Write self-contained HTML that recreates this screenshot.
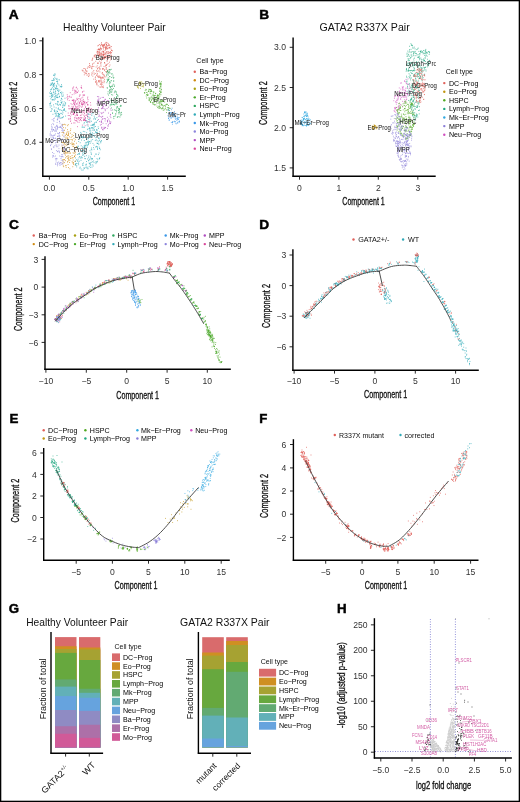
<!DOCTYPE html>
<html><head><meta charset="utf-8"><title>Figure</title>
<style>
html,body{margin:0;padding:0;background:#fff;}
body{width:520px;height:802px;overflow:hidden;}
svg{display:block;font-family:"Liberation Sans",sans-serif;will-change:transform;}
</style></head><body>
<svg width="520" height="802" viewBox="0 0 520 802">
<defs>
<clipPath id="clipA"><rect x="43.5" y="30" width="142.3" height="146"/></clipPath>
<clipPath id="clipB"><rect x="293.5" y="30" width="142.4" height="146"/></clipPath>
</defs>
<rect x="0" y="0" width="520" height="802" fill="#fff"/>
<g>
<text x="8.7" y="18.8" font-size="12.8" font-weight="bold" fill="#000" textLength="9.9" lengthAdjust="spacingAndGlyphs" stroke="#000" stroke-width="0.45">A</text>
<text x="63.1" y="31.1" font-size="10.3" fill="#111" textLength="102.7" lengthAdjust="spacingAndGlyphs">Healthy Volunteer Pair</text>
<path d="M54.51 79.94h.01M58.11 89.82h.01M49.99 96.34h.01M49.64 92.95h.01M56.22 111.04h.01M51.1 83.27h.01M59.67 116.59h.01M58.81 91.25h.01M54.24 110.54h.01M52.07 99.75h.01M59.86 90.13h.01M60.57 92.67h.01M54.34 99.94h.01M56.7 86.79h.01M62.5 105.15h.01M53.15 99.42h.01M57.93 113.26h.01M61.4 86.25h.01M56.11 107.83h.01M51.58 95.49h.01M49.67 103.74h.01M62 99.36h.01M60.82 100.34h.01M58.86 93.99h.01M63.28 116.46h.01M57.06 103.55h.01M50.03 105.27h.01M55.56 103.76h.01M51.2 84.39h.01M55.65 113.09h.01M50.37 93.66h.01M58.34 113.64h.01M62.93 112.74h.01M53.73 92.1h.01M55.1 113.67h.01M52 83.67h.01M52.97 95.31h.01M59.02 85.09h.01M55.28 99.05h.01M65.2 104.76h.01M57.76 101.41h.01M64.29 108.88h.01M63.87 109.7h.01M55.67 91.35h.01M50.76 102.18h.01M52.55 80.47h.01M54.78 75.42h.01M50.72 89.73h.01M59.44 79.83h.01M53.29 88.98h.01M55.19 78.65h.01M56.92 95.26h.01M54.82 85.18h.01M57.98 79.74h.01M57.98 118.01h.01M63.68 105.03h.01M53.44 89.87h.01M51.84 108.51h.01M58.05 108.84h.01M54.6 83.26h.01M63.49 110.08h.01M62.91 107.03h.01M52.85 96.81h.01M55.04 74.33h.01M53.41 104.86h.01M52.75 83.43h.01M52.34 82.4h.01M59.61 114.41h.01M63.29 95.06h.01M60.1 109.78h.01M50.44 103.39h.01M64.47 108.99h.01M61.75 94.99h.01M52.03 109.3h.01M54.65 109.84h.01M55.82 116.55h.01M64.38 110.1h.01M51.48 111.02h.01M65.67 103.23h.01M54.96 98.24h.01M65.51 102.89h.01M57.95 115.95h.01M56.37 113.1h.01M53.28 86.48h.01M53.09 99.98h.01M53.41 92.27h.01M55.01 94.08h.01M58.92 114.6h.01M56.15 115.22h.01M57.53 97.46h.01M56.48 81.42h.01M51.93 94.78h.01M61.33 98.6h.01M54.54 96.84h.01M58.44 109.08h.01M50.8 98.77h.01M53.22 85.74h.01M62.13 96.35h.01M58.55 107.96h.01M59.41 96.26h.01M57.71 104.87h.01M56.69 97.53h.01M57.13 116.31h.01M60.89 113.32h.01M58.51 116.39h.01M51.07 93.34h.01M50.24 103.8h.01M62.33 114.26h.01M51.63 105.94h.01M55.77 95.41h.01M65.83 111.29h.01M51.74 92.85h.01M57.77 88.6h.01M52.33 87.65h.01M58.42 93.26h.01M59.61 96.56h.01M62.4 117.7h.01M50.78 85.22h.01M53.6 78.96h.01M56.18 114.93h.01M58.7 105.22h.01M60.7 92.56h.01M59.79 109.87h.01M56.71 88.6h.01M58.4 115.63h.01M53.55 78.94h.01M57.96 83.97h.01M54.3 87.03h.01M61.91 86.34h.01M57.5 81.18h.01M54.9 73.84h.01M61.46 98.35h.01M52.22 94.84h.01M62.92 92.88h.01M57.42 111.39h.01M55.68 96.31h.01M60.69 118.19h.01M54.83 111.29h.01M61.01 102.25h.01M55.88 88.99h.01M50.2 107.08h.01M53.35 80.51h.01M63.8 103.84h.01M53.79 84.14h.01M53.98 94.13h.01M51.68 93.51h.01M54.26 89.4h.01M57.07 96.13h.01M52.42 96.22h.01M50.53 91.38h.01M54.17 83.71h.01M58.95 97.34h.01M61.76 103.25h.01M61.17 113.44h.01M55.62 88h.01M61.31 102.59h.01M64.16 101.86h.01M61.48 110.36h.01M51.37 97.09h.01M57.57 111.41h.01M62.68 111.01h.01M58.93 114.07h.01M60.61 104.89h.01M51.26 89.59h.01M50.78 111.45h.01M58.49 101.88h.01M59.65 104.31h.01M62.56 107.42h.01M57.55 97.62h.01M61.53 84.6h.01M50.27 85.22h.01M61.58 117.88h.01M57.4 90.6h.01M57.14 104.45h.01M62.04 101.38h.01M51.51 84.68h.01M61.63 87h.01M60.42 104.84h.01M60.49 86.38h.01M57.78 94.37h.01M56.93 78.45h.01M65.63 116.07h.01M62.94 117.53h.01M56.64 85.36h.01M52.58 99.75h.01M51.41 97.11h.01M62.94 96.4h.01M64.08 105.35h.01M52.93 114.29h.01M56.66 86.89h.01M51.39 88.82h.01M54.37 111.65h.01M64.75 105.8h.01M55.33 91.07h.01M55.13 92.69h.01M53.68 75.22h.01M53.24 85.22h.01M57.69 81.73h.01M64.03 110.35h.01M59.73 115.02h.01M64.99 98.26h.01M61.45 93.74h.01M61.8 102.65h.01M53.87 75.25h.01M57.03 88.81h.01M54.06 107h.01M60.15 86.84h.01M58.47 91.14h.01M51.84 80.44h.01M57.45 83.12h.01M56.65 79.42h.01M54.81 77.19h.01M53.07 84.88h.01M58.68 113.81h.01M61.74 91.99h.01M56.04 97.11h.01M55.41 88.56h.01M57.56 101.96h.01M53.61 84.43h.01M55.8 93.51h.01" stroke="#30aab8" stroke-width="1" stroke-linecap="round" fill="none" stroke-opacity="0.8"/>
<path d="M63.44 141.14h.01M55.87 164.27h.01M62.38 160.63h.01M51.64 124.87h.01M57.84 151.79h.01M64.12 153.81h.01M59.71 156h.01M56.86 145.13h.01M59.68 132.49h.01M51.92 129.84h.01M59.54 152.63h.01M57.87 146.73h.01M55.82 128.4h.01M59.02 117.53h.01M54.52 140.5h.01M64.38 149.87h.01M63.26 141.24h.01M53.52 129.6h.01M64.41 152.94h.01M54.61 118.11h.01M57.47 151.4h.01M56.3 130.12h.01M60.01 164.18h.01M53.4 118.74h.01M55.07 138.45h.01M60.24 127.1h.01M61.96 154.7h.01M57.57 127.47h.01M62.3 128.77h.01M53.32 155.78h.01M57.44 126.55h.01M53.35 138.27h.01M59.98 165.39h.01M52.2 137.07h.01M52.13 119.64h.01M50.9 137.06h.01M63.47 162.06h.01M63.97 133.79h.01M59.97 136.31h.01M55.61 133.92h.01M54.2 134.92h.01M55.35 158.9h.01M62.33 139.05h.01M50.74 141.15h.01M55.59 163.89h.01M52.9 135.58h.01M56.16 158.4h.01M63.8 130.11h.01M61.21 162.83h.01M55.09 130.89h.01M64.37 148.47h.01M53.93 153.55h.01M54.75 131.06h.01M63.75 149.33h.01M53.51 141.23h.01M55.8 129.8h.01M56.45 142.17h.01M62.04 154.66h.01M62.34 156.41h.01M59.11 133.72h.01M54.79 135.45h.01M52.96 155.4h.01M53.71 120.3h.01M50.51 145.18h.01M53.97 121.29h.01M51.45 142.42h.01M60.65 139.8h.01M53.51 138.26h.01M59.3 151.38h.01M61.22 160.2h.01M59.97 123.18h.01M62.61 131.98h.01M58.5 136.02h.01M61.07 127.16h.01M53.71 129.51h.01M58.67 133.64h.01M57.61 128.8h.01M62.13 150.32h.01M57.12 158.77h.01M62.61 163.63h.01M50.61 131.98h.01M51.79 126.67h.01M64.59 146.74h.01M63.95 135.98h.01M62.99 139.9h.01M53.9 156.67h.01M58.94 148.62h.01M53.26 135.8h.01M52.12 127.4h.01M53.82 147.57h.01M59.77 127.38h.01M50.17 133.69h.01M60.17 126.44h.01M54.68 127.37h.01M61.93 144.95h.01M55.93 145.06h.01M59.59 121.65h.01M52.46 152.47h.01M56.15 131.45h.01M54.69 145.89h.01M55.36 138.24h.01M55.46 127.06h.01M60.92 127.39h.01M56.36 158.84h.01M56.09 162.02h.01M56.91 125.29h.01M59.61 163.4h.01M51.34 148.73h.01M55.56 142.73h.01M52.19 131.45h.01M57.82 164.2h.01M51.63 142.02h.01M52.96 123.46h.01M57.24 119.72h.01M63.89 136.78h.01M63.56 148.64h.01M62.37 125.17h.01M61.79 128.33h.01M56.07 160.16h.01M62.44 126.33h.01M53.27 137.39h.01M57.77 136.56h.01M51.85 129.6h.01M60.87 162.76h.01M50.62 145.68h.01M58.99 145.05h.01M59.41 132.62h.01M56.3 146.71h.01M56.39 150.6h.01M56.7 139.36h.01M57.34 129h.01M61.45 156.78h.01M56.87 126.16h.01M57.1 122.46h.01M51.93 138.96h.01M51.38 139.54h.01M57.65 119.08h.01M59.55 121.19h.01M61 156.66h.01M57.67 119.77h.01M57.56 136.27h.01M60.98 158.56h.01M57.38 165.79h.01M61.83 164.46h.01M50.98 134.9h.01M61.34 125.1h.01M63.45 131.02h.01M62.23 124.32h.01M57.53 163.92h.01M53.12 130.41h.01M57.59 133.27h.01M60.2 162.67h.01M52.53 157.03h.01M51.73 144.07h.01M59.54 135.35h.01M63.09 145.31h.01M58.7 162.01h.01M59.45 137.11h.01M61.97 130.5h.01M55.4 156h.01M56.63 126.01h.01M62.3 129.94h.01M58.79 150.85h.01M59.24 139.04h.01M57.69 162.67h.01M51.98 128.59h.01M59.8 118.14h.01M50.04 135.1h.01M51.6 135.21h.01M53.36 146.76h.01M58.84 127.41h.01M59.36 141.22h.01M53.65 124.61h.01M51.44 149.55h.01M63.07 156.89h.01" stroke="#8c84dc" stroke-width="1" stroke-linecap="round" fill="none" stroke-opacity="0.8"/>
<path d="M68.43 135.42h.01M71 139.47h.01M72.33 143.86h.01M65.98 165.46h.01M62.7 147.98h.01M68.5 134.17h.01M62.93 159.61h.01M62.2 148.89h.01M65.19 151.58h.01M70.11 153.15h.01M66.95 137.11h.01M74.53 156.62h.01M73.92 144.87h.01M73.87 144.27h.01M65.62 127.95h.01M65.72 124.82h.01M67.37 158.23h.01M73.12 162.73h.01M73.39 135.5h.01M70.86 143.49h.01M74.62 147.59h.01M66.24 153.17h.01M66.17 134.1h.01M73.94 138.36h.01M65.83 165.66h.01M72.09 155.56h.01M69.51 162.47h.01M73.16 163.3h.01M69 157.06h.01M71.13 137.46h.01M65.39 152.26h.01M63.24 165.81h.01M64.31 124.26h.01M63.71 166.66h.01M67.52 129.67h.01M62.46 124.96h.01M73.08 152.79h.01M73.15 157.63h.01M63.05 150.75h.01M67.81 161.43h.01M75.11 164.89h.01M63.06 163.79h.01M63.71 132.67h.01M63.79 124.62h.01M75.56 161.16h.01M72.15 161.78h.01M72.1 136.51h.01M63.6 127.6h.01M74.12 132.63h.01M67.11 142.92h.01M62.33 135.07h.01M66.52 156.64h.01M67.89 138.08h.01M75.62 152.06h.01M62.5 142.41h.01M68.98 159.33h.01M67.55 156.12h.01M70.61 133.18h.01M62.02 132.5h.01M62.07 146.07h.01M69.86 160.45h.01M64.95 146.25h.01M67.55 162.1h.01M66.17 167.36h.01M66.54 133.09h.01M73.19 146.42h.01M63.76 152.92h.01M63.29 160.03h.01M73.15 159.99h.01M72.05 139.71h.01M68.42 141.55h.01M65.3 135.37h.01M76.42 146.56h.01M68.07 164.55h.01M65.74 144.66h.01M70.5 158.46h.01M74.05 153.38h.01M67.58 138.35h.01M64.49 162.63h.01M72.59 157.87h.01M64.71 143.62h.01M74.37 150.22h.01M64.02 144.71h.01M65.07 137.17h.01M73.25 162.65h.01M64.47 130.33h.01M65.96 138.35h.01M70.35 130.56h.01M67.25 131.9h.01M63.63 141.06h.01M73.73 143.44h.01M65.14 152.99h.01M63.71 132.7h.01M68.21 124.59h.01M68.38 160.18h.01M73.1 146.52h.01M72.12 144.77h.01M64.27 151.37h.01M68.48 157.82h.01M76.53 143.21h.01M71.18 158.21h.01M68.74 133.74h.01M73.56 164.36h.01M74.38 155.9h.01M75.64 154.94h.01M72.26 144.33h.01M67.01 152.53h.01M63.57 142.72h.01M74.52 156.52h.01M72.07 134.75h.01M68.78 144.39h.01M71.95 142.24h.01M72.8 166.72h.01M64.93 153.76h.01M74.45 141.27h.01M69.84 168.81h.01M62.61 148.54h.01M64.57 159.74h.01M77.05 147.4h.01M63.62 150h.01M70.66 156.71h.01M70.2 153.05h.01M75.26 147.52h.01M68.57 167.55h.01M65.36 155.16h.01M68.28 158.85h.01M67.69 125.66h.01M66.39 141.79h.01M62.21 142.67h.01M68.73 155.82h.01M67.63 135.46h.01M65.59 157.85h.01M77.04 147.77h.01M65.5 160.67h.01M68.27 132.96h.01M64.07 159.5h.01M74.95 152.81h.01M69.51 149.42h.01M67.65 153.02h.01M75.1 161.36h.01M69.49 136.83h.01M70.77 128.88h.01M75.34 139.67h.01M68.02 134.92h.01M68.82 131.74h.01M66.5 134.51h.01M66.83 145.54h.01M68.86 152.95h.01M72.55 140.03h.01M62.91 161.91h.01" stroke="#d08a10" stroke-width="1" stroke-linecap="round" fill="none" stroke-opacity="0.8"/>
<path d="M99.36 158.47h.01M77.93 161.22h.01M91.73 113.87h.01M92.37 127.5h.01M80.54 158.03h.01M99.31 158.92h.01M78.7 164.69h.01M91.03 158.31h.01M92.72 164.85h.01M96.07 161.65h.01M79.53 153.18h.01M88.86 156.03h.01M86.28 164.2h.01M89.54 128.34h.01M87.81 116.39h.01M87.08 121.38h.01M87.76 141.89h.01M89.11 163.05h.01M87.1 145.63h.01M92.63 161.75h.01M84.5 137.29h.01M91.84 149.9h.01M83.25 169.94h.01M88.3 141.11h.01M94.11 149.27h.01M83.48 162.98h.01M84.25 140.52h.01M88.72 157.69h.01M79.9 138.24h.01M85.83 145.13h.01M97.15 129.99h.01M97.18 136.42h.01M88.1 128.76h.01M92.33 158.93h.01M83.27 131.39h.01M82.38 147.01h.01M91.77 158.48h.01M98.8 144.63h.01M99.8 148.3h.01M92.42 158.76h.01M99.48 148.48h.01M91.27 149.36h.01M93.5 147.59h.01M93.07 125.33h.01M92.68 139.56h.01M95.35 118.88h.01M92.36 134.39h.01M97.03 158.62h.01M89.74 127.96h.01M82.46 137.46h.01M82.92 137.98h.01M91.97 167.16h.01M96.69 146.37h.01M99.72 138.9h.01M90.58 167.39h.01M101.46 140.58h.01M85.55 118.92h.01M92.05 125.31h.01M76.47 163.43h.01M94.14 127.05h.01M94.54 123.87h.01M75.4 157.89h.01M93.98 162.62h.01M94.43 117.89h.01M91.6 154.14h.01M86.9 167.08h.01M81.11 168.93h.01M96.89 117.62h.01M82.71 155.31h.01M78.65 162.94h.01M87.62 116.47h.01M84.29 146.35h.01M86.28 152.26h.01M78.06 159.25h.01M84.17 150.4h.01M91.63 137.24h.01M84.8 158.6h.01M89.87 129.96h.01M93.69 160.99h.01M83.3 148.14h.01M90.83 130.9h.01M86 164.51h.01M84.55 152.72h.01M90.85 164.97h.01M96.61 129.43h.01M85.83 147.03h.01M75.18 161.33h.01M90.01 128.88h.01M97.83 159.81h.01M93.17 166h.01M89.5 159.25h.01M79.61 156.51h.01M90.99 152.3h.01M87.03 124.98h.01M81.13 156.57h.01M96.17 139.66h.01M76.46 159.78h.01M95.62 126.51h.01M90.23 165.02h.01M98.78 143.27h.01M87.34 147.18h.01M79.06 153.66h.01M84.16 145.74h.01M85.27 143h.01M76.97 149.7h.01M96.05 122.06h.01M90.72 133.01h.01M88.54 114.19h.01M98.25 141.21h.01M89.88 128.17h.01M95.82 137.71h.01M89.61 163.5h.01M86.83 167.94h.01M90.75 136.05h.01M81.2 145.74h.01M92.75 135.8h.01M86.55 122.26h.01M81.16 133.42h.01M96.02 154.16h.01M92.95 130.33h.01M90.56 156.96h.01M87.48 122.78h.01M92.97 113.73h.01M94.08 124.32h.01M80.18 167.17h.01M76.72 166.87h.01M97.58 149.45h.01M86.67 132.71h.01M97.05 140.7h.01M91.59 121.28h.01M93.98 145.1h.01M78.05 163.5h.01M81.46 136.88h.01M97.51 132.4h.01M78.7 141.48h.01M82.91 165.38h.01M75.59 164.91h.01M92.71 125.25h.01M87.37 129.6h.01M94.34 130.02h.01M96.6 132.77h.01M97.3 143.54h.01M79.2 138.24h.01M90 121.01h.01M79.04 157.69h.01M93.93 124.41h.01M91.04 141.74h.01M91.15 154.05h.01M96.72 146.81h.01M94.52 136.67h.01M94.21 116.21h.01M96.7 132.44h.01M87.8 113.9h.01M99.49 140.64h.01M98.42 128.44h.01M79.21 161.23h.01M84.28 122.48h.01M84.39 147.5h.01M86.48 142.91h.01M77.38 154.45h.01M82.99 154.25h.01M84.68 156.58h.01M75.71 163.62h.01M100.71 141.7h.01M88.37 143.77h.01M89.05 114.2h.01M81.01 160.39h.01M93.57 124.31h.01M90.14 143.33h.01M93.67 118.97h.01M98.35 154.59h.01M87.82 142.04h.01M85.36 120.94h.01M90.57 162.94h.01M78.12 146.22h.01M94.9 122.53h.01M84.88 137.39h.01M97.51 143.49h.01M85.08 167.59h.01M95.75 132.64h.01M80.73 132.43h.01M96.82 162.16h.01M80.98 137.48h.01M91.72 134.14h.01M88.86 117.02h.01M86.13 142.28h.01M100.23 149.73h.01M91.96 128.41h.01M93 128.86h.01M89.18 166.61h.01M91.4 127.53h.01M88.57 138.15h.01M82.55 150.56h.01M77.37 147.47h.01M100.77 142.8h.01M81.52 140.05h.01M88.95 121.61h.01M82.22 136.58h.01M82.07 127.12h.01M97.51 148.38h.01M89.97 150.72h.01M79.63 154.2h.01M86.9 144.79h.01M91.16 140.2h.01M82.69 127.05h.01M80.2 142.72h.01M84.73 146.97h.01M98.13 126.84h.01M89.59 141.5h.01M81.97 170.28h.01M82.27 157.78h.01M98.4 138.52h.01M86.32 155.65h.01M83.87 152.17h.01M91.26 162.3h.01M96.99 143.03h.01M94.69 156.11h.01M95.27 140.56h.01M95.98 154.1h.01M95.44 146.98h.01M87.94 168.84h.01M90.01 137.24h.01M95.94 163.62h.01M91.01 135.01h.01M86.66 139.56h.01M94.25 129.99h.01M84.94 145.21h.01M84.77 131.68h.01M96.04 162.27h.01M87.99 138.75h.01M78.06 146.38h.01M90.28 118.1h.01M99.76 131.78h.01M97.61 161.61h.01M85.94 165.81h.01M89.82 141.85h.01M99.77 157.86h.01M88.49 143h.01M93.19 135.59h.01M84.02 147.49h.01M83.83 167.98h.01M92.94 143.46h.01M85.23 145.56h.01M90.07 164.03h.01M101.01 141.23h.01M86.32 149.23h.01M88.84 160.32h.01M88.35 119.41h.01M99.05 153.01h.01M98.87 137.41h.01M88.32 142.28h.01M91.64 147.98h.01M91.82 115.45h.01M85.52 158.68h.01M82.59 153.06h.01M97.58 147h.01M92.71 124.41h.01M87.94 145.09h.01M81.45 150.52h.01M90.09 136.84h.01M95.27 119.19h.01M88.63 160.74h.01M91.16 159.78h.01M95.58 131.72h.01M94.03 133.52h.01M76.78 165.42h.01M90.3 133.24h.01M86.6 135.37h.01M75.53 164.65h.01M86.31 148.97h.01M82.81 165.13h.01M96.85 130.61h.01M87.88 168.08h.01M80.8 135.61h.01M94.12 125.84h.01M82.66 163.77h.01M87.56 158.98h.01M84.04 123.82h.01M89.72 119.66h.01M88.95 135.36h.01M77.45 160.9h.01M83.83 127.21h.01M92.6 132.8h.01M78.37 153.94h.01M97.38 120.41h.01M86.41 161.51h.01M96.54 122.23h.01M83.88 154.9h.01M84.55 168.59h.01M79.83 168.15h.01M88.14 126.18h.01M86.68 120.59h.01M93.78 128.12h.01M99.19 147.08h.01M84.3 127.28h.01M91.03 125.33h.01M88.36 144.47h.01M81.57 157.76h.01M84.77 151.14h.01M89.9 131.03h.01" stroke="#30aab8" stroke-width="1" stroke-linecap="round" fill="none" stroke-opacity="0.8"/>
<path d="M76.14 87.79h.01M70.6 121.44h.01M74.35 113.16h.01M68.83 108.73h.01M75.4 106.02h.01M73.72 86.9h.01M74.09 93.96h.01M69.28 115.53h.01M73.34 101.75h.01M89.63 118.1h.01M88.95 121.9h.01M69.44 96.17h.01M83.25 99.46h.01M76.73 113h.01M84.18 94.93h.01M88.01 99.49h.01M82.35 91.99h.01M85.09 115.35h.01M70.21 92.72h.01M73.88 100.75h.01M67.02 97.68h.01M82.6 91.91h.01M87.83 109.09h.01M84.63 95.21h.01M77.31 114.11h.01M87.69 118.16h.01M88.21 110.73h.01M67.23 94.76h.01M68.89 118.82h.01M84.06 101.32h.01M85.44 120.46h.01M73.31 87.96h.01M90.61 102.65h.01M90.19 114.43h.01M85.2 120.52h.01M82.33 103.92h.01M77.14 106.52h.01M84.27 119.45h.01M72.79 108.04h.01M91.2 112.05h.01M80.14 94.99h.01M67.54 99.74h.01M76.7 92.86h.01M74.07 90.01h.01M84.38 113.49h.01M72.18 94.64h.01M79.4 103.58h.01M73.78 122.93h.01M69.69 108.78h.01M74.67 119.88h.01M80.25 117.46h.01M70.4 113.33h.01M81.57 104.29h.01M85.92 120.57h.01M68.98 96.73h.01M75.37 93.08h.01M67.57 96.36h.01M71.12 114.87h.01M77.65 88.97h.01M74.44 104.62h.01M75.44 91.4h.01M68.18 115.55h.01M91.49 108.8h.01M68.83 105.51h.01M77.29 92.35h.01M89.91 112.36h.01M82.32 125.15h.01M82.97 95.06h.01M72.4 90.1h.01M87.83 97.04h.01M70.83 112.08h.01M87.99 124.77h.01M70.38 118.52h.01M87.59 116.66h.01M74.49 92.12h.01M87.46 98.09h.01M75.58 108.25h.01M75.6 120.58h.01M80.74 111.64h.01M87.31 115.05h.01M78.85 105.98h.01M70.09 97.18h.01M81.11 87.53h.01M83.89 91.2h.01M77.52 126.67h.01M77.43 92.4h.01M87.86 121.63h.01M86.46 102.72h.01M73.36 113.11h.01M79.38 102.53h.01M74.81 103.3h.01M83.32 120.35h.01M73.69 103.5h.01M80.65 99.32h.01M74.42 104.26h.01M91.01 111.27h.01M83.59 110.8h.01M73.72 109.13h.01M90.77 105.15h.01M82.83 97.17h.01M74.93 122.94h.01M83.65 103.68h.01M68.22 113.06h.01M75.67 109.55h.01M76.83 107.32h.01M80.69 101.44h.01M89.14 108.12h.01M72.59 88.18h.01M79.8 95.07h.01M78.72 108.38h.01M71.89 109.2h.01M68.94 106.58h.01M81.3 87.53h.01M76.61 87.23h.01M77.43 121.99h.01M80.31 115.44h.01M76.19 91.54h.01M90.96 108.77h.01M72.16 100.38h.01M71.54 97.2h.01M84.39 102.74h.01M89.1 111.33h.01M88.68 108.77h.01M89.86 122.31h.01M70.37 116.8h.01M74.88 117.6h.01M83.69 120.33h.01M69.19 100.41h.01M85.17 125.71h.01M81.7 88.38h.01M80.27 119.33h.01M83.56 95.2h.01M71.02 103.66h.01M87.79 109.58h.01M68.87 119.23h.01M70.82 108.39h.01M73.54 114.24h.01M75.9 90.35h.01M88.76 107.69h.01M83.93 119.56h.01M74.9 90.64h.01M79.05 122.41h.01M70.74 120.01h.01M83.67 101.27h.01M78.37 90.96h.01M87.97 101.31h.01M88.7 110.88h.01M67.97 98.49h.01M71.62 123.34h.01M81.32 85.92h.01" stroke="#d8449a" stroke-width="1" stroke-linecap="round" fill="none" stroke-opacity="0.8"/>
<path d="M74.06 105.02h.01M79.42 110.43h.01M77.98 104.84h.01M79.27 120.66h.01M83.08 102.82h.01M75.92 108.5h.01M75.72 110.22h.01M80.51 119.92h.01M81.09 115.27h.01M86.7 115.36h.01M82.4 111.87h.01M77.53 103.04h.01M85.32 117.82h.01M87.9 113.03h.01M76.47 115.08h.01M84.31 108.72h.01M82.43 104.76h.01M80.91 106.15h.01M72.09 104.43h.01M76.82 120.71h.01M79.67 105.18h.01M75.38 101.87h.01M77.29 99.39h.01M79.16 107.14h.01M81.24 103.56h.01M76.43 103.71h.01M84.08 109.78h.01M87.87 104.51h.01M87.58 110.58h.01M72.44 100.47h.01M81.45 120.69h.01M77.43 115.36h.01M78.71 117.71h.01M72.22 108.11h.01M87.18 102.9h.01M73.96 102.7h.01M83.68 101.46h.01M78.19 101.01h.01M81.85 117.6h.01M82.67 100.92h.01M84.21 120.08h.01M81.82 97.98h.01M85.57 117.89h.01M77.14 99.42h.01M74.39 109.42h.01M86.76 112h.01M76.88 114.73h.01M82.68 106.13h.01M83.22 104.44h.01M72.03 106.36h.01M71.82 111.66h.01M77.02 108.36h.01M81.76 102.43h.01M79.34 96.34h.01M87.66 110.1h.01M82.05 114.1h.01M76.92 98.34h.01M73.81 99.57h.01M85.65 106.58h.01M80.7 110.71h.01M80.99 112.43h.01M81.83 104.27h.01M84.34 102.45h.01M83.81 115.08h.01M84.97 103.73h.01M84.91 120.43h.01M79.16 102.96h.01M80.42 119.52h.01M79.56 112.38h.01M84.93 105.06h.01M72.08 108.55h.01M80.99 100.55h.01M87.92 105.14h.01M73.69 100.44h.01M84.28 119.04h.01M85.01 102.06h.01M82.45 104.61h.01M85.41 107.5h.01M76.83 118.59h.01M72.94 114.33h.01M72.18 112.14h.01M78.23 117.6h.01M72.08 110.11h.01M78.38 118.98h.01M88.01 111.68h.01M75.03 102.3h.01M75.72 106.84h.01M75.16 101.08h.01M84.67 112.07h.01M76.37 120.86h.01M74.9 110.24h.01M86.65 102.68h.01M84.53 116.57h.01M76.09 104.29h.01M79.74 118.27h.01M73.91 113.07h.01M81.76 107.33h.01M81.43 118.07h.01M74.78 118.09h.01M77.49 115.5h.01M73.71 114.4h.01M72.76 100.22h.01M77.11 118.96h.01M83.89 118.05h.01M75.22 115.8h.01M80.09 101.79h.01M78.75 98.62h.01M76.7 117.96h.01M73.17 108.18h.01M73.44 106.71h.01M74.22 113.13h.01M73.66 114.46h.01M80.01 98.81h.01M77.36 108.41h.01M87.54 104.74h.01M86.9 114.28h.01M75.91 100.43h.01M71.78 108.72h.01M78.35 109.92h.01M83.39 112.33h.01" stroke="#d8449a" stroke-width="1" stroke-linecap="round" fill="none" stroke-opacity="0.8"/>
<path d="M98.8 48.78h.01M101.59 42.66h.01M109.26 45.38h.01M100.86 53.34h.01M97.61 54.58h.01M100.73 53.94h.01M101.95 52.22h.01M105.08 50.49h.01M98.5 45.37h.01M104.32 57.14h.01M101.69 53.41h.01M105.37 53.25h.01M108.41 44.22h.01M105.99 49.47h.01M102.93 45.95h.01M100.9 45.49h.01M101.34 58.18h.01M111.41 50.54h.01M107.96 45.67h.01M97.83 45.85h.01M105.12 57.21h.01M104.29 45.27h.01M103.32 45.32h.01M98.32 49.41h.01M102.49 46.17h.01M100.43 45.96h.01M105.55 57.06h.01M103.79 58.57h.01M97.8 51.71h.01M99.03 49.69h.01M105.04 53.65h.01M109.72 47.77h.01M98.76 49.58h.01M106.01 46.67h.01M107.9 57.31h.01M98.3 52.18h.01M108.04 43.4h.01M105.62 49.19h.01M99.14 55.76h.01M105.66 47.78h.01M106.78 54.01h.01M108.32 53.56h.01M106.4 44.7h.01M102.23 51.24h.01M98.17 55.68h.01M102.68 45.14h.01M97.42 51.53h.01M104.67 47.21h.01M102.44 45.84h.01M100.63 49.96h.01M101.29 54.1h.01M103.72 51.27h.01M106.34 56.62h.01M107.66 51.77h.01M103.67 46.13h.01M102.74 54.24h.01M105.72 48.28h.01M99.64 44.55h.01M106.06 55.78h.01M106.15 44.05h.01M103.34 51.79h.01M99.97 52.32h.01M103.49 46.01h.01M99.11 54.24h.01M106.27 45.82h.01M99.93 54.77h.01M107.62 48.81h.01M111.14 49.22h.01M99.96 55.48h.01M103.48 52.49h.01M104.69 45.27h.01M98.94 49.53h.01M110.16 46.2h.01M110.58 51.55h.01M99.21 51.85h.01M107.25 45.87h.01M97.05 51.82h.01M99.29 52.7h.01M97.26 49.93h.01M101.2 44.08h.01M103.19 51.49h.01M101.96 44.78h.01M105.35 43.1h.01M107.27 53.2h.01M110.9 54.08h.01M106.41 52.01h.01M104.63 44.12h.01M110.71 52.88h.01M103.15 44.77h.01M110.76 52.88h.01M99.18 53.7h.01M111.73 50.41h.01M106.62 48.16h.01M101.59 55.78h.01M112.45 50.82h.01M103.87 54.8h.01M102.94 54.46h.01M108.27 45.59h.01M99.33 50.12h.01M108.69 51.98h.01M109.3 44.85h.01M107.02 47.12h.01M105.04 52.35h.01M99.74 49.31h.01M99.05 51.82h.01M100.32 47.92h.01M105.64 46.89h.01M109.72 47.42h.01M108.76 52.01h.01M99.49 49.38h.01M100.32 48.58h.01M103.45 58h.01M102.76 57.42h.01M106.49 44.31h.01M97.08 52.81h.01M97.45 53.2h.01M109.43 52.49h.01M103.37 49.06h.01M105.89 48.77h.01M101.71 48.45h.01M109.79 47.52h.01M106.27 44.8h.01M101.47 44.3h.01M103.48 54.25h.01M106.11 47.74h.01M107.66 48.59h.01M106.49 52.05h.01M106.17 42.4h.01M98.92 54.02h.01M104.14 58.58h.01M103.27 47.42h.01M110.75 52.97h.01M111.56 52.52h.01M103.46 54.45h.01M100.57 48.13h.01M101.59 49.26h.01M108.38 47.96h.01M106.19 47.72h.01M106.92 42.49h.01M103.37 51.47h.01M99.83 55.16h.01M105.48 56.69h.01M109.04 53.71h.01M103.79 44.98h.01M103.33 47.91h.01M105.82 47.88h.01M111.58 46.57h.01M109.89 48.21h.01M103.3 55.35h.01M104.51 44.51h.01" stroke="#e0605a" stroke-width="1" stroke-linecap="round" fill="none" stroke-opacity="0.8"/>
<path d="M109.89 56.25h.01M96.54 83.24h.01M99.93 71.93h.01M107.36 60.95h.01M99.96 86.86h.01M101.7 54.75h.01M91.99 68.74h.01M98.78 56.35h.01M98.55 80.58h.01M99.87 69.15h.01M83.01 70.97h.01M85.96 73.23h.01M92.59 66.11h.01M101.89 58.74h.01M108.2 69.81h.01M108.37 57.1h.01M96.88 71.76h.01M85.53 69.37h.01M86.92 71.74h.01M97.2 65.84h.01M87.93 67.13h.01M97.05 84.17h.01M96.65 80.69h.01M99.11 77.11h.01M97.54 63.22h.01M108.72 55.95h.01M99.36 61.19h.01M99.86 80.44h.01M103.32 55.17h.01M89.37 73.97h.01M100.55 77.21h.01M106.44 64.97h.01M106.32 69.16h.01M94.21 56.08h.01M102.36 58.29h.01M96.39 70.41h.01M104.54 75.27h.01M87.97 74.88h.01M92.48 58.68h.01M104.37 57.72h.01M99.71 68.24h.01M108.12 63.46h.01M110.38 57.05h.01M95.74 61.28h.01M96.78 84.78h.01M102.56 77.86h.01M105.81 76.9h.01M94.19 56.05h.01M101.57 82.27h.01M92.19 73.82h.01M82.13 70.12h.01M106.37 67.65h.01M100.14 69.01h.01M92.06 60.48h.01M100.58 63.22h.01M103.04 68.47h.01M101.83 81.25h.01M100.31 84.29h.01M93.83 70.49h.01M106.92 58.68h.01M95.64 81.33h.01M89.52 65.33h.01M85.03 72.34h.01M107.87 70.99h.01M84.28 74.84h.01M92.85 76.14h.01M100.96 66.16h.01M97.67 76.68h.01M102.51 72.51h.01M95.43 79.29h.01M104.49 54.23h.01M86.34 73.56h.01M99.3 54.63h.01M93.77 79.16h.01M101.24 62.83h.01M104.87 63.19h.01M98.33 67.72h.01M103.29 77.18h.01M99.25 81.91h.01M105.81 65.15h.01M86.2 71.06h.01M108.32 58.68h.01M104.15 58.97h.01M90.93 66.4h.01M110.31 59.91h.01M91.63 68.34h.01M93.82 66.49h.01M95.51 82.3h.01M101.11 80.25h.01M104.71 69.46h.01M98.76 76.47h.01M104.58 62.64h.01M97.88 63.09h.01M100.91 62.09h.01M105.14 54.45h.01M106.8 72.83h.01M84.1 72.2h.01M104.61 76.73h.01M101.34 86.86h.01M101.02 77.22h.01M105.24 66.81h.01M92.25 66.74h.01M106.17 65.24h.01M97.95 71.24h.01M102.08 84.55h.01M97.06 82.82h.01M102.03 73.22h.01M94.11 73.08h.01M104.62 70.52h.01M104.29 81.73h.01M101.47 83.75h.01M103.11 74.43h.01M100.1 81.85h.01M102.28 87.12h.01M106.06 65.59h.01M102.98 55.53h.01M107.16 64.38h.01M83.77 68.6h.01M98.65 81.26h.01M100.88 64.9h.01M91.93 72.9h.01M106.26 71.8h.01M82.85 70.66h.01M94.72 55.21h.01M100.9 78.36h.01M99.55 67h.01M97.36 73.61h.01M111.59 55.5h.01M96.34 57.68h.01M95.62 76.89h.01M103.25 68.91h.01M92.25 59.65h.01M94.09 62.89h.01M97.49 68.35h.01M98.81 77.54h.01M103.68 78.18h.01M103.66 75.06h.01M89.91 65.44h.01M86.91 75.13h.01M106.13 68.93h.01M96.29 81.77h.01M98.9 70.78h.01M103.31 86.09h.01M103.97 66.45h.01M88.42 73.49h.01M95.91 54.51h.01M100.74 83.99h.01M96.54 75.38h.01M109.17 66.39h.01M85.12 73.69h.01M95.69 73.49h.01M101.09 77.74h.01M95.19 55.36h.01M103.73 54.88h.01M96.12 67.01h.01M102.19 77.98h.01M89.19 75.73h.01M102.76 69.51h.01M99.97 55.2h.01M88.86 66.73h.01M101.02 78.96h.01M88.59 76.52h.01M109.58 62.2h.01M104.71 56.63h.01M86.88 70.92h.01M98.68 81.75h.01M97.07 74.69h.01M99.84 80.98h.01M98.36 63.18h.01M95.74 57.28h.01M101.5 60.25h.01M94.87 56.86h.01M103.91 82.74h.01M107.45 56.55h.01M93.03 63.6h.01M104.87 58.17h.01M100.19 87.25h.01M102.77 73.96h.01M97.6 68.95h.01M94.22 74.39h.01M101.46 85.07h.01M103.98 80.88h.01M103.5 54.07h.01M102.43 82.75h.01M95.25 77.73h.01M89.58 63.52h.01M92.45 64.35h.01M84.84 68.5h.01M104.58 62.6h.01M89.49 67.43h.01M105.84 71.62h.01M91.41 74.94h.01M93.01 71.8h.01M110.97 58.64h.01M97.93 75.75h.01M98.15 85.83h.01M102.69 86.86h.01M103.47 87.64h.01M87.29 68.33h.01M102.61 77.17h.01M104.38 79.36h.01M99.73 75.96h.01M99.94 77.32h.01M92.85 57.98h.01M85.39 70.28h.01M91.09 67.31h.01M102.69 68.57h.01M103.85 56.32h.01M109.97 64.98h.01M106.86 60.92h.01" stroke="#e0605a" stroke-width="1" stroke-linecap="round" fill="none" stroke-opacity="0.8"/>
<path d="M119.68 108.95h.01M116.55 97.94h.01M108.3 72.95h.01M116.44 97.05h.01M109.57 71.3h.01M111.82 104.85h.01M110.03 86.68h.01M110.56 87.42h.01M109.1 79.17h.01M112.15 86.63h.01M116.26 92.06h.01M116.62 110.66h.01M109.76 69.5h.01M113.36 104.29h.01M107.5 74.01h.01M109.69 90.45h.01M107.89 71.46h.01M111.78 91.93h.01M107.14 79.34h.01M117.91 96.71h.01M119.92 117.09h.01M109.84 76.7h.01M107.33 81.53h.01M113.25 84.21h.01M109.29 101.81h.01M111.78 74.11h.01M116.45 94.25h.01M117.85 95.39h.01M109.75 93.45h.01M115.68 101.21h.01M121.13 105.76h.01M109.63 98.5h.01M109.47 69.83h.01M113.02 75.16h.01M115.33 115.91h.01M112.43 102.64h.01M109.73 92.33h.01M114.19 116.36h.01M113.87 118.58h.01M111.15 88.76h.01M111.49 102.1h.01M110.13 91.16h.01M114.99 104.3h.01M108.2 80.26h.01M108.39 74.99h.01M114.36 97.65h.01M109.75 76.54h.01M115.37 91.07h.01M112.54 113.31h.01M116.59 111.87h.01M110.63 82.74h.01M121.47 112.39h.01M112.72 95h.01M119.58 109.16h.01M116.45 94.15h.01M107.87 80.43h.01M116.53 97.9h.01M118.82 113.84h.01M109.78 86.68h.01M114.38 102.55h.01M115.99 92.06h.01M116.75 108.78h.01M116.85 104.17h.01M109.73 89.96h.01M116.61 107.11h.01M108.04 79.35h.01M109.44 81.57h.01M106.57 74.94h.01M112.5 89.46h.01M111.69 103.93h.01M113 76.95h.01M118.27 110.61h.01M116.27 100.36h.01M117.28 117.28h.01M110.81 81.04h.01M119.15 98.66h.01M119.59 112.63h.01M110.24 104.27h.01M111.37 94.64h.01M111.12 89.29h.01M113.66 81.18h.01M106.88 72.28h.01M108.6 72.66h.01M115.98 103.53h.01M113.87 77.61h.01M106.82 75.85h.01M118.75 108.9h.01M118.86 108.35h.01M109.7 72.76h.01M116.62 96.82h.01M108.21 77.83h.01M110.14 89.6h.01M114.53 104.95h.01M109.54 82.83h.01M116.24 103.25h.01M115.84 113.99h.01M109.27 83.87h.01M108.52 79.54h.01M118.34 110.18h.01M117.46 116.89h.01M111.05 104.78h.01M107.43 70.5h.01M120.91 112.74h.01M113.39 78.08h.01M107.91 93.85h.01M114.34 86.5h.01M117.46 94.99h.01M107.12 87.74h.01M113.74 80.88h.01M111.09 92.32h.01M117.4 107.29h.01M111.95 90.79h.01M120.84 115.63h.01M113.29 100.48h.01M110.46 69.91h.01M121.7 114.39h.01M108.06 91.76h.01M107.37 88.09h.01M106.82 82.69h.01M107.7 71.6h.01M108.62 95.12h.01M112.81 85.24h.01M107.97 80.38h.01M110.15 105.77h.01M120.27 114.12h.01M113.56 116.78h.01M113.44 104.52h.01M111.42 80.64h.01M110.08 91.93h.01M111.47 77.56h.01M112.69 109.91h.01M115.7 113.87h.01M119.58 109.76h.01M110.26 86.66h.01M111.99 86h.01M112.05 73.62h.01M112.57 100.43h.01M120.2 106.53h.01M117.65 106.5h.01M114.63 85.16h.01M119.5 111.24h.01M121.01 105.96h.01M116.83 101.28h.01M114.76 91.24h.01M111.43 107.93h.01M118.52 112.36h.01M109.43 85.36h.01M109.99 73.12h.01M111.23 69.33h.01M107.13 71.45h.01M113.39 88.49h.01M118.84 116.66h.01M110.96 100.25h.01M120.39 105.42h.01M115.4 110.29h.01M114.3 92.69h.01M112.66 112.9h.01M111.8 86.53h.01M112.92 104.59h.01M114.38 109.84h.01" stroke="#30a860" stroke-width="1" stroke-linecap="round" fill="none" stroke-opacity="0.8"/>
<path d="M108.62 107.19h.01M99.56 121.56h.01M108.83 102.1h.01M102.94 108.08h.01M107.36 128.4h.01M99.23 105.17h.01M101.26 121.09h.01M98.99 114.23h.01M104 118.73h.01M108.72 100.78h.01M110.56 114.4h.01M108.15 126.13h.01M101.79 128.19h.01M104.04 127.25h.01M104.17 128.51h.01M104.96 99.32h.01M106.1 123.73h.01M102.78 116.28h.01M100.15 104.21h.01M102.72 112.99h.01M103.49 97.42h.01M107.47 121.69h.01M99.79 103.46h.01M104.27 100.49h.01M105.65 127.45h.01M99.23 115.66h.01M107.53 121.72h.01M107.39 120.29h.01M100.36 125.02h.01M111.11 110.38h.01M97.38 96.58h.01M108.75 119.07h.01M98.27 111.02h.01M101.38 122.36h.01M99.92 101.36h.01M98.58 109.17h.01M105.89 105.22h.01M98.59 102.08h.01M97.36 101.15h.01M101.05 112.67h.01M98.94 111.75h.01M103.04 130h.01M103.78 128.96h.01M103.54 101.32h.01M105.47 99.35h.01M98.71 96.71h.01M102.45 107.1h.01M102.8 107.02h.01M107.05 108.5h.01M109.59 120.95h.01M101.67 117.31h.01M110.72 108.86h.01M102.92 105.03h.01M104.87 118.52h.01M98.33 107.54h.01M109.63 123.27h.01M105.44 119.06h.01M104.79 108.89h.01M98.92 98.27h.01M110.36 123.62h.01M103.67 112.34h.01M101.82 127.12h.01M101.6 113.68h.01M110.87 117.65h.01M103.63 106.31h.01M102.19 116.54h.01M108.58 103.64h.01M101.93 108.35h.01M101.81 127.78h.01M104.62 104.21h.01M101.32 124.39h.01M98.56 119.53h.01M98.35 102.44h.01M96.92 103.76h.01M107.73 120.65h.01M104.81 128.11h.01M102.94 101.14h.01M107.97 125.77h.01M102.17 97.45h.01M109.97 121.88h.01M107.33 117.31h.01M97.8 100h.01M98.89 116.54h.01M102.95 108.46h.01M100.05 102.61h.01M107.29 100.48h.01M98.88 99.63h.01M101.62 121.28h.01M103.03 123.26h.01M105.21 110.71h.01M110.1 116.24h.01M101.39 108.65h.01M110.64 114.75h.01M98.28 100.48h.01M102.13 119.55h.01M108.58 113.05h.01M102.63 118.76h.01M105.12 120.95h.01M102.54 129.52h.01M105.84 105.7h.01M102.03 103.95h.01M110.46 123.31h.01M108.61 124.39h.01M101.09 122.03h.01M100.2 116.6h.01M103.82 104.18h.01M110.88 122.01h.01M105.17 127.57h.01M105.38 109.81h.01M100.43 98.21h.01" stroke="#b04cc0" stroke-width="1" stroke-linecap="round" fill="none" stroke-opacity="0.8"/>
<path d="M142.24 83.17h.01M140.22 83.1h.01M140.12 81.96h.01M142.68 86.54h.01M140.19 83.27h.01M139.37 83.35h.01M138 87.65h.01M144.06 83.67h.01M137.93 86.28h.01M141.69 81.91h.01M137.1 85.96h.01M137.49 87.15h.01M139.21 85.22h.01M140.49 83.55h.01M140.12 84.21h.01M143.29 84.79h.01M140.42 83.63h.01M138.98 83.23h.01M140.52 88.43h.01M143.07 85.55h.01M143.5 86.82h.01M141.05 84.56h.01M137.96 85.57h.01M139.87 81.82h.01M138.47 88.06h.01M141.06 86.29h.01" stroke="#a8a010" stroke-width="1" stroke-linecap="round" fill="none" stroke-opacity="0.8"/>
<path d="M149.02 100.25h.01M153.08 91.68h.01M161.03 101.09h.01M165.75 104.89h.01M158.96 97.83h.01M148.53 91h.01M156.7 100.08h.01M151.23 96.88h.01M158.96 106.93h.01M144.77 92.72h.01M147.35 94.75h.01M161 101.86h.01M161.12 101.35h.01M167.29 104.58h.01M153.73 102.92h.01M166.59 104.56h.01M159.92 108.52h.01M144.35 92.67h.01M157.92 95.75h.01M166.42 112.52h.01M151.3 91.27h.01M153.83 104.38h.01M163.6 101.56h.01M150.89 91.11h.01M148.27 91.31h.01M159.89 107.92h.01M159.51 101.79h.01M155.14 101.36h.01M155.41 93.54h.01M154.46 96.06h.01M162.09 108.79h.01M156.22 100.33h.01M148.88 89.27h.01M146.22 95.96h.01M155.44 95.37h.01M150.6 91.44h.01M152.24 95.77h.01M168.57 105.51h.01M145.23 90.62h.01M166.88 104.02h.01M164.05 105.78h.01M150.01 97.66h.01M149.36 89.74h.01M153.04 94.29h.01M154.82 105.05h.01M162.09 100.14h.01M169.22 108.27h.01M162.51 105.29h.01M159.74 105.94h.01M154.28 104.62h.01M168.54 107.54h.01M149.31 100.73h.01M157.04 96.1h.01M154.09 100.52h.01M151.49 100.32h.01M157.61 98.18h.01M164.79 105.44h.01M157.79 97.07h.01M151.84 97.75h.01M163.13 108.37h.01M157.03 106.14h.01M149.75 99.03h.01M153.66 95.31h.01M161.67 104.74h.01M161.15 105.18h.01M165.48 106.3h.01M157.17 96.92h.01M151.29 99.92h.01M163.23 110.33h.01M166.92 109.63h.01M155.86 98.24h.01M148.95 91.52h.01M167 110.21h.01M155.87 97.64h.01M159.82 102.15h.01M152.78 103.93h.01M160.25 100.51h.01M147.3 92.93h.01M152.41 98.12h.01M150.58 102.47h.01M165.5 108.17h.01M165 108.98h.01M158.81 97.37h.01M146.52 89.82h.01M153.96 98.53h.01M157.71 94.88h.01M162.95 100.66h.01M157.79 100.09h.01M153.66 96.05h.01M160.6 101.87h.01M158.36 95.85h.01M153.14 98.14h.01M161.89 104.45h.01M156.05 97.85h.01M144.78 93.1h.01M162.24 100.17h.01M157.76 95.51h.01M157.05 103.22h.01M147.64 95.37h.01M162.32 101.43h.01M160.65 107.39h.01M159.3 106.7h.01M153.83 98.94h.01M170.18 108.46h.01M162.59 101.08h.01M145.78 89.34h.01M148.31 94.96h.01M168.45 109.69h.01M169.02 108.17h.01M158.91 103.11h.01M150.05 93.04h.01M157.77 100.28h.01M164.12 109.84h.01M153.64 92.85h.01M157.68 107.57h.01M146.55 94.54h.01M161.16 99.8h.01M154.18 102.26h.01M149.88 98.65h.01M158.91 102.84h.01M167.29 107.55h.01M162.31 108.29h.01M155.79 104.67h.01M146.72 98h.01M149.13 99.61h.01M158.52 98.71h.01M164.72 102.03h.01M159.47 104.03h.01M154.03 99.74h.01M158.87 106.19h.01M150.71 89.64h.01M150.82 89.7h.01M152.1 99.27h.01M162.82 107.4h.01M154.6 95.47h.01M157.83 98.74h.01M148.81 97.86h.01M161.84 101.77h.01M156.46 102.16h.01M150.62 101.71h.01M160.93 103.62h.01M147.54 95.16h.01M163.24 106.07h.01M161.73 104.27h.01M152.77 102.73h.01M158.74 108.11h.01M153.95 92.08h.01M154.66 100.28h.01M158.11 95.15h.01M155.75 93.32h.01M161.45 108.73h.01M151.53 90.29h.01M151.46 91.39h.01M158.02 98.35h.01M169.34 110.38h.01M150.43 101.8h.01M152.18 102.45h.01M150.01 89.58h.01M146.44 92.46h.01M150.8 93.65h.01" stroke="#4aa828" stroke-width="1" stroke-linecap="round" fill="none" stroke-opacity="0.8"/>
<path d="M161.3 81.66h.01M160.91 94.68h.01M159.57 81.09h.01M161.17 89.99h.01M161.25 84.72h.01M160.64 83.17h.01M160.48 84.79h.01M160.88 85.08h.01M160.04 90.92h.01M159.53 93.62h.01M160.64 83.89h.01M159.61 88.65h.01M160.66 92.23h.01M160.31 87.01h.01M159.99 93.84h.01M160.95 83.47h.01M161.49 89.49h.01M159.51 94.68h.01M159.77 84.4h.01M160.96 83.3h.01M160.55 92.13h.01M159.56 91.23h.01M159.58 88.09h.01M161.05 91.68h.01M159.42 83.25h.01M160.45 86.37h.01M161.18 92.59h.01M161.06 86.84h.01M160.84 88.76h.01M159.81 96.14h.01" stroke="#4aa828" stroke-width="1" stroke-linecap="round" fill="none" stroke-opacity="0.8"/>
<path d="M179.54 121.22h.01M176.66 120.15h.01M179.2 122.17h.01M177.24 116.08h.01M171.06 114.26h.01M177.39 122.33h.01M177.98 119.38h.01M169.21 110.65h.01M174.38 111.6h.01M171.38 109.74h.01M169.01 120.19h.01M171.28 122.43h.01M170.93 112.55h.01M172.13 108.21h.01M172.66 114.46h.01M174.57 116.57h.01M170.2 112.87h.01M177.52 119.82h.01M174.15 121.82h.01M169.01 117.18h.01M170.46 114.79h.01M169.49 120.04h.01M174.45 121.25h.01M175.17 118.19h.01M178.98 121.81h.01M174.37 113.54h.01M168.33 113.67h.01M176.18 123.83h.01M175.39 119.26h.01M179.19 121.22h.01M172.79 115.85h.01M176.88 113.4h.01M168.43 118.53h.01M175.89 123.17h.01M168.66 110.31h.01M173.41 113.68h.01M172.79 121.48h.01M167.99 115.69h.01M172.36 124.22h.01M172.38 122.45h.01M177.14 117.97h.01M170.09 113.18h.01M173.39 114.72h.01M175.39 116.59h.01M171.2 118.32h.01M168.22 108.94h.01M172.5 122.22h.01M177.88 117.96h.01M171.99 112.45h.01M174.05 114.38h.01M173.4 114.87h.01M177.4 118.17h.01M168.51 118.19h.01M178.42 119.31h.01M177.74 123.22h.01M170.22 117.81h.01M171.93 113.03h.01M176.9 118.48h.01M171.31 117.23h.01M179.07 117.63h.01M178.88 117.62h.01M172.98 117.39h.01M175.1 116.13h.01M175.25 117.07h.01M175.43 121.61h.01" stroke="#3a98e8" stroke-width="1" stroke-linecap="round" fill="none" stroke-opacity="0.8"/>
<text x="95.8" y="60" font-size="6.3" fill="#111" textLength="23.8" lengthAdjust="spacingAndGlyphs">Ba−Prog</text>
<text x="110.4" y="102.6" font-size="6.3" fill="#111" textLength="16.6" lengthAdjust="spacingAndGlyphs">HSPC</text>
<text x="97.3" y="106.4" font-size="6.3" fill="#111" textLength="12.3" lengthAdjust="spacingAndGlyphs">MPP</text>
<text x="71.2" y="112.6" font-size="6.3" fill="#111" textLength="26.8" lengthAdjust="spacingAndGlyphs">Neu−Prog</text>
<text x="45.2" y="143" font-size="6.3" fill="#111" textLength="24.4" lengthAdjust="spacingAndGlyphs">Mo−Prog</text>
<text x="75" y="138.4" font-size="6.3" fill="#111" textLength="33.8" lengthAdjust="spacingAndGlyphs">Lymph−Prog</text>
<text x="61.6" y="151.7" font-size="6.3" fill="#111" textLength="25.2" lengthAdjust="spacingAndGlyphs">DC−Prog</text>
<text x="134" y="85.8" font-size="6.3" fill="#111" textLength="23.9" lengthAdjust="spacingAndGlyphs">Eo−Prog</text>
<text x="153.3" y="102.2" font-size="6.3" fill="#111" textLength="22.5" lengthAdjust="spacingAndGlyphs">Er−Prog</text>
<text x="168.3" y="116.6" font-size="6.3" fill="#111" textLength="24.5" lengthAdjust="spacingAndGlyphs" clip-path="url(#clipA)">Mk−Prog</text>
<line x1="42.8" y1="37.5" x2="42.8" y2="177" stroke="#000" stroke-width="1.4" />
<line x1="39.4" y1="40.8" x2="42.8" y2="40.8" stroke="#111" stroke-width="0.9" />
<text x="36.2" y="43.9" font-size="8.6" text-anchor="end" fill="#333">1.0</text>
<line x1="39.4" y1="74.6" x2="42.8" y2="74.6" stroke="#111" stroke-width="0.9" />
<text x="36.2" y="77.7" font-size="8.6" text-anchor="end" fill="#333">0.8</text>
<line x1="39.4" y1="108.5" x2="42.8" y2="108.5" stroke="#111" stroke-width="0.9" />
<text x="36.2" y="111.6" font-size="8.6" text-anchor="end" fill="#333">0.6</text>
<line x1="39.4" y1="142.3" x2="42.8" y2="142.3" stroke="#111" stroke-width="0.9" />
<text x="36.2" y="145.4" font-size="8.6" text-anchor="end" fill="#333">0.4</text>
<line x1="42.4" y1="176.3" x2="185.8" y2="176.3" stroke="#000" stroke-width="1.4" />
<line x1="49.4" y1="176.3" x2="49.4" y2="179.7" stroke="#111" stroke-width="0.9" />
<text x="49.4" y="191.3" font-size="8.6" text-anchor="middle" fill="#333">0.0</text>
<line x1="88.8" y1="176.3" x2="88.8" y2="179.7" stroke="#111" stroke-width="0.9" />
<text x="88.8" y="191.3" font-size="8.6" text-anchor="middle" fill="#333">0.5</text>
<line x1="128.2" y1="176.3" x2="128.2" y2="179.7" stroke="#111" stroke-width="0.9" />
<text x="128.2" y="191.3" font-size="8.6" text-anchor="middle" fill="#333">1.0</text>
<line x1="167.6" y1="176.3" x2="167.6" y2="179.7" stroke="#111" stroke-width="0.9" />
<text x="167.6" y="191.3" font-size="8.6" text-anchor="middle" fill="#333">1.5</text>
<text x="92.7" y="204.5" font-size="11" fill="#111" textLength="42.5" lengthAdjust="spacingAndGlyphs" stroke="#111" stroke-width="0.32">Component 1</text>
<text x="16.9" y="125.1" font-size="11" fill="#111" textLength="43.3" lengthAdjust="spacingAndGlyphs" transform="rotate(-90 16.9 125.1)" stroke="#111" stroke-width="0.32">Component 2</text>
<text x="196.3" y="62.7" font-size="7.1" fill="#111" textLength="27.4" lengthAdjust="spacingAndGlyphs">Cell type</text>
<circle cx="194.8" cy="71.7" r="1.2" fill="#e0605a"/>
<text x="199.5" y="74.25" font-size="7.1">Ba−Prog</text>
<circle cx="194.8" cy="80.25" r="1.2" fill="#d08a10"/>
<text x="199.5" y="82.8" font-size="7.1">DC−Prog</text>
<circle cx="194.8" cy="88.8" r="1.2" fill="#a8a010"/>
<text x="199.5" y="91.35" font-size="7.1">Eo−Prog</text>
<circle cx="194.8" cy="97.35" r="1.2" fill="#4aa828"/>
<text x="199.5" y="99.9" font-size="7.1">Er−Prog</text>
<circle cx="194.8" cy="105.9" r="1.2" fill="#30a860"/>
<text x="199.5" y="108.45" font-size="7.1">HSPC</text>
<circle cx="194.8" cy="114.45" r="1.2" fill="#30aab8"/>
<text x="199.5" y="117" font-size="7.1">Lymph−Prog</text>
<circle cx="194.8" cy="123" r="1.2" fill="#3a98e8"/>
<text x="199.5" y="125.55" font-size="7.1">Mk−Prog</text>
<circle cx="194.8" cy="131.55" r="1.2" fill="#8c84dc"/>
<text x="199.5" y="134.1" font-size="7.1">Mo−Prog</text>
<circle cx="194.8" cy="140.1" r="1.2" fill="#b04cc0"/>
<text x="199.5" y="142.65" font-size="7.1">MPP</text>
<circle cx="194.8" cy="148.65" r="1.2" fill="#d8449a"/>
<text x="199.5" y="151.2" font-size="7.1">Neu−Prog</text>
<text x="259.2" y="19.3" font-size="12.8" font-weight="bold" fill="#000" textLength="9.9" lengthAdjust="spacingAndGlyphs" stroke="#000" stroke-width="0.45">B</text>
<text x="319.4" y="31.1" font-size="10.4" fill="#111" textLength="90.3" lengthAdjust="spacingAndGlyphs">GATA2 R337X Pair</text>
<path d="M411.71 73.43h.01M411.43 98.82h.01M418.69 91.04h.01M413.81 89.56h.01M428.84 62.91h.01M418.38 73.78h.01M414.31 106.57h.01M410.2 87.34h.01M406.45 64.75h.01M417.83 117.01h.01M415.53 86.5h.01M413.91 55.73h.01M409.21 67.33h.01M418.18 54.74h.01M425.45 61.49h.01M425.83 51.16h.01M413.52 97.15h.01M419.6 65.14h.01M412.04 86.11h.01M427.34 62.52h.01M424.39 67.55h.01M408.36 65.62h.01M425.57 56.03h.01M408.56 70.9h.01M427.12 56.21h.01M408.19 95.92h.01M408 62.88h.01M415.82 78.79h.01M406.75 70.24h.01M411.81 105.41h.01M418.76 98.4h.01M409.05 73.73h.01M413.03 65.65h.01M423.74 60.31h.01M413.81 65.67h.01M417.54 73.32h.01M416.79 88h.01M426.7 63.63h.01M412.21 51.59h.01M418.05 103.82h.01M409.76 77.45h.01M415.18 109.4h.01M408.96 93.47h.01M421.84 67.66h.01M418.36 66.09h.01M416.7 80.25h.01M429.15 54.41h.01M414.98 108.55h.01M411.13 102.57h.01M417.24 75.77h.01M410.72 106.31h.01M423.54 50.49h.01M429.47 60.87h.01M415.01 76.05h.01M414.77 51.93h.01M407.65 84.23h.01M420 78.61h.01M414.42 76.32h.01M420.18 86.11h.01M416.22 63.13h.01M413.57 82.25h.01M419.51 59.75h.01M407.29 56h.01M414.3 104.92h.01M427.34 62.06h.01M418.9 85.33h.01M415.13 115.65h.01M425.68 67.2h.01M407.61 86.94h.01M421.7 61.11h.01M407.05 81.74h.01M421.01 65.42h.01M416.7 61.79h.01M410.46 57.74h.01M423.17 70.78h.01M421.7 74.33h.01M419.48 58.47h.01M418.78 93.64h.01M408.4 69.75h.01M411.54 109.68h.01M423.25 67.17h.01M411.58 98.79h.01M413.17 100.26h.01M414.4 103.21h.01M419.09 73.98h.01M424.48 68.23h.01M411 105.05h.01M419.21 102.82h.01M424.51 60.62h.01M412.22 95.75h.01M416.64 101.02h.01M422.05 59.67h.01M418.84 90.43h.01M423.49 59.02h.01M413.46 70.42h.01M408.3 70.86h.01M410.15 100.93h.01M409.55 51.07h.01M412.04 83.93h.01M412.48 112.9h.01M428.52 65.74h.01M419.47 63.51h.01M406.32 69.41h.01M413.7 59.08h.01M416.33 114.01h.01M427.59 64.88h.01M411.09 52.66h.01M414.81 52.89h.01M410.31 63.13h.01M419.88 78.53h.01M413.32 84.79h.01M414.24 115.56h.01M417.41 69.37h.01M420.6 51.24h.01M411.72 85.55h.01M426.02 71.02h.01M417.96 95.72h.01M410.62 92.68h.01M410.5 99.32h.01M406.99 65.02h.01M408.83 55.19h.01M418.68 57.19h.01M425.07 51.06h.01M409.04 60.57h.01M415.55 118.67h.01M414.25 119.36h.01M427.38 59.22h.01M420.42 51.35h.01M429 51.54h.01M413.62 97.25h.01M415.85 102.43h.01M415.23 106.55h.01M417.32 107.27h.01M413.23 86.29h.01M406.61 81.91h.01M422.26 76.87h.01M412.61 45.79h.01M428.16 64.74h.01M406.99 54.23h.01M411.04 55h.01M419.99 53.8h.01M415.92 117.8h.01M417.83 82.06h.01M409.48 83.71h.01M425.25 53.82h.01M412.39 62.28h.01M417.03 94.33h.01M418.28 83.74h.01M429.73 60.39h.01M406.4 69.29h.01M413.52 53.23h.01M413.24 100.74h.01M410.95 87.06h.01M410.03 70.51h.01M429.47 52.79h.01M411.04 51.87h.01M418.38 87.64h.01M417.85 102.91h.01M419.74 53.63h.01M416.22 76.57h.01M416.37 87.54h.01M414.68 74.2h.01M416.24 72.66h.01M415.49 78.74h.01M420.2 72.31h.01M411.74 44.71h.01M412.86 80.02h.01M413.77 48.08h.01M411.79 63.5h.01M417.27 73.92h.01M411.6 106.16h.01M408.74 90.11h.01M417.02 54.89h.01M421.98 80.67h.01M420.8 51.33h.01M420.13 76.54h.01M423.53 53.06h.01M411.49 70.4h.01M419.75 68.99h.01M416.55 107.35h.01M410.36 100.03h.01M413.94 117.65h.01M420.55 52.2h.01M415.85 92.43h.01M421.32 70.39h.01M419.45 56.93h.01M413.35 92.04h.01M412.11 89.49h.01M412.62 104.91h.01M409.74 64.07h.01M416.53 114.79h.01M409.97 58.6h.01M409.16 60.28h.01M413.97 74.52h.01M424.23 75.2h.01M417.4 74.62h.01M416.21 115.82h.01M418.61 97.03h.01M415.15 64.82h.01M414.63 98.34h.01M417.06 84.84h.01M410.96 57.4h.01M414.07 97h.01M423.06 77.5h.01M407.65 63.9h.01M411.08 108.09h.01M419.2 69.15h.01M411.97 66.36h.01M412.72 70.69h.01M421.69 52.41h.01M407.07 56.4h.01M412.19 84.97h.01M416.31 62.51h.01M414.19 47.11h.01M429.57 63.6h.01M426.34 52.71h.01M421.67 71.48h.01M427.33 66.82h.01M408.42 59.11h.01M412.77 64.89h.01M407.04 91.57h.01M414.4 58.16h.01M416.46 116.56h.01M411.95 56.42h.01M418.26 57.6h.01M426.98 52.2h.01M410.18 62.48h.01M418.33 80.89h.01M419.29 100.57h.01M406.44 68.46h.01M409.43 90.78h.01M424.77 53.61h.01M413.06 110.31h.01M422.54 52.01h.01M415.81 55.69h.01M421.82 68.56h.01M409.21 56.43h.01M415.66 53.46h.01M415.24 86.79h.01M419.25 75.19h.01M425.2 50.4h.01M413.92 116.77h.01M408.82 63.55h.01M413.73 75.49h.01M418.92 51.42h.01M413.62 54.92h.01M414.92 70.45h.01M417.06 107.25h.01M414.15 68.71h.01M418.32 102.03h.01M422.64 75.19h.01M419.33 71.96h.01M412.57 112.97h.01M425.22 67.46h.01M408.03 58.81h.01M419.3 85.85h.01M415.85 87.25h.01M408.47 54.39h.01M424.69 55.48h.01M418.75 103.97h.01M409.75 84.91h.01M415.55 81.1h.01M413.3 100.95h.01M417.68 106.16h.01M414.73 112.7h.01M422.43 78.88h.01M419.51 106.68h.01M426.4 55.18h.01M414.1 99.54h.01M407.09 53.17h.01M407.83 88.24h.01M413.73 64h.01M416.74 49.64h.01M419.41 78.39h.01M413.4 90.82h.01M414.32 120.08h.01M425.82 49.41h.01M408.97 70.63h.01M409.03 76.67h.01M429.01 60.9h.01M411.32 45.34h.01M412.57 47.93h.01M418.68 67.1h.01M420.34 67.04h.01M417.13 65.95h.01M406.96 80.08h.01M420.79 58.11h.01M417.72 57.3h.01M412.51 101.4h.01M429.63 52.23h.01M406.15 71.23h.01M414.38 90.42h.01M414.11 114.82h.01M413.9 67.47h.01M407.51 86.12h.01M428.48 51.66h.01M412.08 45.51h.01M428.71 64.21h.01M419.46 71.81h.01M412.16 107.95h.01M406.44 76.19h.01M428.66 63.48h.01M414.81 89.17h.01M411.68 99.11h.01M421.66 50.96h.01M422.72 70.85h.01M409.45 49.62h.01M417.01 105.88h.01M418.78 65.08h.01M419.41 110.13h.01M419.8 54.99h.01M410.44 75.81h.01M420.19 77.18h.01M423.12 53.85h.01M412.13 106.89h.01M416.36 62.12h.01M411.02 49.39h.01M422.67 51.95h.01M411.35 77.98h.01M413.58 80.8h.01M409.9 75.08h.01M422.81 68.94h.01M425.11 57.97h.01M408.44 92.73h.01M416.87 115.57h.01M422.08 72.57h.01M409.08 91.53h.01M417.34 97.33h.01M420.63 76.73h.01M410.47 79.9h.01M419.2 113.87h.01M413.89 60.98h.01M411.95 97.69h.01M410.88 70.62h.01M413.35 80.9h.01M406.88 77.38h.01M421.18 59.38h.01M412.31 104.72h.01M413.7 112.75h.01M413.18 91.35h.01M425.41 52.06h.01M424.7 74.16h.01M418.58 76.56h.01M409.4 46.27h.01M421.14 68.05h.01M412.41 115.79h.01M414.17 70.89h.01M408.68 100.48h.01M425 52.99h.01M418.39 61.92h.01M426.57 52.95h.01M424.01 61.26h.01M413.79 70.31h.01M416.44 53.56h.01M424.41 69.92h.01M415.92 101.94h.01M413.42 110.09h.01M415.8 88.01h.01M407.84 51.12h.01M413.47 53.18h.01M410.94 100.18h.01M411.46 87.82h.01M415.47 64.61h.01M410.13 64.24h.01M418.22 48.14h.01M413.25 85.9h.01M417.56 114.9h.01M419.86 93.55h.01M409.04 52.28h.01M411.33 95.16h.01M412.21 73.5h.01M410.93 43.69h.01M412.24 62.64h.01M413.78 76.04h.01M414.64 68.94h.01M410.93 107.87h.01M427.4 53.09h.01M418.03 87.56h.01M408.82 68.57h.01M415.07 48.9h.01M410.12 70.68h.01M415.16 116.98h.01M412.24 88.57h.01M422.16 61.84h.01M415.16 51.37h.01M425.12 57.97h.01M409.26 65.32h.01M418.59 110.5h.01M424.06 59.97h.01M418.83 56.8h.01M411.8 55.04h.01M407.85 70.99h.01M408.11 60.69h.01M420.2 85.08h.01M419.58 90.69h.01M411.77 89.76h.01M418.71 70.19h.01M416.16 85.91h.01M424.24 60.49h.01M419.64 78h.01M411.55 104.84h.01M411.31 99.21h.01M417.74 77.01h.01M425.2 64.21h.01M417.28 85.3h.01M413.4 51.76h.01M417.62 49.04h.01M410.12 78.35h.01M414.36 82.76h.01M418.72 74h.01M412.75 71.11h.01M413.67 101.79h.01M417.84 105.98h.01M410.95 72.46h.01M415.59 73.75h.01M425.88 69.75h.01M418.82 89.2h.01M414.97 93.97h.01M412.81 115.58h.01M414.85 65.13h.01" stroke="#20a880" stroke-width="1" stroke-linecap="round" fill="none" stroke-opacity="0.75"/>
<path d="M424.17 75.02h.01M416.39 84.53h.01M415.63 95.65h.01M413.94 81.92h.01M422.79 92.66h.01M422.91 71.22h.01M424.12 79.85h.01M423.18 83.98h.01M424.14 84.21h.01M416.22 72.42h.01M419.21 68.79h.01M420.17 98.07h.01M414.89 84.29h.01M418.86 70.88h.01M416.29 100.19h.01M422.04 85.32h.01M420.62 97.99h.01M424.92 88.41h.01M415.06 75.65h.01M414.71 85.44h.01M420.28 83.57h.01M418.88 72.07h.01M421.98 86.35h.01M416.86 97.01h.01M417.86 83.2h.01M416.21 93.78h.01M419.33 101.83h.01M424.11 83.23h.01M414.31 83.43h.01M419.47 95.29h.01M415.33 77.06h.01M420.64 70.42h.01M422.38 82.25h.01M424.57 75.04h.01M423.97 75.19h.01M413.95 80.99h.01M425.15 79.77h.01M419.45 86.42h.01M414.22 87.87h.01M418.58 78.79h.01M423.38 91.89h.01M413.65 76.48h.01M420.96 101.86h.01M414.55 95.51h.01M422.53 84.02h.01M414.48 74.77h.01M414.62 88.98h.01M420.8 97.88h.01M416.3 98.2h.01M424.21 87.24h.01M420.58 89.1h.01M422.64 85.62h.01M414.42 75.01h.01M421.16 69.86h.01M414.34 76.03h.01M422.95 86.67h.01M417.46 101.7h.01M420.26 75.59h.01M420.07 97.8h.01M417.61 82.64h.01M420.22 102.54h.01M420.98 73.52h.01M420.28 78.57h.01M418.92 92.67h.01M413.25 85.27h.01M416.93 88.57h.01M423.26 83.82h.01M420.87 77.39h.01M416.2 85.36h.01M419.66 75.04h.01M422.56 84.98h.01M417.44 76.13h.01M423.46 99.47h.01M424.73 75.93h.01M413.89 89.74h.01M421.49 79.13h.01M418.52 91.58h.01M415 80.14h.01M422.84 91.51h.01M420.32 70.72h.01M415.71 76.24h.01M420.16 100.27h.01M419.93 100.06h.01M418.86 85.63h.01M416.52 83.71h.01M424.71 84.56h.01M413.03 79.73h.01M415.47 89.45h.01M419.37 84.12h.01M424.59 94.45h.01M421.76 88.48h.01M421.16 85.01h.01M413.45 83.26h.01M423.44 88.67h.01M424.31 86.62h.01M415.06 92.44h.01M421.07 96.06h.01M414.09 83.68h.01M423.13 79.29h.01M413.8 87.06h.01M424.92 89.24h.01M420.2 73.54h.01M417.15 72.37h.01M418.8 68.66h.01M421.21 90.27h.01M424.31 94.65h.01M419.79 100.7h.01M419.15 69.93h.01M421.8 73.24h.01M425.3 86.41h.01M424.28 84.73h.01M417.08 90.84h.01M421.87 83.56h.01M416.44 82.13h.01M421.93 75.22h.01M414.97 84.42h.01M421.22 69.4h.01M416.39 101.98h.01M416.34 94.79h.01M416.82 70.09h.01M419.08 98.3h.01M421.79 89.35h.01M419.03 90.93h.01M419.52 73.59h.01M421.69 71.64h.01M416.87 97.66h.01M420.1 85.4h.01M421.87 84.73h.01M417.8 86.88h.01M413.28 79.66h.01M424.35 90.54h.01M414.98 97.79h.01M416.54 95.97h.01M421.14 88.78h.01M422.27 76.63h.01M423.43 86.53h.01M422.46 97.23h.01M416.18 81.78h.01M417.52 69.77h.01M423.94 91.68h.01M419.12 86.63h.01M417.47 91.71h.01M419.68 84.9h.01M416.23 75.03h.01M421.38 79.28h.01M419.43 70.76h.01M417.49 69.68h.01M419.27 101.45h.01M422.53 80.1h.01M416.45 100.53h.01M424.89 90.26h.01M417.86 82.31h.01M420.61 85.97h.01M423.85 99.23h.01M422.73 90.32h.01M421.19 69.67h.01M417.55 84.02h.01M420.94 69.22h.01M420.01 93.6h.01M414.97 94.35h.01" stroke="#e0605a" stroke-width="1" stroke-linecap="round" fill="none" stroke-opacity="0.75"/>
<path d="M405.9 97.16h.01M404.32 101.41h.01M398.86 108.06h.01M407.07 88.17h.01M394.39 111.25h.01M399.46 91.59h.01M404.35 93.4h.01M397.99 96.39h.01M401.61 82.94h.01M395.63 95.73h.01M407.38 93.12h.01M394.06 110.73h.01M395.48 108.95h.01M393.81 100.74h.01M400.59 104.44h.01M400.83 92.64h.01M400.24 96.23h.01M402.87 90.3h.01M405.98 79.38h.01M405.18 90.75h.01M409.69 88.5h.01M400.79 89.11h.01M402.6 87.83h.01M405.05 92.41h.01M405.75 88.2h.01M401.22 97.5h.01M405.93 100.84h.01M404.92 89.93h.01M409.34 86.19h.01M395.6 101.87h.01M403.41 86.8h.01M400.72 99.27h.01M404.82 93.43h.01M410.03 91.07h.01M404.5 81.09h.01M399.72 91.02h.01M402.23 86.83h.01M405.37 95.83h.01M408.09 78.86h.01M395.33 112.16h.01M404.15 93.27h.01M400.65 83.1h.01M402.87 87.62h.01M395.19 108.46h.01M398.29 98.19h.01M397.98 107.08h.01M396.76 100.67h.01M402.99 89.4h.01M402.41 106.63h.01M398.5 106.09h.01M397.18 100.19h.01M405.75 95.39h.01M409.93 91.69h.01M403.03 92.71h.01M399.25 87.95h.01M396.37 110.68h.01M408.14 91.24h.01M403.86 97.34h.01M406.24 83.69h.01M404.76 99.45h.01M408.03 94.66h.01M396.9 92.21h.01M394.35 98.33h.01M396.94 102.56h.01M396.13 102.14h.01M404.12 102.91h.01M410.11 88.34h.01M405.29 91.9h.01M406.75 99h.01M397.71 109.78h.01M399.09 106.77h.01M407.44 93.91h.01M400.11 105.85h.01M404.78 96.89h.01M394.75 107.48h.01M394.59 108.87h.01M400.39 98.87h.01M402.14 96.89h.01M401.32 92.41h.01M405.42 81.9h.01M406.7 97h.01M394.66 96.87h.01M396.3 104.22h.01M407.53 94.8h.01M408.45 84.53h.01M399.04 96h.01M406.08 93.71h.01M398.44 108.34h.01M400.05 92.69h.01M397.03 94.91h.01M405.71 90.66h.01M404.92 95.27h.01M398.19 97.1h.01M395.75 107.79h.01M397.89 95.89h.01M409.28 93.56h.01M397.2 98.92h.01M395.03 96.2h.01M404.66 81.11h.01M402.87 88.83h.01M406.4 99.55h.01M398.09 94.36h.01M398 99.65h.01M399.75 94.6h.01M402.55 101.35h.01M396.03 107.34h.01M406.72 83.65h.01M399.23 103.85h.01M408.18 83.99h.01M403.17 96.44h.01" stroke="#d050c0" stroke-width="1" stroke-linecap="round" fill="none" stroke-opacity="0.75"/>
<path d="M398.4 112.84h.01M399.4 107.84h.01M407.28 112.98h.01M410.35 122.93h.01M411.55 103.5h.01M411.94 120.31h.01M407.64 109.54h.01M408.92 116.24h.01M409.43 123.37h.01M397.8 112.03h.01M407.64 121.82h.01M409.29 113.16h.01M404.54 119.07h.01M409.98 102.92h.01M405.2 110.38h.01M406.79 110.38h.01M399.12 109.26h.01M412.9 114.54h.01M412.6 129.42h.01M400.38 122.16h.01M407.62 104.5h.01M405.38 119.8h.01M408.41 111.57h.01M413.2 124.9h.01M412.69 112.17h.01M409.23 134.41h.01M411.74 109.93h.01M411.04 127.46h.01M404.31 136.08h.01M414.17 122.93h.01M409.7 126.82h.01M403 119.95h.01M405.16 108.63h.01M400.22 133.78h.01M411.92 127.9h.01M408.77 120.4h.01M406.46 126.66h.01M404.35 103.1h.01M400.1 132.96h.01M410.96 134.72h.01M402.43 118.01h.01M414.01 121.78h.01M408.62 104.42h.01M408.57 107.67h.01M409.21 112.72h.01M405.54 103.04h.01M411.66 131.49h.01M406.62 127.63h.01M401.8 105.11h.01M401.5 129.6h.01M406.26 105.39h.01M399.81 119h.01M404 105.35h.01M412.78 105.15h.01M409.99 131.79h.01M401.31 121.68h.01M401.2 116.86h.01M401.31 126.08h.01M412.65 127.57h.01M409.46 120.25h.01M411.99 104.29h.01M406.96 131.43h.01M410.53 126.92h.01M396.25 119.14h.01M400.38 124.32h.01M402.94 118.23h.01M405.76 123.53h.01M412.81 111.29h.01M400.5 107.38h.01M413.39 105.04h.01M402.21 136.17h.01M396.33 109.99h.01M400.07 118.92h.01M408.63 106.18h.01M397.46 113.21h.01M411.09 133.74h.01M408.02 111.99h.01M411.4 103.26h.01M410.08 101.87h.01M396.89 125.85h.01M397.92 126.64h.01M408.45 109.26h.01M404.53 108.48h.01M412.43 125.22h.01M408.82 124.86h.01M410.59 120.6h.01M406.81 119.69h.01M410.11 121.32h.01M400.55 120.65h.01M405.42 134.82h.01M409.39 108.37h.01M405.17 123.34h.01M406.59 118.4h.01M405.19 127.53h.01M412.62 120.63h.01M410.68 127.2h.01M397.39 110.36h.01M401.27 114.17h.01M404.82 111.78h.01M402.42 128h.01M413.49 106.38h.01M407.58 138.35h.01M402.51 135.1h.01M411.07 112.8h.01M403.31 114.01h.01M404.28 129.13h.01M410.33 107.03h.01M399.01 113.61h.01M398.54 119.05h.01M397.64 126.12h.01M403.22 109.88h.01M408.72 113.12h.01M410.08 135.13h.01M400.88 110.56h.01M408.93 105.85h.01M405.97 102.06h.01M400.67 116.93h.01M406.84 103.11h.01M411.25 129.97h.01M398.59 109.65h.01M396.62 107.53h.01M410.79 111.43h.01M397.81 115.25h.01M411.11 103.94h.01M410.78 121.76h.01M410.97 113.46h.01M409.46 120.28h.01M410.28 107.95h.01M400.59 108.46h.01M412.02 128.13h.01M398.1 129.02h.01M395.78 118.66h.01M400.14 130.58h.01M409.37 127.35h.01M407.8 127.78h.01M412.95 114.45h.01M405.38 126.04h.01M413.52 125.98h.01M405.31 130.75h.01M404.8 101.31h.01M405.95 116.56h.01M401.7 115.77h.01M399.42 112.48h.01M409.94 135.42h.01M404.13 133.82h.01M397.51 120.63h.01M409.89 131.24h.01M402.74 106.72h.01M414.22 124.37h.01M408.06 113.84h.01M397.26 122.82h.01M403.09 135.6h.01M408.26 130.22h.01M406.39 130.12h.01M406.62 123.9h.01M398.79 103.64h.01M409.11 129.05h.01M408.33 110.19h.01M404.74 130.72h.01M407.81 136.39h.01M405.68 102.96h.01M403.38 126.72h.01M412.35 103.09h.01M405.19 131.81h.01M413.78 113.7h.01M399.18 105.82h.01M399.39 116.75h.01M409.14 137.47h.01M406.17 138.13h.01M403.54 126.3h.01M411.17 104.58h.01M400.99 121.04h.01M405.51 101.22h.01M397.21 127.07h.01M403.1 103.69h.01M404.57 114.9h.01M406.03 138.42h.01M410.55 104.48h.01M405.79 114.32h.01M407.08 110.26h.01M403.73 121.07h.01M402.57 122.57h.01M396.8 116.83h.01M405.12 130.14h.01M411.25 129.46h.01M402.62 128.47h.01M398.99 124.68h.01M398.5 114.08h.01M412.53 103.67h.01M407.29 133.62h.01M413.82 117.91h.01M410.62 125.93h.01M410.53 105.97h.01M396.67 120.92h.01M407.13 127.49h.01M398.58 122.71h.01M408.46 117.61h.01M403.37 118.7h.01M400.59 106.94h.01M412.99 114.49h.01M412.51 122.52h.01M409.22 117.94h.01M399.87 122.57h.01M401.23 133.14h.01M401.78 116.8h.01M405.85 139.3h.01M405.52 122.54h.01M398.95 131.57h.01M404.71 130.48h.01M413.44 124.94h.01M408.9 121.95h.01M397.62 118.36h.01M414.61 115.21h.01M397.7 117.4h.01M399.57 108.7h.01M407.74 137.02h.01M406.64 119.48h.01M402.04 120.93h.01M401.8 133.83h.01M411.21 131.78h.01M404.84 119.98h.01M411.87 104.7h.01M404.83 118.14h.01M403.12 119.84h.01M397.1 130.12h.01M405.38 106.71h.01M398.85 119.09h.01M400.33 131.64h.01M401.2 133.93h.01M397.04 126.96h.01M404.66 108.73h.01M397.44 109.72h.01M409.7 123h.01M397.61 111.43h.01M410.08 118.89h.01M399.13 110.17h.01M398.83 125.13h.01M406.9 120.73h.01M410.48 121.18h.01M401.29 126.74h.01M404.72 105.58h.01M409.94 117.26h.01M411.78 126.78h.01M414.18 123.19h.01M406.91 138.98h.01M411.06 113.52h.01M413.67 126.46h.01M413.98 124.29h.01M409.92 123.84h.01M399.45 103.15h.01M409.86 118.06h.01M397.49 122.36h.01M400.3 110.49h.01M412.52 124.73h.01M409.96 132.68h.01M403.73 118.05h.01M403.64 114.3h.01M410.57 135.38h.01M400.96 128.45h.01M408.7 131.05h.01" stroke="#50a820" stroke-width="1" stroke-linecap="round" fill="none" stroke-opacity="0.75"/>
<path d="M405.82 131.62h.01M406.72 161.94h.01M399.56 128.91h.01M398.31 143.66h.01M401.6 130.07h.01M405.79 153.32h.01M401.51 126.2h.01M404.43 142.47h.01M401.85 161.75h.01M404.11 167.57h.01M405 166.08h.01M406.62 135.67h.01M401.52 158.39h.01M402.5 154.64h.01M397.53 148.16h.01M406.19 135.13h.01M405 165.4h.01M398.13 143.52h.01M400.65 161.64h.01M395.94 129.59h.01M398.64 150.83h.01M401.07 155.37h.01M398.48 146.15h.01M402.92 139.63h.01M390.63 127.3h.01M397.42 150.67h.01M393.83 141.13h.01M395.96 145.76h.01M405.14 143.04h.01M406.5 149.12h.01M400.64 157.03h.01M410.62 133.39h.01M408.15 138.87h.01M400 141.86h.01M398.19 126.34h.01M405.23 149.37h.01M391.2 128.69h.01M396.46 146.53h.01M394.95 122.92h.01M399.78 129.47h.01M404.84 164.36h.01M392.47 130.98h.01M398 155.19h.01M399.25 150.31h.01M393.08 122.63h.01M409.84 153.45h.01M406.21 159.09h.01M397.08 113.17h.01M403.65 134.23h.01M411.31 134.17h.01M399.41 138.66h.01M411.62 140.21h.01M408.81 136.23h.01M399.29 159.53h.01M405.5 160.98h.01M401.7 135.49h.01M404.81 152.03h.01M400.74 118.3h.01M408.29 157.15h.01M400.51 145.6h.01M407.69 141.67h.01M400.46 141.1h.01M406.19 155.66h.01M398.26 152.07h.01M398.39 133.38h.01M399.53 148.07h.01M409.61 146.19h.01M405.81 156.67h.01M399.27 119.84h.01M405.87 125.62h.01M400.99 142.84h.01M398.01 141.39h.01M403.79 169.63h.01M406.97 135.11h.01M403.14 145.66h.01M406.27 130.44h.01M404.91 134.44h.01M407.21 141.63h.01M409.7 143.44h.01M404.21 161.17h.01M409.59 135.38h.01M411.72 135.65h.01M405.99 161.25h.01M397.98 137.35h.01M398.06 132.84h.01M407.39 145.45h.01M404.13 130.38h.01M406.82 163.7h.01M398.4 141.96h.01M394.82 127.54h.01M408.75 150.25h.01M399.84 150.14h.01M397.86 146.36h.01M397.15 128.23h.01M406.28 133.93h.01M406.33 156.47h.01M398.26 114.84h.01M408.54 144.99h.01M402.76 152.76h.01M402.07 165.61h.01M403.56 136.62h.01M403.72 136.91h.01M402.62 161.16h.01M396.83 127.58h.01M390.82 119.18h.01M395.89 143.68h.01M396.36 134.64h.01M404.08 133.52h.01M399.01 116.23h.01M391.93 133.41h.01M406.57 149.97h.01M402.85 142.63h.01M404.43 141.8h.01M396.62 136.53h.01M404.94 168.91h.01M397.58 138.12h.01M398.84 125.18h.01M394.13 140.7h.01M396.25 146.53h.01M400.7 123.88h.01M404.22 152.31h.01M394.87 126.37h.01M396.67 132.04h.01M407.41 135.85h.01M400.06 124.67h.01M396.63 141.27h.01M401.31 159.45h.01M405.87 156.16h.01M395.78 127.55h.01M410.61 154.79h.01M400.86 133.96h.01M400.34 158.91h.01M409.2 131.64h.01M401.8 147.04h.01M399.91 160.44h.01M405.52 160.48h.01M395.56 142.28h.01M401.96 146.84h.01M399.86 122.22h.01M408.81 145.27h.01M406.29 155.91h.01M403.7 166.02h.01M394.83 114.64h.01M393 123.12h.01M401.89 139.41h.01M401.62 127.7h.01M392.01 116.29h.01M393.32 136.25h.01M393.67 139.88h.01M409.27 131.77h.01M406.64 141.01h.01M405.85 165.61h.01M399.6 142.68h.01M408.67 135.03h.01M395.62 114.82h.01M394.49 121.15h.01M405.2 138.17h.01M392.32 134.19h.01M395.94 115.75h.01M407.34 147.53h.01M402.28 167.74h.01M410.47 134.82h.01M405.21 155.23h.01M405.14 157.18h.01M394.26 118.52h.01M406.15 137.84h.01M394.02 137.74h.01M403.36 162.96h.01M409.62 131.83h.01M405.12 150.55h.01M407.67 160.1h.01M403.76 160.65h.01M396.14 141.18h.01M405.91 146.01h.01M406.49 144.64h.01M390.96 125.8h.01M404.15 133.13h.01M408.5 156.36h.01M399.83 144.09h.01M407.63 140.44h.01M398.19 153.83h.01M398.05 122.66h.01M400.04 121.18h.01M400.44 118.74h.01M403.89 150.32h.01M402.08 148.71h.01M394.07 140.65h.01M408.39 148.85h.01M395.36 132.38h.01M400.52 142.77h.01M400.01 129.92h.01M396.99 117.45h.01M396.99 143.22h.01M406.56 142.34h.01M391.19 116.21h.01M411.91 136.59h.01M402.21 147.58h.01M392.61 132.46h.01M398.11 155.79h.01M407.21 153.29h.01M393.98 139.76h.01M397.68 148.72h.01M405.21 139.76h.01M401.64 161.75h.01M405.72 137.12h.01M405.42 145.69h.01M407.75 128.42h.01M409.87 131.19h.01M411.03 146.78h.01M407.2 134.49h.01M400.08 147.06h.01M407.71 137.15h.01M401.46 121.41h.01M393.76 129.87h.01M403.64 135.95h.01M407.55 144.66h.01M397.25 114.23h.01M398.31 152.01h.01M409.17 161.12h.01M406.78 129.12h.01M397.22 143.37h.01M409.61 151.88h.01M403.05 136.61h.01M398.39 136.54h.01M405.74 138.68h.01M405.7 163.82h.01M407.91 136.48h.01M399.43 147.79h.01M406.5 127.88h.01M398.87 137.16h.01M405.59 129.53h.01M397.81 142.22h.01M395.22 137.89h.01M406.45 142.27h.01M402.55 126.44h.01M398.53 145.45h.01M398.02 123.6h.01M402.19 144.61h.01M399.01 149.3h.01M409.43 131.5h.01M391.32 124.59h.01M409.32 147.73h.01M406.59 135.59h.01M397.12 153.03h.01M402.5 165.97h.01M393.53 132.91h.01M405.21 165.6h.01M400.27 158.68h.01M397.24 153.22h.01M396.54 123.84h.01M405.67 165.94h.01M399.1 116.79h.01M405.79 141.36h.01M407.75 143.96h.01M398.82 143.95h.01M395.96 135.14h.01M400.24 129.79h.01M394.91 129.32h.01M398.02 141.44h.01M402.63 149.21h.01M395.67 133.6h.01M407.09 140.83h.01M407.97 138.19h.01M398.6 150.05h.01M395.77 143.75h.01M397.61 145.05h.01M398.6 132.96h.01M410.34 153.18h.01M400.26 134.2h.01M409.07 134.3h.01M401.93 128.64h.01M410.1 134.26h.01M410.96 145.87h.01M397.5 144.96h.01M410.48 153.22h.01M408.13 145.86h.01M408.3 150.13h.01M404.26 130.63h.01M406.79 143.58h.01M406.99 152.37h.01M408.48 153.38h.01M409.93 151.94h.01M399.57 142.04h.01M408.28 147.49h.01M400.25 159.61h.01M397.79 148.21h.01M409.74 136.82h.01M408.38 140.17h.01M397.08 140.45h.01M402.61 125.89h.01M404.21 150.08h.01M396.51 118.96h.01M396.37 125.37h.01M407.9 159.18h.01M408.73 149.67h.01M403.29 137.68h.01M408.1 143.95h.01M397.74 141.76h.01M400.37 123.86h.01M404.8 161.39h.01M398.91 157.44h.01M405.03 143.98h.01M397.27 113.99h.01M403.23 143.41h.01M405.85 134.95h.01M405.4 153.5h.01M399.64 140.08h.01M409.71 132.27h.01M395.29 138.52h.01M406.22 152.8h.01M392.95 115.74h.01M405.76 144.73h.01M404.42 160.99h.01M401.17 129.87h.01M404.65 149.68h.01M401.26 139.4h.01M410.22 134.83h.01M406.75 164.98h.01M411.68 138.32h.01M400.78 135.47h.01M407.3 127.5h.01M396.02 136.73h.01M400.33 127.3h.01M406.29 144.73h.01M405.02 128.15h.01M398.84 116.78h.01M398.66 156.57h.01M396.96 123.73h.01M401.85 164.97h.01M399.5 126.29h.01" stroke="#8a7ed8" stroke-width="1" stroke-linecap="round" fill="none" stroke-opacity="0.75"/>
<path d="M375.24 125.74h.01M372.32 128.15h.01M374.09 128.97h.01M376.03 127.12h.01M372.57 126.78h.01M373.55 129.08h.01M372.51 128.42h.01M372.52 126.53h.01M372.65 126.34h.01M373.83 127.94h.01M373.63 128.42h.01M376.87 127.51h.01M372.82 127.02h.01M374.41 126.66h.01M376.15 128.86h.01M376.94 127.91h.01M372.05 127.17h.01M375.65 126.01h.01M373.65 128.72h.01M374.81 125.55h.01M374.12 124.76h.01M374.59 125.44h.01M374.51 125.47h.01M373.13 126.48h.01M376.97 126.28h.01M372.83 126.49h.01M376.16 128.48h.01M375.76 126.75h.01M374.8 126h.01M374.29 125.95h.01M372.71 126.01h.01M376.93 127.78h.01M373.33 127.11h.01M373.92 129.11h.01M374.54 126.2h.01" stroke="#c09410" stroke-width="1" stroke-linecap="round" fill="none" stroke-opacity="0.75"/>
<path d="M306.8 116.35h.01M308.27 121.86h.01M303.73 119.52h.01M301.18 119.86h.01M306.94 113.52h.01M310.1 120.87h.01M301.97 121.95h.01M306.57 115.93h.01M307.47 122.42h.01M307.32 113.21h.01M304.49 125.25h.01M305.13 111.96h.01M302.23 121.95h.01M304.19 121.57h.01M302.48 117.63h.01M302.89 125.39h.01M303.76 118.7h.01M309.57 123.52h.01M308.91 125.05h.01M301 120.56h.01M305.77 115.78h.01M306.49 116.59h.01M301.1 122.69h.01M301.62 123.1h.01M308.25 116.93h.01M304.71 112.99h.01M301.1 121.34h.01M303.76 119.07h.01M303.73 114.03h.01M301.37 122.46h.01M304.48 112.09h.01M305.94 122.72h.01M307.58 123.63h.01M304.35 116.93h.01M309.86 123.67h.01M304.36 123.67h.01M305.83 113.1h.01M302.48 120.26h.01M301.49 122.86h.01M307.66 119.01h.01M307.82 125.08h.01M303.54 119.45h.01M302.04 117.41h.01M306.18 114.69h.01M306.46 118.71h.01M305.78 119.58h.01M306.69 124.55h.01M306.49 122.62h.01M300.83 124.34h.01M310.19 119.55h.01M309.02 118.85h.01M304.5 112.23h.01M305.03 121.63h.01M308.63 124.69h.01M305.46 125.56h.01M304.4 118.69h.01M301.7 123.98h.01M306.01 111.81h.01M305.49 122.63h.01M302.07 125.75h.01M306.34 121h.01M306.43 125.2h.01M305.68 115.48h.01M304.06 116.22h.01M307.46 119.15h.01M302.77 125h.01M301.72 121.42h.01M307.47 115.71h.01M303.38 118.86h.01M300.03 123.42h.01M306.42 126.02h.01M307.8 125.03h.01M303.54 125.74h.01M308.37 125.1h.01M308.36 119.25h.01M304.65 112.35h.01M302.66 124.37h.01M302.51 124.74h.01M308.73 119.19h.01M300.86 123.58h.01M302.72 125.42h.01M304.56 115.75h.01M309.95 123.43h.01M307.3 114.36h.01M306.07 114.85h.01M301.98 124.41h.01M306.62 118.68h.01M301.99 123.76h.01M310.68 123.33h.01M303.73 118.74h.01M304.26 122.87h.01M304.69 118.75h.01M305.46 119.69h.01M306.48 125.69h.01M303.39 120.55h.01M307.9 121.06h.01M307.26 116.04h.01M307.74 115.48h.01M305.86 112.39h.01M303.78 116.58h.01" stroke="#30a8e0" stroke-width="1" stroke-linecap="round" fill="none" stroke-opacity="0.75"/>
<text x="412" y="88.1" font-size="6.3" fill="#111" textLength="24.9" lengthAdjust="spacingAndGlyphs">DC−Prog</text>
<text x="394.2" y="96.4" font-size="6.3" fill="#111" textLength="27.6" lengthAdjust="spacingAndGlyphs">Neu−Prog</text>
<text x="399.3" y="124.1" font-size="6.3" fill="#111" textLength="17.1" lengthAdjust="spacingAndGlyphs">HSPC</text>
<text x="396.9" y="152.4" font-size="6.3" fill="#111" textLength="12.8" lengthAdjust="spacingAndGlyphs">MPP</text>
<text x="367.5" y="129.5" font-size="6.3" fill="#111" textLength="23.4" lengthAdjust="spacingAndGlyphs">Eo−Prog</text>
<text x="294.5" y="124.8" font-size="6.3" fill="#111" textLength="34.5" lengthAdjust="spacingAndGlyphs">Mk−Er−Prog</text>
<text x="405.7" y="65.5" font-size="6.3" fill="#111" textLength="34.6" lengthAdjust="spacingAndGlyphs" clip-path="url(#clipB)">Lymph−Prog</text>
<line x1="293.1" y1="37.5" x2="293.1" y2="177" stroke="#000" stroke-width="1.4" />
<line x1="289.7" y1="47.3" x2="293.1" y2="47.3" stroke="#111" stroke-width="0.9" />
<text x="286" y="50.4" font-size="8.6" text-anchor="end" fill="#333">3.0</text>
<line x1="289.7" y1="87.5" x2="293.1" y2="87.5" stroke="#111" stroke-width="0.9" />
<text x="286" y="90.6" font-size="8.6" text-anchor="end" fill="#333">2.5</text>
<line x1="289.7" y1="127.7" x2="293.1" y2="127.7" stroke="#111" stroke-width="0.9" />
<text x="286" y="130.8" font-size="8.6" text-anchor="end" fill="#333">2.0</text>
<line x1="289.7" y1="167.9" x2="293.1" y2="167.9" stroke="#111" stroke-width="0.9" />
<text x="286" y="171" font-size="8.6" text-anchor="end" fill="#333">1.5</text>
<line x1="292.5" y1="176.3" x2="435.7" y2="176.3" stroke="#000" stroke-width="1.4" />
<line x1="299.5" y1="176.3" x2="299.5" y2="179.7" stroke="#111" stroke-width="0.9" />
<text x="299.5" y="191.3" font-size="8.6" text-anchor="middle" fill="#333">0</text>
<line x1="338.9" y1="176.3" x2="338.9" y2="179.7" stroke="#111" stroke-width="0.9" />
<text x="338.9" y="191.3" font-size="8.6" text-anchor="middle" fill="#333">1</text>
<line x1="378.3" y1="176.3" x2="378.3" y2="179.7" stroke="#111" stroke-width="0.9" />
<text x="378.3" y="191.3" font-size="8.6" text-anchor="middle" fill="#333">2</text>
<line x1="417.8" y1="176.3" x2="417.8" y2="179.7" stroke="#111" stroke-width="0.9" />
<text x="417.8" y="191.3" font-size="8.6" text-anchor="middle" fill="#333">3</text>
<text x="342.3" y="204.5" font-size="11" fill="#111" textLength="42.5" lengthAdjust="spacingAndGlyphs" stroke="#111" stroke-width="0.32">Component 1</text>
<text x="266.9" y="125.1" font-size="11" fill="#111" textLength="43.8" lengthAdjust="spacingAndGlyphs" transform="rotate(-90 266.9 125.1)" stroke="#111" stroke-width="0.32">Component 2</text>
<text x="445.8" y="74.1" font-size="7.1" fill="#111" textLength="27.1" lengthAdjust="spacingAndGlyphs">Cell type</text>
<circle cx="444.3" cy="83.1" r="1.2" fill="#e0605a"/>
<text x="449" y="85.65" font-size="7.1">DC−Prog</text>
<circle cx="444.3" cy="91.7" r="1.2" fill="#c09410"/>
<text x="449" y="94.25" font-size="7.1">Eo−Prog</text>
<circle cx="444.3" cy="100.3" r="1.2" fill="#50a820"/>
<text x="449" y="102.85" font-size="7.1">HSPC</text>
<circle cx="444.3" cy="108.9" r="1.2" fill="#20a880"/>
<text x="449" y="111.45" font-size="7.1">Lymph−Prog</text>
<circle cx="444.3" cy="117.5" r="1.2" fill="#30a8e0"/>
<text x="449" y="120.05" font-size="7.1">Mk−Er−Prog</text>
<circle cx="444.3" cy="126.1" r="1.2" fill="#8a7ed8"/>
<text x="449" y="128.65" font-size="7.1">MPP</text>
<circle cx="444.3" cy="134.7" r="1.2" fill="#d050c0"/>
<text x="449" y="137.25" font-size="7.1">Neu−Prog</text>
<text x="9.1" y="229.2" font-size="13.6" font-weight="bold" fill="#000" textLength="9.9" lengthAdjust="spacingAndGlyphs" stroke="#000" stroke-width="0.45">C</text>
<circle cx="33.75" cy="235.5" r="1.2" fill="#e0605a"/>
<text x="38.75" y="238.05" font-size="7.1">Ba−Prog</text>
<circle cx="33.75" cy="244.1" r="1.2" fill="#d08a10"/>
<text x="38.75" y="246.65" font-size="7.1">DC−Prog</text>
<circle cx="75" cy="235.5" r="1.2" fill="#a8a010"/>
<text x="79.5" y="238.05" font-size="7.1">Eo−Prog</text>
<circle cx="75" cy="244.1" r="1.2" fill="#4aa828"/>
<text x="79.5" y="246.65" font-size="7.1">Er−Prog</text>
<circle cx="113.4" cy="235.5" r="1.2" fill="#30a860"/>
<text x="117.6" y="238.05" font-size="7.1">HSPC</text>
<circle cx="113.4" cy="244.1" r="1.2" fill="#30aab8"/>
<text x="117.6" y="246.65" font-size="7.1">Lymph−Prog</text>
<circle cx="165.7" cy="235.5" r="1.2" fill="#3a98e8"/>
<text x="169.8" y="238.05" font-size="7.1">Mk−Prog</text>
<circle cx="165.7" cy="244.1" r="1.2" fill="#8c84dc"/>
<text x="169.8" y="246.65" font-size="7.1">Mo−Prog</text>
<circle cx="204.8" cy="235.5" r="1.2" fill="#b04cc0"/>
<text x="209.1" y="238.05" font-size="7.1">MPP</text>
<circle cx="204.8" cy="244.1" r="1.2" fill="#d8449a"/>
<text x="209.1" y="246.65" font-size="7.1">Neu−Prog</text>
<path d="M129.61 275.19h.01M115.13 279.86h.01M78.72 299.28h.01M57.26 318.31h.01M61.54 312.53h.01M113.41 278.93h.01M93.78 288.42h.01M57.56 318.54h.01M71.15 304.11h.01M104.31 282.72h.01M76.34 301.23h.01M99.08 285.53h.01M72.45 303.88h.01M58.63 317.41h.01M57.22 315.84h.01M82.53 295.27h.01M103.59 282.38h.01M125.12 276.47h.01M102.32 282.61h.01M131.68 275.83h.01M129.41 277.07h.01M83.13 296.18h.01M70.66 303.58h.01M106.8 283.28h.01M56.4 316.61h.01M98.1 286.84h.01M90.38 291.54h.01M62.8 311.3h.01M81.99 297.06h.01M81.51 294.85h.01M57.6 319.25h.01M72.93 302.22h.01M57 319.46h.01M95.65 287.65h.01M119.18 279.62h.01M95.69 287.62h.01M59.27 316.41h.01M121.17 279.53h.01M70.24 306.73h.01M89.68 290.87h.01" stroke="#e0605a" stroke-width="1" stroke-linecap="round" fill="none" stroke-opacity="0.8"/>
<path d="M128.06 280.16h.01M102.35 283.3h.01M124.52 277.23h.01M65.87 310.64h.01M62.62 315.32h.01M109 279.8h.01M91.45 290.3h.01M102.44 285.03h.01M120 278.55h.01M88.56 290.68h.01M68.7 305.06h.01M108.89 280.91h.01M94.49 287.57h.01M111.38 281.33h.01M115.8 278.54h.01M126.22 277.26h.01M109.35 282.85h.01M77.6 300.3h.01M114.65 278.91h.01M113.68 278.6h.01M99.16 286.5h.01M94.68 288.47h.01M113.4 280.4h.01M80.93 295.24h.01M126.61 277.06h.01M112.18 280.55h.01M56.75 315.57h.01M110.76 281.65h.01M70.07 304.44h.01M78.93 298.13h.01M77.23 299.36h.01M87.8 294.22h.01M88.04 292.46h.01M80.64 296.97h.01M104.85 282.47h.01M130.82 277.46h.01M129.13 276.33h.01M64.09 310.71h.01M61.04 312.72h.01M102.57 282.99h.01" stroke="#d08a10" stroke-width="1" stroke-linecap="round" fill="none" stroke-opacity="0.8"/>
<path d="M81.14 297.16h.01M63.54 310.32h.01M78.57 296.8h.01M107.24 282.62h.01M94.97 288.68h.01M91.43 289.89h.01M88.72 291.11h.01M54.86 319.67h.01M80.55 296.71h.01M120.04 280.37h.01M87.49 292.88h.01M124.17 276.81h.01M61.58 313.15h.01M105.96 282.01h.01M120 277.94h.01M68.97 305.22h.01M86.87 292.74h.01M67.52 308.27h.01M93.81 289.18h.01M126.42 278.77h.01M116.76 278.35h.01M94 289.55h.01M117.55 279.64h.01M114.47 279.87h.01M85.98 295.25h.01M70.27 303.67h.01M56.43 318.74h.01M86.77 293.84h.01M80.76 297.37h.01M100.28 285.47h.01M119.07 278.74h.01M73.08 302.13h.01M72.96 301.45h.01M100.06 285.27h.01M67.69 306.1h.01M100.86 284.25h.01M129.78 275.44h.01M90.51 291.21h.01M109.9 280.5h.01M89.8 292.93h.01" stroke="#a8a010" stroke-width="1" stroke-linecap="round" fill="none" stroke-opacity="0.8"/>
<path d="M56.96 321.64h.01M104.08 284.32h.01M68.5 307.18h.01M59.22 314.07h.01M112.62 280.04h.01M91.16 291.41h.01M60.58 313.71h.01M99.71 286.77h.01M94.42 288.01h.01M96.48 287.55h.01M70.5 305.1h.01M79.48 296.68h.01M108.21 282.88h.01M120.1 279.24h.01M124.16 277.95h.01M69.85 303.29h.01M63.78 311.63h.01M104.26 284.31h.01M91.6 290.13h.01M130.92 277.61h.01M101.07 285.42h.01M132.01 277.19h.01M122.78 277.84h.01M130.71 276.88h.01M90.06 289.36h.01M94.32 288.43h.01M124.14 277.91h.01M75.86 298.84h.01M71.11 302.82h.01M55.33 318.51h.01M69.98 305.19h.01M128.75 275.26h.01M83.72 295.11h.01M65.79 310.05h.01M59.2 316.49h.01M91.24 290.59h.01M61.43 313.21h.01M117.74 279.14h.01M100.13 286.05h.01M66.04 309.01h.01" stroke="#4aa828" stroke-width="1" stroke-linecap="round" fill="none" stroke-opacity="0.8"/>
<path d="M123.28 278.72h.01M95.05 287.04h.01M105.12 284.55h.01M66.38 309.03h.01M108.45 280.53h.01M93.25 288.65h.01M100.99 286.77h.01M62.45 310.52h.01M95.66 288.06h.01M102.57 284.89h.01M72.41 301.66h.01M58.42 315.43h.01M123.23 277.1h.01M99.77 284.2h.01M106.84 282.62h.01M118.06 279.42h.01M68.54 307.55h.01M84.09 297.72h.01M63.59 310.92h.01M57.83 319.41h.01M119.49 277.47h.01M107 280.63h.01M105.57 280.61h.01M110.1 282.75h.01M73.28 301.81h.01M117.87 277.72h.01M73.19 301.18h.01M117.17 277.46h.01M65.22 306.14h.01M74.76 301.99h.01M66.1 307.96h.01M63.81 313.37h.01M110.98 281.93h.01M77.88 301.71h.01M125.82 275.81h.01M108.97 281.06h.01M121.87 277.92h.01M59 317.01h.01M65.35 309.41h.01M114.06 279.01h.01" stroke="#30a860" stroke-width="1" stroke-linecap="round" fill="none" stroke-opacity="0.8"/>
<path d="M98.74 287.65h.01M66.57 307.94h.01M129.85 276.34h.01M113.32 279.51h.01M57.34 319.42h.01M127.85 276.26h.01M130.18 276.87h.01M100.19 284.32h.01M113.69 280.86h.01M63.88 311.22h.01M112.66 282.18h.01M113.4 281.36h.01M76.71 299.1h.01M83.12 293.9h.01M64.02 311.41h.01M106.6 280.51h.01M89.66 291.77h.01M113.74 279.76h.01M104.88 283.29h.01M61.08 312.92h.01M103.75 284.26h.01M95.88 285.12h.01M70.33 305.19h.01M94.68 288.22h.01M122.43 277.83h.01M58.7 316.2h.01M56.75 321.63h.01M59.19 314.78h.01M80.19 296.61h.01M64.59 310.8h.01M123.78 277.89h.01M88.25 291.62h.01M61.45 311.95h.01M115.01 280.04h.01M124.41 277.73h.01M86.62 294.09h.01M92.27 286.91h.01M66.21 309.3h.01M129.56 274.72h.01M69.77 305.79h.01" stroke="#30aab8" stroke-width="1" stroke-linecap="round" fill="none" stroke-opacity="0.8"/>
<path d="M81.6 296.45h.01M83.99 294.75h.01M67.22 306.62h.01M78.8 299.94h.01M61.46 312.89h.01M64.24 308.1h.01M112.2 279.06h.01M118.64 278.92h.01M81.17 296.63h.01M71.48 302.1h.01M78.37 300.98h.01M58.34 316.17h.01M111.89 280.93h.01M73.31 302.75h.01M70.12 305.99h.01M80.06 298.59h.01M107.08 280.53h.01M67.16 306.72h.01M86.67 293.71h.01M114.9 279.8h.01M72.86 302.68h.01M83.16 296.45h.01M119.08 276.76h.01M122.27 277.7h.01M89.88 289.47h.01M76.62 297.72h.01M117.09 278.75h.01M68.58 308.26h.01M74.42 300.63h.01M77.53 299.31h.01M88.34 293.76h.01M88.77 291h.01M95.28 288.33h.01M92.8 290.19h.01M92.66 287.54h.01M116.72 279.09h.01M77.57 299.86h.01M64.55 310.94h.01M80.55 297.86h.01M94.04 290.17h.01" stroke="#8c84dc" stroke-width="1" stroke-linecap="round" fill="none" stroke-opacity="0.8"/>
<path d="M127.59 276.85h.01M113.37 279.68h.01M63.45 308.73h.01M93.74 292.28h.01M106.61 282.74h.01M68.49 307.63h.01M69.6 304.77h.01M66.29 310.01h.01M55.06 319.29h.01M98.41 286.46h.01M84.09 294.98h.01M68.24 307.36h.01M99.16 285.94h.01M108.81 279.89h.01M69.41 307.38h.01M60.8 316.01h.01M87.29 293.43h.01M122.07 279.06h.01M126.36 277.03h.01M125.39 276.55h.01M59.5 317.83h.01M128.32 277.48h.01M73.1 304.15h.01M77.65 298.77h.01M114.49 280.24h.01M125.71 277.74h.01M65.88 305.48h.01M114.11 278.99h.01M104.65 282.27h.01M130.29 275.3h.01M93.31 288.69h.01M114.5 279.64h.01M62.54 313.79h.01M58.7 314.33h.01M84.58 294.8h.01M81.42 298.15h.01M69.93 305.99h.01M63.4 309.34h.01M66.47 307.71h.01M63.35 310.51h.01" stroke="#b04cc0" stroke-width="1" stroke-linecap="round" fill="none" stroke-opacity="0.8"/>
<path d="M72.21 302.05h.01M122.5 277.97h.01M76.51 300.5h.01M128.11 276.96h.01M56.86 317.82h.01M103.56 284.65h.01M124.3 276.28h.01M104.42 281.21h.01M128.81 276.97h.01M78.16 299.54h.01M75.98 302.87h.01M116.1 278.3h.01M58.79 316.3h.01M118.2 277.81h.01M78.1 301.2h.01M126.22 276.77h.01M117.37 279.09h.01M108.82 280.46h.01M56.99 316.87h.01M130.38 276.83h.01M66.25 307.74h.01M60.17 314.52h.01M118.56 279.88h.01M65.05 310.81h.01M100.6 284.1h.01M130.25 278.46h.01M78.56 299.64h.01M66.77 307.22h.01M90.06 290.73h.01M64.66 309.13h.01M86.2 292.34h.01M76.35 299.01h.01M97.72 286.62h.01M63.01 311.63h.01M81.7 294.16h.01M82.88 296.44h.01M55.89 320.34h.01M84.08 293.33h.01M71.2 305.29h.01M89.12 292.46h.01" stroke="#d8449a" stroke-width="1" stroke-linecap="round" fill="none" stroke-opacity="0.8"/>
<path d="M59.1 319.85h.01M58.04 320.58h.01M59.3 319.03h.01M55.92 320.12h.01M58.14 319.82h.01M59.24 318.19h.01M60.61 317.22h.01M57.87 314.79h.01M56.78 319.33h.01M56.28 320.67h.01M58.39 317.79h.01M55.97 320.71h.01" stroke="#8c84dc" stroke-width="1" stroke-linecap="round" fill="none" stroke-opacity="0.8"/>
<path d="M60.21 319.18h.01M56.6 319.33h.01M57.83 316.79h.01M60.47 314.83h.01M60.99 318.73h.01M59.96 320.2h.01M59.89 318.35h.01M59.14 320.66h.01M59.13 315.98h.01M60.34 314.79h.01M60.22 319.31h.01M58.61 322.61h.01" stroke="#30aab8" stroke-width="1" stroke-linecap="round" fill="none" stroke-opacity="0.8"/>
<path d="M57.22 321.13h.01M55.74 319.67h.01M55.56 318.87h.01M55.44 319.15h.01M57.55 318.96h.01M60.62 317.21h.01M59.73 317.41h.01M56.72 319.15h.01M56.33 320.07h.01M59.28 314.87h.01M61.59 318.32h.01M58.46 315.7h.01" stroke="#d08a10" stroke-width="1" stroke-linecap="round" fill="none" stroke-opacity="0.8"/>
<path d="M59.52 319.1h.01M55.97 318.91h.01M58.65 317.94h.01M57.94 319.28h.01M59.09 317.04h.01M57.64 317.78h.01M58.19 317.04h.01M57.59 318.51h.01M57.2 321.3h.01M55.57 319.41h.01M56.86 317.61h.01M54.67 319.49h.01" stroke="#3a98e8" stroke-width="1" stroke-linecap="round" fill="none" stroke-opacity="0.8"/>
<path d="M62.16 316.06h.01M59.18 317.04h.01M54.46 319.16h.01M55.88 319.06h.01M61.38 316.76h.01M60.67 318.02h.01M59.91 318.44h.01M58.71 314.19h.01M58.55 320.22h.01M59.72 321.85h.01M55.56 319.66h.01M55.92 320.52h.01" stroke="#d8449a" stroke-width="1" stroke-linecap="round" fill="none" stroke-opacity="0.8"/>
<path d="M57.22 316.99h.01M58.82 314.83h.01M60.81 317.59h.01M59.52 317.12h.01M56.12 320.38h.01M56.34 316.65h.01M58.31 318.31h.01M59.14 318.79h.01M56 320.36h.01M57.46 320.93h.01M62.39 317.33h.01M58.03 321.85h.01" stroke="#8c84dc" stroke-width="1" stroke-linecap="round" fill="none" stroke-opacity="0.8"/>
<path d="M133.54 273.47h.01M135.87 275.16h.01M132.68 273.71h.01" stroke="#e0605a" stroke-width="1" stroke-linecap="round" fill="none" stroke-opacity="0.8"/>
<path d="M143.57 271.34h.01M143.17 271.56h.01M142.19 269.71h.01" stroke="#e0605a" stroke-width="1" stroke-linecap="round" fill="none" stroke-opacity="0.8"/>
<path d="M148.91 269.72h.01M151.6 269.41h.01M151.99 269.13h.01" stroke="#e0605a" stroke-width="1" stroke-linecap="round" fill="none" stroke-opacity="0.8"/>
<path d="M157.92 270.76h.01M158.72 269.15h.01M159.42 266.65h.01" stroke="#e0605a" stroke-width="1" stroke-linecap="round" fill="none" stroke-opacity="0.8"/>
<path d="M166.16 267.13h.01M166.09 268.85h.01M165.58 269.44h.01" stroke="#e0605a" stroke-width="1" stroke-linecap="round" fill="none" stroke-opacity="0.8"/>
<path d="M134.67 273.01h.01M132.85 273.06h.01M134.32 273.58h.01" stroke="#b04cc0" stroke-width="1" stroke-linecap="round" fill="none" stroke-opacity="0.8"/>
<path d="M140.43 269.92h.01M144.36 271.02h.01M141.93 270.34h.01" stroke="#b04cc0" stroke-width="1" stroke-linecap="round" fill="none" stroke-opacity="0.8"/>
<path d="M150.21 267.85h.01M150.68 268.35h.01M149.68 268.67h.01" stroke="#b04cc0" stroke-width="1" stroke-linecap="round" fill="none" stroke-opacity="0.8"/>
<path d="M159.17 269.22h.01M159.29 267.71h.01M157.82 267.51h.01" stroke="#b04cc0" stroke-width="1" stroke-linecap="round" fill="none" stroke-opacity="0.8"/>
<path d="M166.62 268h.01M167.34 270.99h.01M165.4 269.68h.01" stroke="#b04cc0" stroke-width="1" stroke-linecap="round" fill="none" stroke-opacity="0.8"/>
<path d="M134.25 274.79h.01M135.98 273.08h.01M134.55 274.14h.01" stroke="#d8449a" stroke-width="1" stroke-linecap="round" fill="none" stroke-opacity="0.8"/>
<path d="M143.36 272.46h.01M143.8 270.85h.01M143.33 269.4h.01" stroke="#d8449a" stroke-width="1" stroke-linecap="round" fill="none" stroke-opacity="0.8"/>
<path d="M148.43 269.04h.01M150.94 269.35h.01M150.73 270.25h.01" stroke="#d8449a" stroke-width="1" stroke-linecap="round" fill="none" stroke-opacity="0.8"/>
<path d="M158.35 269.76h.01M158.31 268.54h.01M157.78 268.68h.01" stroke="#d8449a" stroke-width="1" stroke-linecap="round" fill="none" stroke-opacity="0.8"/>
<path d="M167.38 270.9h.01M164.97 270.29h.01M165.28 270.18h.01" stroke="#d8449a" stroke-width="1" stroke-linecap="round" fill="none" stroke-opacity="0.8"/>
<path d="M134.5 275.05h.01M134.44 273.58h.01M133.03 270.33h.01" stroke="#30a860" stroke-width="1" stroke-linecap="round" fill="none" stroke-opacity="0.8"/>
<path d="M141.68 270.3h.01M140.98 272.89h.01M140.99 271.96h.01" stroke="#30a860" stroke-width="1" stroke-linecap="round" fill="none" stroke-opacity="0.8"/>
<path d="M149.77 267.98h.01M148.45 270.23h.01M149.39 269.43h.01" stroke="#30a860" stroke-width="1" stroke-linecap="round" fill="none" stroke-opacity="0.8"/>
<path d="M158.61 269.7h.01M159.93 269.05h.01M158.09 269.76h.01" stroke="#30a860" stroke-width="1" stroke-linecap="round" fill="none" stroke-opacity="0.8"/>
<path d="M166.87 271.67h.01M167 268.99h.01M166.68 268.56h.01" stroke="#30a860" stroke-width="1" stroke-linecap="round" fill="none" stroke-opacity="0.8"/>
<path d="M135.24 273.56h.01M134.77 272.78h.01M135.53 273.16h.01" stroke="#30aab8" stroke-width="1" stroke-linecap="round" fill="none" stroke-opacity="0.8"/>
<path d="M142.48 270.32h.01M141.84 270.24h.01M143.92 269.55h.01" stroke="#30aab8" stroke-width="1" stroke-linecap="round" fill="none" stroke-opacity="0.8"/>
<path d="M152.31 269.85h.01M148.26 268.78h.01M148.71 271.95h.01" stroke="#30aab8" stroke-width="1" stroke-linecap="round" fill="none" stroke-opacity="0.8"/>
<path d="M158.77 270.37h.01M157.86 271.2h.01M159.42 268.82h.01" stroke="#30aab8" stroke-width="1" stroke-linecap="round" fill="none" stroke-opacity="0.8"/>
<path d="M166.25 270.19h.01M167.75 270.45h.01M166.86 270.01h.01" stroke="#30aab8" stroke-width="1" stroke-linecap="round" fill="none" stroke-opacity="0.8"/>
<path d="M169 264.4h.01M168.82 261.53h.01M167.77 263.57h.01M168.47 263.91h.01M169.43 261.84h.01M171.07 264.97h.01M171.4 265.52h.01M172.39 264.23h.01M172.12 264.94h.01M170.38 265.77h.01M168.9 261.55h.01M170.43 263.28h.01M169.18 262.33h.01M170.61 265.53h.01M169.99 263.86h.01M168.9 262.18h.01M171.13 262.79h.01M169.62 266.4h.01M171.53 265.36h.01M169.41 264.58h.01M170.97 266.08h.01M171.19 266.08h.01M171.34 266h.01M171.9 264.68h.01M167.34 263.57h.01M170.87 263.44h.01M171.86 263.92h.01M170.14 262.79h.01M172.15 263.96h.01M168.22 264.22h.01M171.22 262.66h.01M172.41 263.84h.01M169.58 261.79h.01M170.95 266.06h.01M169.39 263.21h.01M170.47 264.35h.01M170.11 266.23h.01M169.87 261.85h.01M167.63 265.85h.01M170.43 265.01h.01M168.17 264.48h.01M169.36 261.63h.01M169.53 262.52h.01M168.13 263.3h.01M167.52 263.43h.01M171.18 265.96h.01M170.61 261.88h.01M170.82 264.68h.01M169.59 261.66h.01M167.46 262.31h.01M168.32 264.55h.01M167.97 264.23h.01M167.66 265.57h.01M168.47 265.97h.01M169.23 263.79h.01M166.81 263.84h.01M167.94 262.08h.01M167.68 262.01h.01M171.5 264.41h.01M170.44 266.14h.01" stroke="#e0605a" stroke-width="1" stroke-linecap="round" fill="none" stroke-opacity="0.8"/>
<path d="M169.92 267.76h.01M169.5 266.1h.01M169.3 269.69h.01M169.65 269.87h.01M170.07 269.79h.01M169.94 266.45h.01" stroke="#30a860" stroke-width="1" stroke-linecap="round" fill="none" stroke-opacity="0.8"/>
<path d="M173.48 278.41h.01M173.24 276.75h.01M174 277.37h.01M174.17 276.53h.01M174.83 276.63h.01M176.4 280.55h.01M176.84 280.5h.01M177.35 280.36h.01M176.85 280.66h.01M177.39 279.88h.01M178.73 282.28h.01M178.34 282.55h.01M179.2 281.65h.01M178.42 282.56h.01M178.07 282.56h.01M179.85 286.1h.01M179.85 285.34h.01M181.21 284.69h.01M180.68 284.83h.01M181.77 284.35h.01M184.85 288.65h.01M183.24 288.72h.01M183.05 289.59h.01M183.7 289.83h.01M184.31 288.27h.01M186.68 290.81h.01M186.23 290.45h.01M185.69 291.13h.01M185.87 290.57h.01M185.98 291.73h.01M187.29 294.01h.01M186.98 294.02h.01M186.73 294.06h.01M188.08 293.62h.01M186.55 294.35h.01M189.34 296.19h.01M190.33 295.55h.01M188.46 296.63h.01M187.97 296.96h.01M188.89 296.88h.01M190.46 299.38h.01M189.95 300.22h.01M190.98 299.84h.01M191.4 298.55h.01M191.55 299.97h.01M194.26 303.1h.01M193.99 301.76h.01M192.49 302.96h.01M192.81 303.13h.01M193.57 302.19h.01M196.45 306.18h.01M196.48 306.34h.01M195.46 306.34h.01M196.53 306.18h.01M196.27 305.77h.01M198.28 307.93h.01M197.89 308.39h.01M198.27 308.44h.01M197.48 308.72h.01M196.34 308.7h.01M199.05 312.12h.01M199.72 311.57h.01M200.75 311.52h.01M198.92 311.95h.01M199.34 311.87h.01M200.34 314.65h.01M199.43 315.34h.01M199.64 315.47h.01M199.91 314.97h.01M199.91 314.88h.01M204.13 317.19h.01M201.4 318.81h.01M202.36 318.14h.01M203.02 318.01h.01M202.04 317.97h.01M205.57 320.63h.01M204.14 321.18h.01M205.61 321.19h.01M203.62 322.72h.01M204.84 321.79h.01" stroke="#4aa828" stroke-width="1" stroke-linecap="round" fill="none" stroke-opacity="0.8"/>
<path d="M175.27 275.69h.01M174.01 277.7h.01M175.07 275.71h.01M174.06 276.51h.01M177.52 282.6h.01M177.09 282.93h.01M178.19 282.69h.01M178.52 282.18h.01M183.38 287.93h.01M182.31 288.53h.01M183.01 288.51h.01M184.24 288.32h.01M186.22 293.76h.01M187.37 292.47h.01M187.72 292.7h.01M186.53 293.1h.01M190.65 300.1h.01M191.99 298.99h.01M191.2 299.16h.01M190.92 299.32h.01M194.92 305.58h.01M194.92 305.5h.01M195.43 305.51h.01M193.95 305.67h.01M199.4 315.06h.01M200.55 314.78h.01M200.44 314.16h.01M199.76 314.68h.01M201.68 318.73h.01M202.05 318.79h.01M202.74 318.58h.01M201.94 318.61h.01" stroke="#30a860" stroke-width="1" stroke-linecap="round" fill="none" stroke-opacity="0.8"/>
<path d="M176.65 283.61h.01M175.69 280.04h.01M203.79 319.19h.01M197.45 306.19h.01M195.36 304.94h.01M179.36 283.33h.01M187.2 295.27h.01M187.05 292.76h.01M193.35 302.57h.01M204.12 322.07h.01M176.87 283.3h.01M198.76 313.53h.01M183.96 285.85h.01M177.1 281.35h.01M205.44 316.32h.01" stroke="#4aa828" stroke-width="1" stroke-linecap="round" fill="none" stroke-opacity="0.8"/>
<path d="M182.64 285.31h.01M182.71 285.44h.01M182.44 285.77h.01M181.57 285.36h.01M174.35 277.37h.01M174.15 277.49h.01M173.53 277.52h.01M175.99 276.72h.01M186.34 290.23h.01M185.24 290.89h.01M185.51 291.05h.01M184 290.55h.01" stroke="#b04cc0" stroke-width="1" stroke-linecap="round" fill="none" stroke-opacity="0.8"/>
<path d="M213.88 343.84h.01M212.08 342.57h.01M216.32 352.43h.01M211.91 337.79h.01M212.01 340.67h.01M212.65 341.53h.01M208.51 334.22h.01M219.06 350.72h.01M212.52 335.54h.01M219.43 359.99h.01M216.12 351.2h.01M216.36 351.82h.01M210.23 332.38h.01M209.86 332.89h.01M218.71 360.26h.01M213.02 338.71h.01M206.08 326.63h.01M210.79 336.39h.01M217 351.17h.01M212.08 340.6h.01M213.79 345.11h.01M214.04 346.32h.01M218.78 359.46h.01M210.14 337.56h.01M212.67 334.88h.01M210.8 332.79h.01M209.29 335.22h.01M210.22 335.47h.01M217.97 357.81h.01M216.45 348.54h.01M215.52 344.48h.01M216.91 353.03h.01M210.91 338.01h.01M207.23 327.08h.01M212.03 346.88h.01M220.42 362.68h.01M212.98 340.17h.01M220.04 357.16h.01M214.6 348.4h.01M219.28 354.1h.01M210.03 332.21h.01M208.15 330.97h.01M214.4 346.63h.01M218.22 358.26h.01M216.92 353.5h.01M210.34 336.6h.01M206.8 333.61h.01M219.29 362.1h.01M215.58 349.74h.01M208.93 331.61h.01M218.85 352.06h.01M216.17 351.76h.01M215.78 342.57h.01M214.13 342.17h.01M212.43 336.29h.01M221.52 362.33h.01M210.62 340.78h.01M215.55 353.46h.01M209.02 336.21h.01M218.34 355.76h.01M214.56 346.48h.01M209.41 332.52h.01M219.3 360.4h.01M210.18 335.5h.01M221.46 362.54h.01M208.34 330.93h.01M213.08 337.09h.01M212.34 339.84h.01M207.72 328.1h.01M215.91 351.62h.01M207.09 331.94h.01M218.13 352.33h.01M208.2 334.18h.01M220.8 361.66h.01M217.29 349.27h.01M207.43 329.9h.01M213.33 342.26h.01M213.27 346.22h.01M217.06 355.8h.01M221.94 361.53h.01M206.78 330.12h.01M211.59 339.46h.01M216.47 353.14h.01M211.01 336.84h.01M210.53 333.82h.01M221.28 361.57h.01M217.9 356.85h.01M213.27 338.47h.01M210.22 331.75h.01M211.77 335.2h.01" stroke="#4aa828" stroke-width="1" stroke-linecap="round" fill="none" stroke-opacity="0.8"/>
<path d="M209.82 335.71h.01M210.58 336.45h.01M210.63 336.89h.01M211.14 337.07h.01M208.67 333.29h.01M208.62 335.26h.01M209.85 339h.01M207.83 334.51h.01M207.68 327.28h.01M206.36 325.56h.01M212.42 338.76h.01M209.75 328.84h.01M212.14 340.37h.01M209.32 334.46h.01M208.65 329.86h.01M206.28 324.08h.01M208.78 331.32h.01M207.2 330.82h.01M212.77 339.58h.01M211.03 336.51h.01M209.48 334.13h.01M208.8 330.98h.01M206.93 329.45h.01M207.94 334.86h.01M214.33 338.38h.01M207.8 332.18h.01M208.17 332.57h.01M205.69 324.77h.01M209.18 326.83h.01M209.81 335.09h.01M209.38 339.69h.01M211.41 335.22h.01M208.43 330.18h.01M210.06 336.64h.01M206.12 324.5h.01M208.91 333.21h.01M206.04 324.04h.01M211.85 337.61h.01M208.01 330.99h.01M207.22 327.81h.01M209.74 330.67h.01M205.97 324.49h.01M207.15 326.68h.01M210.6 335.33h.01M207.21 327.89h.01M211.96 334.13h.01M210.63 338.82h.01M207.78 332.62h.01M208.8 330.66h.01M209.61 334.9h.01" stroke="#4aa828" stroke-width="1" stroke-linecap="round" fill="none" stroke-opacity="0.8"/>
<path d="M130.93 292.91h.01M135.9 299.92h.01M134.54 291.36h.01M139.34 300.74h.01M139.03 298.78h.01M131.66 296.62h.01M131.33 290.88h.01M134.59 289.79h.01M137.54 304.09h.01M134.43 302.16h.01M134.81 296.23h.01M133.8 291.77h.01M138.58 305.53h.01M132.89 292.72h.01M134.53 297.58h.01M132.88 294.39h.01M134.65 301.43h.01M138.65 307.05h.01M131.35 292.72h.01M135.3 302.66h.01M137.22 307.86h.01M135.61 305.51h.01M137.23 299.71h.01M133.45 298.26h.01M134.18 297.81h.01M138.01 298.93h.01M139.42 302.16h.01M134.53 298.9h.01M133.69 292.43h.01M133.07 293.76h.01M139 302.05h.01M133.08 296.98h.01M140.21 304.58h.01M134.11 300.65h.01M133.68 293.05h.01M137.14 296.71h.01M138.33 303.71h.01M136.48 297.33h.01M138.26 296.57h.01M137.81 295.87h.01M135.76 292.57h.01M134.11 296.95h.01M131.43 294.92h.01M134.19 295.21h.01M131.91 290.67h.01M139.8 303.44h.01M138.26 306.25h.01M134.71 292.25h.01M131.46 296.59h.01M135.1 290.55h.01M132.75 299.52h.01M137.33 306.91h.01M133.86 293.41h.01M131.15 292.57h.01M135.6 290.65h.01M132.96 295.56h.01M135.09 297.23h.01M133.47 291.94h.01M134.49 302.06h.01M132.67 291.14h.01M138.88 299.03h.01M132.95 298.15h.01M136.18 292.71h.01M135.15 292.59h.01M135.34 291.87h.01M136.78 298.74h.01M136.99 301.44h.01M136.83 294.42h.01M140.26 305.56h.01M135.63 294.61h.01M135.72 303.88h.01M132.6 298.12h.01M136.89 307.31h.01M131.63 291.45h.01M135.59 304.07h.01M137.96 296.99h.01M132.38 290.35h.01M138.49 298.69h.01M136.15 301.98h.01M138.51 296.63h.01M135.34 299.12h.01M133.69 295.09h.01M132.05 294.48h.01M139.41 302.68h.01M133.7 295.04h.01M133.29 300.45h.01M135.4 291.37h.01M139.71 300.85h.01M135.71 302.22h.01M135.77 294.66h.01M135.72 292.38h.01M135.19 290.06h.01M135.52 294.08h.01M136.71 293.24h.01M133.28 290.56h.01" stroke="#3a98e8" stroke-width="1" stroke-linecap="round" fill="none" stroke-opacity="0.8"/>
<path d="M140.09 302.4h.01M140.87 302.63h.01M138.17 301.72h.01M138.04 300.22h.01M138.7 299.65h.01M140.57 300.11h.01M139.96 301.33h.01M141.98 299.49h.01" stroke="#4aa828" stroke-width="1" stroke-linecap="round" fill="none" stroke-opacity="0.8"/>
<path d="M55.5 321 L56.44 319.96 L57.72 318.5 L59.25 316.79 L60.91 314.95 L62.6 313.14 L64.2 311.5 L65.75 309.99 L67.33 308.5 L68.94 307.03 L70.56 305.59 L72.18 304.21 L73.8 302.9 L75.41 301.67 L77.03 300.52 L78.65 299.42 L80.27 298.36 L81.89 297.29 L83.5 296.2 L85.11 295.08 L86.71 293.93 L88.31 292.79 L89.9 291.68 L91.5 290.61 L93.1 289.6 L94.7 288.66 L96.3 287.77 L97.9 286.92 L99.5 286.11 L101.1 285.34 L102.7 284.6 L104.3 283.89 L105.9 283.22 L107.5 282.58 L109.1 281.98 L110.7 281.42 L112.3 280.9 L113.89 280.43 L115.47 280 L117.06 279.61 L118.65 279.26 L120.26 278.92 L121.9 278.6 L123.7 278.29 L125.66 277.99 L127.65 277.71 L129.5 277.46 L131.07 277.25 L132.2 277.1" fill="none" stroke="#3a3a3a" stroke-width="0.9" stroke-linejoin="round" stroke-linecap="round" />
<path d="M132.2 277.1 L133.17 276.66 L134.49 276.04 L136.07 275.31 L137.82 274.55 L139.66 273.86 L141.5 273.3 L143.45 272.87 L145.6 272.5 L147.83 272.19 L150.05 271.94 L152.14 271.74 L154 271.6 L155.6 271.52 L157.02 271.52 L158.32 271.57 L159.54 271.66 L160.75 271.77 L162 271.9 L163.35 272.06 L164.79 272.28 L166.2 272.52 L167.5 272.76 L168.6 272.96 L169.4 273.1" fill="none" stroke="#3a3a3a" stroke-width="0.9" stroke-linejoin="round" stroke-linecap="round" />
<path d="M169.4 273.1 L170.01 273.91 L170.86 275.04 L171.87 276.38 L172.95 277.81 L174.02 279.22 L175 280.5 L175.89 281.64 L176.76 282.72 L177.62 283.79 L178.49 284.87 L179.38 285.99 L180.3 287.2 L181.26 288.49 L182.24 289.84 L183.24 291.23 L184.26 292.66 L185.28 294.12 L186.3 295.6 L187.32 297.1 L188.35 298.64 L189.39 300.2 L190.43 301.79 L191.46 303.39 L192.5 305 L193.55 306.65 L194.62 308.35 L195.69 310.06 L196.74 311.76 L197.75 313.42 L198.7 315 L199.64 316.59 L200.58 318.23 L201.49 319.82 L202.31 321.28 L202.99 322.5 L203.5 323.4" fill="none" stroke="#3a3a3a" stroke-width="0.9" stroke-linejoin="round" stroke-linecap="round" />
<path d="M132.2 277.1 L134.3 290" fill="none" stroke="#3a3a3a" stroke-width="0.9" stroke-linejoin="round" stroke-linecap="round" />
<line x1="45" y1="256.2" x2="45" y2="370" stroke="#000" stroke-width="1.4" />
<line x1="41.6" y1="259.4" x2="45" y2="259.4" stroke="#111" stroke-width="0.9" />
<text x="38.3" y="262.5" font-size="8.6" text-anchor="end" fill="#333">3</text>
<line x1="41.6" y1="287.1" x2="45" y2="287.1" stroke="#111" stroke-width="0.9" />
<text x="38.3" y="290.2" font-size="8.6" text-anchor="end" fill="#333">0</text>
<line x1="41.6" y1="314.8" x2="45" y2="314.8" stroke="#111" stroke-width="0.9" />
<text x="38.3" y="317.9" font-size="8.6" text-anchor="end" fill="#333">−3</text>
<line x1="41.6" y1="342.4" x2="45" y2="342.4" stroke="#111" stroke-width="0.9" />
<text x="38.3" y="345.5" font-size="8.6" text-anchor="end" fill="#333">−6</text>
<line x1="44.4" y1="369.3" x2="230.8" y2="369.3" stroke="#000" stroke-width="1.4" />
<line x1="45.9" y1="369.3" x2="45.9" y2="372.7" stroke="#111" stroke-width="0.9" />
<text x="45.9" y="384.3" font-size="8.6" text-anchor="middle" fill="#333">−10</text>
<line x1="86.3" y1="369.3" x2="86.3" y2="372.7" stroke="#111" stroke-width="0.9" />
<text x="86.3" y="384.3" font-size="8.6" text-anchor="middle" fill="#333">−5</text>
<line x1="126.7" y1="369.3" x2="126.7" y2="372.7" stroke="#111" stroke-width="0.9" />
<text x="126.7" y="384.3" font-size="8.6" text-anchor="middle" fill="#333">0</text>
<line x1="167.1" y1="369.3" x2="167.1" y2="372.7" stroke="#111" stroke-width="0.9" />
<text x="167.1" y="384.3" font-size="8.6" text-anchor="middle" fill="#333">5</text>
<line x1="207.3" y1="369.3" x2="207.3" y2="372.7" stroke="#111" stroke-width="0.9" />
<text x="207.3" y="384.3" font-size="8.6" text-anchor="middle" fill="#333">10</text>
<text x="116.3" y="398.7" font-size="11" fill="#111" textLength="42.7" lengthAdjust="spacingAndGlyphs" stroke="#111" stroke-width="0.32">Component 1</text>
<text x="22.3" y="331.1" font-size="11" fill="#111" textLength="43.6" lengthAdjust="spacingAndGlyphs" transform="rotate(-90 22.3 331.1)" stroke="#111" stroke-width="0.32">Component 2</text>
<text x="259.2" y="229.1" font-size="13.2" font-weight="bold" fill="#000" textLength="9.9" lengthAdjust="spacingAndGlyphs" stroke="#000" stroke-width="0.45">D</text>
<circle cx="353.5" cy="239.5" r="1.2" fill="#e0605a"/>
<text x="358.2" y="242.2" font-size="7.1" fill="#111" textLength="31.3" lengthAdjust="spacingAndGlyphs">GATA2+/-</text>
<circle cx="403.1" cy="239.5" r="1.2" fill="#30aab8"/>
<text x="408" y="242.2" font-size="7.1" fill="#111" textLength="11.2" lengthAdjust="spacingAndGlyphs">WT</text>
<path d="M329.78 291.68h.01M324.01 295.07h.01M375.15 269.64h.01M371.72 271h.01M369.71 272.1h.01M373.93 269.77h.01M306.01 312.58h.01M333.38 288.19h.01M313.25 306.84h.01M320.69 298.29h.01M343.38 279.7h.01M361.49 270.75h.01M305.12 314.98h.01M372.03 270.12h.01M352.72 276.15h.01M337.54 283.84h.01M375.82 268.99h.01M363.41 271.98h.01M361.66 271.23h.01M367.97 271.53h.01M322.99 298.54h.01M343.44 279.47h.01M370.06 270.15h.01M342.44 281.12h.01M350.74 275.28h.01M309.25 311.46h.01M350.32 277.03h.01M306.58 314.57h.01M337.02 285.93h.01M326.72 295.49h.01M306.9 314.38h.01M323.89 297.87h.01M330.23 291.46h.01M325.54 292.56h.01M303.17 314.2h.01M354.32 275.93h.01M316.8 304.1h.01M339.94 283.44h.01M356.76 271.84h.01M359.56 275.46h.01M366.17 272.52h.01M326.82 294.01h.01M326.86 291.58h.01M338.48 284.91h.01M316.23 302.09h.01M339.03 282.98h.01M365.04 273.29h.01M334.04 287.68h.01M314.09 305.67h.01M331.64 287.73h.01M312.02 309.11h.01M345.69 280.03h.01M323.44 297.42h.01M329.83 289.24h.01M315.07 304.56h.01M378.13 271.71h.01M348.87 275.17h.01M333.85 284.95h.01M303.86 316.67h.01M356.93 274.23h.01M365.66 271.56h.01M332.88 288.34h.01M337.69 284.53h.01M321.73 298.94h.01M314.47 308.52h.01M357.1 274.77h.01M338.93 283.59h.01M340.72 282.6h.01M309 313.32h.01M305.69 313.17h.01M318.04 301.83h.01M325.71 294.76h.01M355 274.94h.01M315.96 303.36h.01M343.78 279.37h.01M366.64 270.81h.01M378.2 271.05h.01M374.35 270.61h.01M348.55 279.05h.01M307.3 313.71h.01M319.01 300.38h.01M346.98 276.65h.01M321.49 302.15h.01M372.62 270.15h.01M367.53 273.22h.01M312.57 309.75h.01M340.75 281.86h.01M336.76 282.76h.01M331.79 288.88h.01M334.66 283.6h.01M341.14 283.95h.01M305.82 316.1h.01M379.02 268.89h.01M376.47 269.55h.01M321.24 298.74h.01M359.38 273.5h.01M305.66 312.86h.01M317.53 304.31h.01M364.18 272.21h.01M320.55 298.99h.01M330.38 290.31h.01M343.87 280.97h.01M327.87 294.77h.01M373.38 273.07h.01M345.26 276.37h.01M373.09 269.06h.01M303.53 316.79h.01M318.65 299.28h.01M305.34 315.4h.01M316.7 304.21h.01M363.11 270.68h.01M322.06 294.71h.01M319.38 300.55h.01M332.1 287.95h.01M369.54 269.61h.01M333.78 283.99h.01M315.12 303.91h.01M360.66 273.94h.01M315.4 305.12h.01M338.54 284.95h.01" stroke="#30aab8" stroke-width="1" stroke-linecap="round" fill="none" stroke-opacity="0.8"/>
<path d="M314.41 304.7h.01M341.5 281.07h.01M307.47 312.33h.01M355.35 274.78h.01M358.18 274.81h.01M326.86 292.57h.01M315.33 304.27h.01M319.28 301.65h.01M316.86 301.18h.01M361.2 273.57h.01M353.94 273.56h.01M331.29 287.43h.01M356.6 273.84h.01M341.55 282.22h.01M312.2 306.42h.01M325.84 292.4h.01M329.54 292.26h.01M315.36 303.55h.01M348.23 277.38h.01M306.88 312.78h.01M327.79 291.87h.01M343.83 279.86h.01M379.52 267.77h.01M319.28 302.7h.01M351.68 276.5h.01M322.12 299.4h.01M305.84 313.38h.01M352.38 275.53h.01M361.76 273.74h.01M312.4 306.71h.01M307.84 312.36h.01M339.55 281.14h.01M323.78 296.18h.01M359.09 274.77h.01M339 282.38h.01M328.94 288.74h.01M315.06 306.15h.01M311.74 308.55h.01M369.2 269.45h.01M302.2 315.77h.01M361.54 272.31h.01M332.08 287.25h.01M338.57 282.02h.01M309.15 309.56h.01M358.22 272.58h.01M364.57 270.63h.01M337.49 281.28h.01M379.7 268.34h.01M326.86 292.81h.01M376.93 270.36h.01M328.4 291.28h.01M312.69 306.96h.01M315.74 301.36h.01M356.04 274.74h.01M303.66 315.73h.01M358.59 274.89h.01M349.54 276.39h.01M335.7 283.78h.01M324.87 295.49h.01M314.66 302.09h.01M324.57 294.77h.01M303.29 315.68h.01M362.69 273.24h.01M362.95 270.14h.01M368.7 269.83h.01M365.99 271.04h.01M325.01 296.02h.01M329.88 287.6h.01M373.59 269.4h.01M335.11 285.08h.01M360.68 272.9h.01M354.48 273.52h.01M323.84 292.89h.01M335.65 286.95h.01M372.08 269.08h.01M324.04 297.32h.01M340.58 281.43h.01M344.57 278.63h.01M325.18 293.77h.01M339.01 281.05h.01M342.94 280.8h.01M331.47 286.75h.01M377.9 271.13h.01M323.44 296.6h.01M341.63 278.97h.01M310.33 309.32h.01M302.83 315.6h.01M305.97 312.85h.01M346.68 277.69h.01M305.85 312.79h.01" stroke="#e0605a" stroke-width="1" stroke-linecap="round" fill="none" stroke-opacity="0.8"/>
<path d="M346.93 276.82h.01M348.09 277.93h.01M347.16 277.11h.01M347.31 277.67h.01M346.82 277.04h.01M344.29 280.88h.01M344.15 278.79h.01M343.21 278.52h.01M344.07 279.98h.01M344.59 279.72h.01M330.23 291.05h.01M328.65 288.96h.01M330.33 289.82h.01M329.58 290.08h.01M328.54 287.71h.01M336.38 283.55h.01M337.56 285.27h.01M337.06 283.99h.01M336.03 282.72h.01M338.01 284.71h.01M364.28 271.19h.01M363.94 272.21h.01M363.93 270.75h.01M364.3 272.03h.01M364.09 270.69h.01M377.7 267.95h.01M377.6 270.83h.01M377.38 269.75h.01M377.46 268.23h.01M377.05 270.28h.01M323.05 297.28h.01M322.73 298.2h.01M321.69 296.54h.01M321.56 296.1h.01M322.29 296.99h.01M372.03 270.26h.01M372.57 269.45h.01M372.59 269.73h.01M372.87 271.18h.01M372.16 268.9h.01M369.54 271.05h.01M368.28 269.04h.01M370.37 270.95h.01M369.39 271.57h.01M369.31 270.89h.01M335.48 283.48h.01M336.23 285.27h.01M335.51 284.34h.01M335.5 283.86h.01M335.1 283.52h.01" stroke="#30aab8" stroke-width="1" stroke-linecap="round" fill="none" stroke-opacity="0.8"/>
<path d="M314.01 305.35h.01M313.48 304.02h.01M314.61 304.92h.01M313.59 304.94h.01M313.88 304.23h.01M310.82 306.32h.01M310.75 307.73h.01M311.57 308.6h.01M311.71 308.45h.01M311.73 308.25h.01M335.29 285.53h.01M336.06 286.47h.01M334.86 283.86h.01M335.6 285.62h.01M335.43 285.91h.01M349.52 278.2h.01M349.12 276.86h.01M349.62 277.19h.01M349.24 277.91h.01M348.41 276.84h.01M366.08 271.58h.01M366.23 272h.01M366.2 271.3h.01M365.83 271.16h.01M366.04 269.9h.01M342.3 278.5h.01M342.63 278.93h.01M344.29 280.29h.01M343.25 279.34h.01M344.01 280.11h.01M331.43 288.57h.01M331.84 288.66h.01M331.36 287.4h.01M330.71 287.88h.01M330.26 287.12h.01M351.91 275.41h.01M352.03 275.68h.01M351.86 275.45h.01M352.49 276.81h.01M353.53 276.18h.01" stroke="#e0605a" stroke-width="1" stroke-linecap="round" fill="none" stroke-opacity="0.8"/>
<path d="M308.96 314.53h.01M307.22 312.27h.01M307.14 314.03h.01M309.4 313.75h.01M306.17 318.46h.01M309.25 315.73h.01M304.8 317.43h.01M303.76 314.28h.01M306.38 312.99h.01M306.3 315.73h.01M309.42 313.27h.01M305.92 317.78h.01M305.38 316.71h.01M308.44 317.05h.01M308.63 315.26h.01M306.18 313.08h.01M307.24 315.87h.01M306.9 314.61h.01M306.81 315.18h.01M310 318.26h.01M304.57 317.01h.01M307.86 312.3h.01M308.66 315.56h.01M309.87 313.72h.01M309.09 313.04h.01M306.58 316.36h.01M307.47 317.68h.01M308.24 315.54h.01M306.06 316.91h.01M305.18 316.65h.01" stroke="#30aab8" stroke-width="1" stroke-linecap="round" fill="none" stroke-opacity="0.8"/>
<path d="M302.43 316.22h.01M306.94 310.36h.01M311.15 314.2h.01M306.44 314.95h.01M308.78 311.93h.01M307.3 316.44h.01M306.45 312.9h.01M308.13 314.96h.01M307.19 314.71h.01M306.14 316.73h.01M308.1 314.37h.01M304.44 315.26h.01M311.32 315.36h.01M303.86 315.92h.01M308.54 314.87h.01M304.73 311.81h.01M309.88 312.89h.01M307.4 311.86h.01M304.61 317.02h.01M307.21 314.45h.01" stroke="#e0605a" stroke-width="1" stroke-linecap="round" fill="none" stroke-opacity="0.8"/>
<path d="M380.62 268.53h.01M381.22 267.9h.01M380.47 268.11h.01M379.15 266.97h.01M381.62 268.49h.01" stroke="#30aab8" stroke-width="1" stroke-linecap="round" fill="none" stroke-opacity="0.8"/>
<path d="M379.97 267.88h.01M382.05 267.23h.01M381.46 267.52h.01" stroke="#e0605a" stroke-width="1" stroke-linecap="round" fill="none" stroke-opacity="0.8"/>
<path d="M388.93 265.5h.01M389.03 264.23h.01M391.31 264.36h.01M389.37 263.51h.01M389.22 264.04h.01" stroke="#30aab8" stroke-width="1" stroke-linecap="round" fill="none" stroke-opacity="0.8"/>
<path d="M390.55 263.18h.01M387.41 263.71h.01M390.15 262.08h.01" stroke="#e0605a" stroke-width="1" stroke-linecap="round" fill="none" stroke-opacity="0.8"/>
<path d="M397.81 263.73h.01M398.12 264.26h.01M397.69 262.86h.01M398.53 263.22h.01M396.55 261.84h.01" stroke="#30aab8" stroke-width="1" stroke-linecap="round" fill="none" stroke-opacity="0.8"/>
<path d="M399.21 261.98h.01M397.94 263h.01M399.32 262.53h.01" stroke="#e0605a" stroke-width="1" stroke-linecap="round" fill="none" stroke-opacity="0.8"/>
<path d="M406.28 262.09h.01M406.82 262.65h.01M408.92 262.49h.01M407.85 261.45h.01M405.3 261.59h.01" stroke="#30aab8" stroke-width="1" stroke-linecap="round" fill="none" stroke-opacity="0.8"/>
<path d="M406.75 261.73h.01M407.23 262.16h.01M406.13 261.62h.01" stroke="#e0605a" stroke-width="1" stroke-linecap="round" fill="none" stroke-opacity="0.8"/>
<path d="M414.98 263.83h.01M412.42 262.04h.01M415.24 261.63h.01M414.72 262.98h.01M413.29 262.68h.01" stroke="#30aab8" stroke-width="1" stroke-linecap="round" fill="none" stroke-opacity="0.8"/>
<path d="M415.15 264.81h.01M414.92 262.82h.01M415.55 262.58h.01" stroke="#e0605a" stroke-width="1" stroke-linecap="round" fill="none" stroke-opacity="0.8"/>
<path d="M418.31 256.5h.01M417.51 254.91h.01M416.66 262.03h.01M417.76 260.25h.01M417.98 258.7h.01M417.19 261.02h.01M416.09 255.47h.01M418.08 255.76h.01M416.44 260.78h.01M416.01 259.53h.01M417.69 255.39h.01M416.05 255.6h.01M416.55 260.63h.01M416.84 257.23h.01M417.48 258.42h.01M417.21 262.04h.01M417.4 257.62h.01M417.99 257.39h.01M417.74 260.69h.01M416.97 261.86h.01M415.66 255.73h.01M418.27 256.62h.01M416.1 255.31h.01M417.92 255.68h.01M415.05 258.61h.01M417.58 258.05h.01M417.14 261.7h.01M415.68 257.73h.01M415.98 258.52h.01M415.6 260.1h.01M416.83 254.97h.01M417.46 259.66h.01M415.23 258.9h.01M416.55 262.06h.01" stroke="#30aab8" stroke-width="1" stroke-linecap="round" fill="none" stroke-opacity="0.8"/>
<path d="M416.93 255.37h.01M417.27 253.93h.01M417.52 253.5h.01M418.02 254.68h.01M416.18 254.36h.01M415.92 255.3h.01M415.1 254.75h.01M415.51 255.49h.01M416.39 255.83h.01M417.57 255.51h.01M416.77 253.05h.01M418.27 254.94h.01M417.8 255.8h.01M416.24 255.89h.01M417.71 255.87h.01M415.98 254.32h.01" stroke="#e0605a" stroke-width="1" stroke-linecap="round" fill="none" stroke-opacity="0.8"/>
<path d="M421.57 271.64h.01M422.3 270.95h.01M422.11 271.64h.01M422.59 270.5h.01M422.38 271.27h.01M424.1 272.34h.01M423.7 272.36h.01M422.13 272.78h.01M422.65 272.52h.01M424.04 271.78h.01M424.98 275.08h.01M424.49 275.21h.01M426.19 274.3h.01M424.4 275.81h.01M425.26 274.26h.01M426.63 278.5h.01M428.61 276.94h.01M428.1 277.7h.01M427.81 278.14h.01M427.47 277.99h.01M430.2 280.65h.01M428.86 281.22h.01M427.99 281.52h.01M430.15 280.82h.01M428.58 281.41h.01M431.57 282.56h.01M430.74 282.99h.01M430.91 282.84h.01M431.12 282.99h.01M431.84 282.45h.01M433.28 285.49h.01M432.98 285.12h.01M433.33 285.37h.01M432.26 285.96h.01M431.47 286.07h.01M434.16 287.34h.01M434.69 287.53h.01M434.44 287.31h.01M434.03 287.08h.01M432.61 288.54h.01M434.43 289.55h.01M435.03 289.68h.01M434.52 290.56h.01M436.13 288.95h.01M435.21 289.16h.01M438.31 293.08h.01M438.83 292.26h.01M438.53 292.73h.01M437.1 292.82h.01M437.06 292.93h.01M438.16 296.42h.01M439.44 296h.01M438.17 296.09h.01M439.44 295.75h.01M438.51 296.25h.01M440.57 297.12h.01M439.49 297.48h.01M441.07 296.71h.01M439.67 297.73h.01M440.05 297.36h.01M443.06 298.43h.01M442.6 299.18h.01M441.14 299.58h.01M442.14 298.96h.01M442.65 298.73h.01M442.72 301.5h.01M442.92 302.09h.01M442.61 302.48h.01M443.78 302.36h.01M443.32 302.09h.01M445.94 305.64h.01M445.91 305.21h.01M446.56 305.24h.01M444.85 306.35h.01M444.9 306.26h.01M447.73 307.74h.01M445.53 308.51h.01M446.16 308.35h.01M446.96 308.33h.01M445.37 309.28h.01M446.77 311.43h.01M448.32 309.96h.01M447.76 310.55h.01M447.78 310.63h.01M447.05 311.17h.01M448.03 313.1h.01M449.22 312.21h.01M449.78 312.02h.01M447.96 312.56h.01M448.33 312.28h.01M450.88 315.97h.01M451.08 316.16h.01M450 316.96h.01M450.76 315.77h.01M451.3 316.24h.01M452.6 319.33h.01M451.25 319.28h.01M452.2 318.82h.01M453.27 319.12h.01M452.56 319.09h.01" stroke="#30aab8" stroke-width="1" stroke-linecap="round" fill="none" stroke-opacity="0.8"/>
<path d="M433.99 283.65h.01M432.74 284.58h.01M433.16 284.51h.01M436.87 290.26h.01M436.21 291.28h.01M436.85 290.56h.01M429.39 277.04h.01M428.72 277.77h.01M429.33 277.52h.01M444.61 301.33h.01M445 301.57h.01M444.48 301.62h.01M451.33 312.77h.01M451.28 313.31h.01M449.83 314.09h.01M443.69 303.6h.01M444.65 303.42h.01M444.78 303.93h.01" stroke="#e0605a" stroke-width="1" stroke-linecap="round" fill="none" stroke-opacity="0.8"/>
<path d="M435.12 291.36h.01M449.75 316.45h.01M432.55 289.3h.01M418.94 266.82h.01M451.61 317.94h.01M437.82 289.29h.01M441.27 302.88h.01M450.65 311.12h.01M424.57 269.09h.01M423.94 281.51h.01M444.69 309.46h.01M444.13 308.97h.01M447.07 311.94h.01M418.01 270.31h.01M445.71 305.48h.01" stroke="#30aab8" stroke-width="1" stroke-linecap="round" fill="none" stroke-opacity="0.8"/>
<path d="M453.64 328.79h.01M454.45 330.68h.01M456.4 334.18h.01M455.13 336.96h.01M466.54 351.22h.01M459.26 340.72h.01M469.49 363.37h.01M469.57 364.7h.01M468.24 359.36h.01M460.23 340.85h.01M461.89 342.25h.01M464.29 350.64h.01M467.17 358.53h.01M468.18 358.98h.01M462.02 343.27h.01M469.45 358.32h.01M465.08 356.91h.01M457.88 333.75h.01M459.93 341.31h.01M454.61 330.81h.01M457.18 336.71h.01M461.12 340.91h.01M467.5 360.34h.01M469.96 361.45h.01M463.73 343.66h.01M459.35 334.33h.01M465.99 358.6h.01M455.25 326.21h.01M466.63 355.16h.01M454.15 324.69h.01M458.75 331.21h.01M459.44 338.41h.01M455.67 334.27h.01M463.74 347.2h.01M457.51 336.87h.01M460.33 343.23h.01M456.9 331.01h.01M462.7 342.14h.01M466.78 354.24h.01M465.47 356.79h.01M469.62 363.56h.01M461.47 343.92h.01M453.42 324.63h.01M458.74 345.33h.01M460.08 340.96h.01M467.61 361.72h.01M460.92 344.72h.01M463.48 349.85h.01M458.41 340.17h.01M457.06 336.36h.01M462.51 349.83h.01M465.96 350.61h.01M461.25 344.65h.01M455.82 332.88h.01M465.13 353.05h.01M461.17 339.95h.01M465.98 347.99h.01M455.52 330.55h.01M461.41 346.13h.01M452.17 326.24h.01M462.22 349.19h.01M454.92 327.71h.01M459.63 344.18h.01M458.67 334.9h.01M455.96 330.93h.01M458.46 339.39h.01M458.76 336.11h.01M453.93 323.78h.01M469.03 358.96h.01M455.09 329.17h.01" stroke="#30aab8" stroke-width="1" stroke-linecap="round" fill="none" stroke-opacity="0.8"/>
<path d="M455.75 329.51h.01M457.44 331.6h.01M452.87 322.09h.01M456.97 329.07h.01M453.09 331.22h.01M453.9 325.36h.01M453.95 331.09h.01M453.65 329.02h.01M451.88 321.72h.01M456.44 325.57h.01M452.46 323.28h.01M457.27 331.99h.01M455.82 333.55h.01M450.84 321.75h.01M452.84 330.16h.01M458.37 331.73h.01M457.49 332.42h.01M451.58 324.89h.01M453.98 325.48h.01M456.64 330.65h.01M451.7 327.18h.01M456.13 330.32h.01M456.42 330.6h.01M453.39 330.48h.01M453.98 323.18h.01M456.9 329.58h.01M452.44 323.19h.01M457.63 331.02h.01M452.88 321.63h.01M451.95 321.96h.01M454.57 326.15h.01M453.05 326.07h.01M453.6 324.4h.01M455.28 327.34h.01M455.36 331.83h.01M456.07 328.28h.01M453.07 327.86h.01M451.37 322.69h.01M453.24 325.56h.01M458.16 328.57h.01" stroke="#30aab8" stroke-width="1" stroke-linecap="round" fill="none" stroke-opacity="0.8"/>
<path d="M458.76 333.7h.01M457.22 331.7h.01M452.51 323.04h.01M455.21 328.73h.01M454.69 326.33h.01M459.06 338.92h.01M455.57 330.98h.01M456.33 324.33h.01M457.91 338.94h.01M453.04 321.99h.01" stroke="#e0605a" stroke-width="1" stroke-linecap="round" fill="none" stroke-opacity="0.8"/>
<path d="M381.85 285.61h.01M380.84 289.51h.01M380.94 285.32h.01M379.68 285.04h.01M379.92 291.1h.01M385.15 289.14h.01M385.56 292.16h.01M385.17 289.32h.01M378.63 283.06h.01M381.35 294.43h.01M384.07 292.9h.01M383.35 285.24h.01M378.42 286.65h.01M380.15 289.31h.01M380.83 287.61h.01M380.51 283.92h.01M380.24 291.33h.01M384.97 288.43h.01M380.37 291.15h.01M379.69 284.98h.01M380.23 287.5h.01M384.13 286.08h.01M383.78 282.23h.01M384.56 286h.01M384.51 292.58h.01M378.89 286.2h.01M384.35 291.58h.01M381.36 283.85h.01M379.35 286.88h.01M381.94 291.14h.01M384.95 291.68h.01M382.45 289.4h.01M382.9 282.72h.01M378.35 289.61h.01M381.44 294.12h.01M379.86 286.87h.01M380.01 291.16h.01M381.09 291.53h.01M383.91 292.77h.01M379.32 292.09h.01M381.61 294.42h.01M385.33 290.51h.01M379.36 286.86h.01M380.95 294.34h.01M379.38 287.8h.01" stroke="#e0605a" stroke-width="1" stroke-linecap="round" fill="none" stroke-opacity="0.8"/>
<path d="M385.69 296.04h.01M384.33 288.4h.01M386.93 298.01h.01M389.86 299.34h.01M388.3 297.97h.01M385.9 298.58h.01M386.52 292.32h.01M385.14 294.29h.01M383.69 296.85h.01M391.27 300.83h.01M384.26 291.68h.01M384.13 295.48h.01M384.87 299.31h.01M385 290.03h.01M390.26 299.39h.01M389.88 301.94h.01M386.54 294.31h.01M389.93 295.4h.01M384.44 297.44h.01M386.38 299.96h.01M390.72 300.48h.01M386.47 287.78h.01M384.69 298.66h.01M388.64 297.77h.01M382.77 290.68h.01M385.01 295.43h.01M389.73 303.43h.01M385.16 298.73h.01M391.38 301.62h.01M386.62 303.24h.01M387.43 296.59h.01M387.76 290.17h.01M385.92 295.56h.01M389.87 296.54h.01M382.79 290.01h.01M386.67 293.81h.01M387.94 302.97h.01M388.04 291.14h.01M386.3 288.7h.01M389.29 299.56h.01M385.7 295.34h.01M386.31 292.96h.01M388.26 294.69h.01M385.19 295.22h.01M385.2 291.29h.01M384.77 293.07h.01M384.76 293.24h.01M384.95 299.35h.01M388.54 292.2h.01M384.84 299.15h.01" stroke="#30aab8" stroke-width="1" stroke-linecap="round" fill="none" stroke-opacity="0.8"/>
<path d="M304.5 317.5 L305.56 316.43 L307.02 314.95 L308.75 313.2 L310.61 311.31 L312.48 309.44 L314.2 307.7 L315.8 306.09 L317.4 304.49 L319 302.89 L320.6 301.29 L322.2 299.7 L323.8 298.1 L325.39 296.48 L326.96 294.83 L328.53 293.18 L330.13 291.56 L331.78 289.99 L333.5 288.5 L335.31 287.07 L337.2 285.69 L339.14 284.35 L341.1 283.08 L343.06 281.89 L345 280.8 L346.92 279.82 L348.83 278.94 L350.74 278.15 L352.66 277.41 L354.58 276.7 L356.5 276 L358.43 275.29 L360.38 274.59 L362.32 273.92 L364.27 273.3 L366.19 272.75 L368.1 272.3 L370.11 271.95 L372.25 271.7 L374.38 271.52 L376.34 271.39 L378 271.29 L379.2 271.2" fill="none" stroke="#3a3a3a" stroke-width="0.9" stroke-linejoin="round" stroke-linecap="round" />
<path d="M379.2 271.2 L380.55 270.65 L382.42 269.86 L384.63 268.93 L387 267.99 L389.35 267.14 L391.5 266.5 L393.52 266.07 L395.56 265.76 L397.58 265.54 L399.53 265.39 L401.35 265.28 L403 265.2 L404.43 265.15 L405.69 265.16 L406.81 265.22 L407.87 265.3 L408.91 265.4 L410 265.5 L411.19 265.61 L412.44 265.76 L413.69 265.92 L414.83 266.07 L415.8 266.21 L416.5 266.3" fill="none" stroke="#3a3a3a" stroke-width="0.9" stroke-linejoin="round" stroke-linecap="round" />
<path d="M416.5 266.3 L416.92 266.85 L417.5 267.59 L418.19 268.48 L418.94 269.46 L419.73 270.48 L420.5 271.5 L421.25 272.5 L422.02 273.51 L422.82 274.57 L423.66 275.7 L424.55 276.93 L425.5 278.3 L426.56 279.87 L427.72 281.63 L428.93 283.49 L430.15 285.36 L431.32 287.16 L432.4 288.8 L433.38 290.25 L434.29 291.57 L435.16 292.81 L436 294.03 L436.84 295.28 L437.7 296.6 L438.57 297.99 L439.44 299.4 L440.31 300.84 L441.17 302.3 L442.03 303.79 L442.9 305.3 L443.8 306.89 L444.73 308.58 L445.66 310.29 L446.55 311.96 L447.38 313.52 L448.1 314.9 L448.73 316.13 L449.29 317.27 L449.78 318.3 L450.19 319.2 L450.54 319.94 L450.8 320.5" fill="none" stroke="#3a3a3a" stroke-width="0.9" stroke-linejoin="round" stroke-linecap="round" />
<path d="M379.2 271.2 L382.4 285.5" fill="none" stroke="#3a3a3a" stroke-width="0.9" stroke-linejoin="round" stroke-linecap="round" />
<line x1="292.9" y1="249.2" x2="292.9" y2="370.9" stroke="#000" stroke-width="1.4" />
<line x1="289.5" y1="255" x2="292.9" y2="255" stroke="#111" stroke-width="0.9" />
<text x="286.2" y="258.1" font-size="8.6" text-anchor="end" fill="#333">3</text>
<line x1="289.5" y1="285.6" x2="292.9" y2="285.6" stroke="#111" stroke-width="0.9" />
<text x="286.2" y="288.7" font-size="8.6" text-anchor="end" fill="#333">0</text>
<line x1="289.5" y1="316.2" x2="292.9" y2="316.2" stroke="#111" stroke-width="0.9" />
<text x="286.2" y="319.3" font-size="8.6" text-anchor="end" fill="#333">−3</text>
<line x1="289.5" y1="346.8" x2="292.9" y2="346.8" stroke="#111" stroke-width="0.9" />
<text x="286.2" y="349.9" font-size="8.6" text-anchor="end" fill="#333">−6</text>
<line x1="292.3" y1="370.2" x2="478.8" y2="370.2" stroke="#000" stroke-width="1.4" />
<line x1="294.1" y1="370.2" x2="294.1" y2="373.6" stroke="#111" stroke-width="0.9" />
<text x="294.1" y="383.8" font-size="8.6" text-anchor="middle" fill="#333">−10</text>
<line x1="334.5" y1="370.2" x2="334.5" y2="373.6" stroke="#111" stroke-width="0.9" />
<text x="334.5" y="383.8" font-size="8.6" text-anchor="middle" fill="#333">−5</text>
<line x1="374.9" y1="370.2" x2="374.9" y2="373.6" stroke="#111" stroke-width="0.9" />
<text x="374.9" y="383.8" font-size="8.6" text-anchor="middle" fill="#333">0</text>
<line x1="415.3" y1="370.2" x2="415.3" y2="373.6" stroke="#111" stroke-width="0.9" />
<text x="415.3" y="383.8" font-size="8.6" text-anchor="middle" fill="#333">5</text>
<line x1="455.6" y1="370.2" x2="455.6" y2="373.6" stroke="#111" stroke-width="0.9" />
<text x="455.6" y="383.8" font-size="8.6" text-anchor="middle" fill="#333">10</text>
<text x="364" y="397.8" font-size="11" fill="#111" textLength="43.2" lengthAdjust="spacingAndGlyphs" stroke="#111" stroke-width="0.32">Component 1</text>
<text x="270.1" y="328" font-size="11" fill="#111" textLength="44" lengthAdjust="spacingAndGlyphs" transform="rotate(-90 270.1 328)" stroke="#111" stroke-width="0.32">Component 2</text>
<text x="9.5" y="422.6" font-size="13.2" font-weight="bold" fill="#000" textLength="8.9" lengthAdjust="spacingAndGlyphs" stroke="#000" stroke-width="0.45">E</text>
<circle cx="43.7" cy="430.3" r="1.2" fill="#e0605a"/>
<text x="48.1" y="432.85" font-size="7.1">DC−Prog</text>
<circle cx="43.7" cy="438.5" r="1.2" fill="#c09410"/>
<text x="48.1" y="441.05" font-size="7.1">Eo−Prog</text>
<circle cx="85.4" cy="430.3" r="1.2" fill="#50a820"/>
<text x="89.8" y="432.85" font-size="7.1">HSPC</text>
<circle cx="85.4" cy="438.5" r="1.2" fill="#20a880"/>
<text x="89.8" y="441.05" font-size="7.1">Lymph−Prog</text>
<circle cx="137.4" cy="430.3" r="1.2" fill="#30a8e0"/>
<text x="141" y="432.85" font-size="7.1">Mk−Er−Prog</text>
<circle cx="137.4" cy="438.5" r="1.2" fill="#8a7ed8"/>
<text x="141" y="441.05" font-size="7.1">MPP</text>
<circle cx="191.3" cy="430.3" r="1.2" fill="#d050c0"/>
<text x="195.2" y="432.85" font-size="7.1">Neu−Prog</text>
<path d="M54.07 463.12h.01M56.19 464.48h.01M56 462.56h.01M51.68 462.14h.01M52.16 462.93h.01M55.4 463.91h.01M54.29 460.48h.01M54.59 463.08h.01M52.82 466.08h.01M54.31 460.29h.01M52.05 461.3h.01M52.57 461.63h.01M59.64 471.44h.01M51.16 462.36h.01M53.36 467.03h.01M56.68 465.08h.01M54.63 468.32h.01M56.53 469.05h.01M51.24 458.81h.01M54.93 461.52h.01M60.04 474.78h.01M56.31 468.65h.01M57.96 467.38h.01M59.11 468.02h.01M55.61 470.45h.01M51.3 463.08h.01M53.5 462.44h.01M56.86 470.77h.01M55.24 466.95h.01M54.33 466.21h.01M53.76 459.67h.01M51.83 461.94h.01M58.55 467.71h.01M57.46 471.14h.01M56.51 470.24h.01M52.53 461.31h.01M59.18 471.24h.01M51.64 460.32h.01M57.82 472.82h.01M58 468.74h.01M53.31 466.15h.01M57.71 467.29h.01M58.47 469.12h.01M59.55 469.89h.01M56.26 464.91h.01M59.36 469.38h.01M56.31 469.03h.01M53.48 465.82h.01M58.21 472.63h.01M54.09 463.54h.01M56.07 466.64h.01M54.72 463.4h.01M52.37 464.74h.01M52.57 459.88h.01M58.54 466.85h.01M57.64 473.05h.01M55.07 461.81h.01M53.1 458.97h.01M56.06 470.51h.01M52.96 462.96h.01M56.53 462.94h.01M54.27 462.59h.01M54.12 466.22h.01M52.97 466.14h.01M58.78 474.87h.01" stroke="#20a880" stroke-width="1" stroke-linecap="round" fill="none" stroke-opacity="0.75"/>
<path d="M57 455.5h.01M62 462h.01M53 456h.01" stroke="#20a880" stroke-width="1" stroke-linecap="round" fill="none" stroke-opacity="0.75"/>
<path d="M63.69 486.78h.01M63.79 487.21h.01M64.33 486.68h.01M63.81 487.06h.01M63.95 486.72h.01M63.17 486.82h.01M75.21 503.8h.01M75.65 504.79h.01M74.88 504.31h.01M74.7 504.56h.01M74.1 505.06h.01M76.64 502.93h.01M61.76 484.1h.01M61.69 484h.01M64.38 483h.01M61.82 484.12h.01M63.11 483.57h.01M61.65 484.99h.01M64.88 489.36h.01M64.75 489.27h.01M64.6 488.88h.01M64.22 490.02h.01M65.51 489.42h.01M67.33 487.87h.01M77.37 510.29h.01M77.75 510.76h.01M79.91 509.05h.01M78.4 509.59h.01M80.63 508.59h.01M79.71 509.44h.01M56.01 472.3h.01M56.47 472.7h.01M57.51 472.36h.01M57.05 471.46h.01M57.07 472.08h.01M58.69 471.6h.01M70.18 494.68h.01M67.99 494.52h.01M68.57 495.28h.01M67.51 494.67h.01M67.36 495h.01M69.08 494.16h.01M72.51 501.27h.01M73.11 501.09h.01M74.33 500.65h.01M72.02 501.32h.01M74.51 499.93h.01M72.61 501.79h.01M72.65 502.51h.01M72.86 502h.01M73.77 501.35h.01M73.98 500.34h.01M72.41 502.15h.01M73.94 501.19h.01M79.69 512.37h.01M79.59 511.92h.01M81.4 510.56h.01M80.79 510.83h.01M79.44 512.6h.01M78.88 512.53h.01M85.61 519.47h.01M86.08 518.4h.01M86.55 518.47h.01M87.08 518.55h.01M86.83 518.45h.01M87.27 517.6h.01M75.01 505.29h.01M74.87 505.22h.01M75.31 505.48h.01M74.88 504.93h.01M75.25 504.96h.01M75.29 505.74h.01M69.83 496.21h.01M70.35 495.67h.01M70.27 494.93h.01M69.29 496.93h.01M70.26 495.02h.01M68.24 496.22h.01M70.92 497.51h.01M70.21 497.96h.01M71.05 497.41h.01M72.29 496.62h.01M69.59 497.75h.01M70.83 497.18h.01" stroke="#20a880" stroke-width="1" stroke-linecap="round" fill="none" stroke-opacity="0.75"/>
<path d="M83.63 516.3h.01M83.93 516.41h.01M85.37 515.78h.01M83.5 517.16h.01M83.66 517.18h.01M85.22 516.43h.01M77.93 506.32h.01M77.97 506.24h.01M76.69 507.6h.01M76.72 508.06h.01M77.27 507.52h.01M77.54 507.21h.01M82.08 513.99h.01M82.35 513.51h.01M81.96 513.26h.01M81.19 514.9h.01M81.49 513.7h.01M80.11 514.88h.01M97.87 533.14h.01M99.77 532h.01M96.73 533.69h.01M99.4 532.12h.01M97.7 533.55h.01M97.26 533.41h.01M131.28 547.24h.01M131.5 547.48h.01M131.19 548.74h.01M131 547.74h.01M131.13 546.98h.01M130.56 547.17h.01M90.82 525.29h.01M90.25 525.29h.01M90.65 525.39h.01M90.66 524.33h.01M91.39 524.25h.01M90.22 525.83h.01M85.67 519.18h.01M85.81 519.67h.01M85.24 518.97h.01M84.49 519.02h.01M86.26 518.1h.01M85.64 519.32h.01M98.08 535h.01M98.21 533.77h.01M99.06 532.38h.01M98.95 533.7h.01M98.36 534.13h.01M98.41 533.88h.01M110.01 541.26h.01M110.66 539.98h.01M110.4 540.27h.01M110.32 541.07h.01M110.13 541.73h.01M109.93 540.71h.01M137.28 546.69h.01M137.29 548.59h.01M136.55 547.64h.01M136.72 548.4h.01M137.03 549.48h.01M137.12 548.62h.01M111.74 541.72h.01M111.39 541.72h.01M111.82 541.34h.01M112.25 540.71h.01M110.64 541.97h.01M111.35 541.43h.01M76.29 506.42h.01M76.05 505.85h.01M74.94 506.29h.01M77.62 505.52h.01M74.96 506.51h.01M76.35 505.7h.01" stroke="#50a820" stroke-width="1" stroke-linecap="round" fill="none" stroke-opacity="0.75"/>
<path d="M65.08 484.9h.01M64.55 485.17h.01M63.3 485.6h.01M63.02 486.38h.01M63.73 484.94h.01M78.5 508.52h.01M79.27 508.09h.01M79.59 508h.01M78.95 508.46h.01M78.89 508.27h.01M78.7 507.08h.01M78.3 508.71h.01M77.82 507.86h.01M78.01 507.83h.01M79.14 508.41h.01M67.45 492.5h.01M68.49 491.73h.01M67.49 491.73h.01M66.42 492.38h.01M67.56 491.43h.01M86.51 516.38h.01M86.63 516.78h.01M84.3 517.94h.01M85.26 517.64h.01M85.22 518.15h.01M86.97 521.28h.01M87.93 519.99h.01M88.34 519.09h.01M87.45 520.62h.01M87.37 520.95h.01M66.99 491.11h.01M67.46 490.64h.01M67.5 490.19h.01M66.99 490.35h.01M68.17 490.13h.01M63.58 482.39h.01M62.39 483.26h.01M61.63 483.96h.01M63.45 482.86h.01M62.36 483.01h.01M63.58 483.12h.01M62.37 483.28h.01M61.42 483.71h.01M63.52 482.71h.01M64.29 482.68h.01M89.39 523.7h.01M91.18 523.09h.01M89.67 523.68h.01M88.81 524.17h.01M90.63 522.9h.01" stroke="#e0605a" stroke-width="1" stroke-linecap="round" fill="none" stroke-opacity="0.75"/>
<path d="M64.55 486.86h.01M58.27 474.89h.01M60.59 483.05h.01M60.95 476.35h.01M65.14 491.37h.01M61.41 481.9h.01M90.22 525.24h.01M89.54 520.35h.01M72.59 498.07h.01M93.7 530.35h.01M61.89 481.16h.01M71.17 496.33h.01M76.87 506.15h.01M74.75 503.25h.01M76.28 505.48h.01M95.62 528.27h.01M65.08 489.29h.01M59.49 479.65h.01M67.52 486.48h.01M82.57 511.61h.01M57.25 472.14h.01M87.8 526.52h.01M57.32 474.85h.01M59.68 478.44h.01M83.2 512.05h.01M62.43 484.12h.01M75.62 505.58h.01M73.71 501.13h.01M82.3 516.3h.01M61.2 481.35h.01M62.15 483.25h.01M78.19 504.29h.01M65.12 484.44h.01M61.32 479.56h.01M84.52 517.49h.01M76.11 504.05h.01M88.26 521.83h.01M86.28 517.87h.01M69.07 494.91h.01M60.29 478.7h.01" stroke="#20a880" stroke-width="1" stroke-linecap="round" fill="none" stroke-opacity="0.75"/>
<path d="M113.08 543.09h.01M112.37 538.27h.01M104.63 539.77h.01M124.99 547.54h.01M105.95 541.1h.01M107.09 539.14h.01M120.98 547.87h.01M103.99 538.79h.01M122.88 544.11h.01M92.98 527.64h.01" stroke="#8a7ed8" stroke-width="1" stroke-linecap="round" fill="none" stroke-opacity="0.75"/>
<path d="M129.8 550.83h.01M128.78 550.9h.01M129.81 549.66h.01M129.34 549.95h.01M128.9 550.58h.01M129.31 549.57h.01M126.88 548.76h.01M127.6 548.31h.01M127.57 548.52h.01M127.72 548.89h.01M127.42 549.07h.01M127.31 549.07h.01M123.81 548.39h.01M123.43 547.71h.01M123.17 547.07h.01M123.57 548.85h.01M122.74 549.2h.01M123.08 548.93h.01M122.78 548.22h.01M122.88 548.1h.01M121.93 548.66h.01M122.79 547.97h.01M123.05 547.07h.01M122.53 547.99h.01M118.6 546.39h.01M118.83 545.75h.01M118.2 548.05h.01M118.32 545.8h.01M119.32 545.38h.01M118.57 547.82h.01M137.34 551.27h.01M137.72 549.96h.01M137.04 550.86h.01M136.65 549.72h.01M137.09 550.62h.01M137.52 549.49h.01" stroke="#50a820" stroke-width="1" stroke-linecap="round" fill="none" stroke-opacity="0.75"/>
<path d="M156.09 541.68h.01M156.64 541.7h.01M155.33 541.23h.01M157.8 542.2h.01M156.68 541.34h.01M147.62 545.12h.01M148.62 547.79h.01M149.38 546.33h.01M147.37 544.53h.01M148.39 546.51h.01M154.61 540.67h.01M153.77 540.42h.01M156.01 542.15h.01M156.11 543.26h.01M155.34 542.96h.01M158.87 537.9h.01M159.47 538.78h.01M159.64 538.54h.01M158.72 537.26h.01M160.24 539.5h.01M155.17 539.67h.01M157.04 541.51h.01M155.86 540.65h.01M155.92 540.56h.01M156.51 541.51h.01M143.62 547.23h.01M145 549.92h.01M144.1 547.45h.01M144.12 548.08h.01M144.61 549.35h.01M155.42 541.14h.01M156.23 541.81h.01M156.24 542.64h.01M156.37 541.95h.01M156.56 541.6h.01M158.95 539.83h.01M159.3 539.56h.01M159.05 540.46h.01M157.95 538.43h.01M158.08 538.28h.01M145.87 548.76h.01M144.24 547.11h.01M145.33 548.24h.01M144.35 546.91h.01M144.91 547.16h.01M156.44 539.88h.01M157.29 540.32h.01M155.04 539.31h.01M156.98 540.92h.01M155.98 540.44h.01" stroke="#8a7ed8" stroke-width="1" stroke-linecap="round" fill="none" stroke-opacity="0.75"/>
<path d="M145.12 549.4h.01M147.37 547.67h.01M142.03 549.06h.01M147.15 546.99h.01M140.24 548.78h.01M140.89 549.54h.01M140.91 549.56h.01M144.18 549.33h.01" stroke="#50a820" stroke-width="1" stroke-linecap="round" fill="none" stroke-opacity="0.75"/>
<path d="M187.57 503.96h.01M185.72 499.95h.01M172.17 518.05h.01M184.27 507.42h.01M177.61 520.67h.01M176.05 512.92h.01M187.99 496.91h.01M183.39 501.5h.01M192.3 500.72h.01M173.37 518.24h.01M182.67 509.2h.01M188.32 503.93h.01M180.69 506.95h.01M190.54 498.2h.01M170.21 519.15h.01M179.37 510.62h.01M191 509.28h.01M165.59 518.41h.01M190.57 499.34h.01M187.15 503.82h.01M182.61 505.24h.01M174.65 518.25h.01M171.48 514.65h.01M185.52 503.67h.01M191.44 499.96h.01M172.68 522.47h.01M180.66 502.7h.01M188.13 497.38h.01M168.01 522.55h.01M191.03 499.56h.01M179.73 510.12h.01M181.88 507.46h.01M190.4 500.81h.01M187.75 506.8h.01M188.04 498.93h.01M187.02 495.78h.01M174.49 517.01h.01M182.89 503.44h.01M181.87 511.99h.01M179.48 513.97h.01" stroke="#c09410" stroke-width="1" stroke-linecap="round" fill="none" stroke-opacity="0.75"/>
<path d="M197.9 490.34h.01M192.76 490.63h.01M187.87 490.79h.01M188.89 498.79h.01M198.66 488.44h.01M188.84 496.26h.01M185.18 499.54h.01M185.79 499.92h.01M186.04 502.48h.01M192.9 488.57h.01M188.1 498.03h.01M187.89 495.17h.01M184.95 493.48h.01M189.48 491.79h.01M193.42 488.94h.01" stroke="#30a8e0" stroke-width="1" stroke-linecap="round" fill="none" stroke-opacity="0.75"/>
<path d="M206.22 470.91h.01M213.24 455.8h.01M205.84 479.04h.01M211.16 474.95h.01M205.01 473.77h.01M205.1 477.56h.01M208.62 484.23h.01M204.33 490.27h.01M210.2 478.39h.01M206.46 481.14h.01M214.12 461.44h.01M209.35 470.53h.01M217.43 456.39h.01M208.44 480.1h.01M209.76 468.39h.01M213.31 462.56h.01M212.63 469.37h.01M204 487.78h.01M208 466.3h.01M206.98 479.68h.01M215.62 464.28h.01M200.45 489.89h.01M205.08 479.48h.01M213.11 471.7h.01M202.23 484.82h.01M210.65 476.33h.01M203.57 486.49h.01M203.13 488.18h.01M210.99 466.26h.01M209.75 473.11h.01M206.71 470.26h.01M202.11 485.91h.01M207.38 469.13h.01M214.21 464.58h.01M212.04 459.48h.01M202.18 482.36h.01M210.95 467.15h.01M208.51 465.45h.01M202.45 480.21h.01M201.53 486.66h.01M205.85 477.61h.01M204.11 486.56h.01M216.23 458.38h.01M202.07 489.9h.01M205.77 486.54h.01M209.53 470.15h.01M210.54 467.63h.01M211.98 471.09h.01M216.63 460.18h.01M203.23 490.95h.01M206.35 474.29h.01M205.48 482.99h.01M210.43 462.5h.01M203.35 479.54h.01M205.21 472.96h.01M213.27 457.77h.01M210.66 475.85h.01M207.74 465.74h.01M206.09 477.05h.01M214.65 460.04h.01M214.73 459.63h.01M205.88 484.55h.01M212.3 462.15h.01M207.23 480.8h.01M210.58 474.4h.01M208.66 485.05h.01M202.41 488.32h.01M210.36 480.57h.01M214.19 464.36h.01M211.33 461.43h.01M206.35 471.14h.01M206.16 478.25h.01M214.42 462.07h.01M211.47 472.37h.01M213.14 468.01h.01M210.01 475.26h.01M208.41 474.07h.01M209.37 464.5h.01M207.2 476.83h.01M217.52 455.75h.01M211.02 461.8h.01M210.57 462.27h.01M209.88 460.94h.01M211.55 462.99h.01M202.85 482.24h.01M202.24 484.43h.01M207.76 467.56h.01M213.35 469.27h.01M201.81 487.43h.01M209.98 480.86h.01M207.81 473.57h.01M208.98 481.13h.01M208.1 471.4h.01M211.76 471.72h.01M204.09 482.33h.01M202.44 485.48h.01M215.9 460.9h.01M208.83 483.73h.01M203.39 482.23h.01M207.58 467.53h.01M208.69 466.1h.01M205.39 478.6h.01M203.25 485.83h.01M203.45 484.82h.01M204.42 483.37h.01M210.22 470.65h.01M207.51 480.21h.01M202.74 490.07h.01M210.2 468.94h.01M212.22 465.09h.01M205.09 477.84h.01M205.37 471.58h.01M204.37 480.33h.01M201.83 487.17h.01M212.25 469.87h.01M216.5 455.75h.01M213.98 464.45h.01M207.5 475.17h.01M201.17 488.1h.01M201.86 489.13h.01" stroke="#30a8e0" stroke-width="1" stroke-linecap="round" fill="none" stroke-opacity="0.75"/>
<path d="M215.94 453.45h.01M219.81 454.1h.01M214.42 455.95h.01M216.99 452.92h.01M218.82 455.87h.01M215.85 457.93h.01M218.29 454.1h.01M217.38 458.97h.01M216.37 455.12h.01M216.97 454.74h.01M218.05 451.75h.01M218.73 455h.01" stroke="#30a8e0" stroke-width="1" stroke-linecap="round" fill="none" stroke-opacity="0.75"/>
<path d="M56.5 470.5 L56.67 470.84 L56.88 471.24 L57.14 471.75 L57.49 472.43 L57.93 473.32 L58.5 474.5 L59.19 476 L59.98 477.78 L60.87 479.79 L61.87 481.95 L62.98 484.21 L64.2 486.5 L65.57 488.89 L67.11 491.45 L68.75 494.11 L70.45 496.78 L72.15 499.4 L73.8 501.9 L75.41 504.28 L77.03 506.61 L78.65 508.89 L80.27 511.12 L81.89 513.29 L83.5 515.4 L85.11 517.46 L86.71 519.46 L88.31 521.41 L89.9 523.3 L91.5 525.13 L93.1 526.9 L94.7 528.64 L96.3 530.35 L97.9 532.01 L99.5 533.57 L101.1 535.01 L102.7 536.3 L104.3 537.4 L105.9 538.34 L107.5 539.16 L109.1 539.89 L110.7 540.59 L112.3 541.3 L113.9 542.01 L115.5 542.69 L117.1 543.34 L118.7 543.94 L120.3 544.5 L121.9 545 L123.53 545.45 L125.19 545.84 L126.85 546.19 L128.48 546.5 L130.04 546.77 L131.5 547 L132.92 547.19 L134.34 547.33 L135.7 547.42 L136.92 547.5 L137.94 547.55 L138.7 547.6 L139.85 547 L141.46 546.2 L143.35 545.23 L145.38 544.16 L147.38 543.03 L149.2 541.9 L150.85 540.76 L152.46 539.59 L154.05 538.35 L155.63 537.05 L157.2 535.67 L158.8 534.2 L160.41 532.64 L162.03 530.98 L163.65 529.25 L165.27 527.45 L166.89 525.6 L168.5 523.7 L170.11 521.72 L171.71 519.65 L173.31 517.52 L174.9 515.37 L176.5 513.25 L178.1 511.2 L179.69 509.22 L181.26 507.28 L182.84 505.36 L184.43 503.46 L186.04 501.54 L187.7 499.6 L189.53 497.5 L191.55 495.21 L193.6 492.93 L195.51 490.8 L197.14 489 L198.3 487.7" fill="none" stroke="#3a3a3a" stroke-width="0.9" stroke-linejoin="round" stroke-linecap="round" />
<line x1="43.7" y1="448.1" x2="43.7" y2="561" stroke="#000" stroke-width="1.4" />
<line x1="40.3" y1="453" x2="43.7" y2="453" stroke="#111" stroke-width="0.9" />
<text x="36.7" y="456.1" font-size="8.6" text-anchor="end" fill="#333">6</text>
<line x1="40.3" y1="474.4" x2="43.7" y2="474.4" stroke="#111" stroke-width="0.9" />
<text x="36.7" y="477.5" font-size="8.6" text-anchor="end" fill="#333">4</text>
<line x1="40.3" y1="496" x2="43.7" y2="496" stroke="#111" stroke-width="0.9" />
<text x="36.7" y="499.1" font-size="8.6" text-anchor="end" fill="#333">2</text>
<line x1="40.3" y1="517.5" x2="43.7" y2="517.5" stroke="#111" stroke-width="0.9" />
<text x="36.7" y="520.6" font-size="8.6" text-anchor="end" fill="#333">0</text>
<line x1="40.3" y1="539" x2="43.7" y2="539" stroke="#111" stroke-width="0.9" />
<text x="36.7" y="542.1" font-size="8.6" text-anchor="end" fill="#333">−2</text>
<line x1="43.1" y1="560.3" x2="229.8" y2="560.3" stroke="#000" stroke-width="1.4" />
<line x1="76.2" y1="560.3" x2="76.2" y2="563.7" stroke="#111" stroke-width="0.9" />
<text x="76.2" y="575" font-size="8.6" text-anchor="middle" fill="#333">−5</text>
<line x1="112.4" y1="560.3" x2="112.4" y2="563.7" stroke="#111" stroke-width="0.9" />
<text x="112.4" y="575" font-size="8.6" text-anchor="middle" fill="#333">0</text>
<line x1="148.5" y1="560.3" x2="148.5" y2="563.7" stroke="#111" stroke-width="0.9" />
<text x="148.5" y="575" font-size="8.6" text-anchor="middle" fill="#333">5</text>
<line x1="184.8" y1="560.3" x2="184.8" y2="563.7" stroke="#111" stroke-width="0.9" />
<text x="184.8" y="575" font-size="8.6" text-anchor="middle" fill="#333">10</text>
<line x1="221.2" y1="560.3" x2="221.2" y2="563.7" stroke="#111" stroke-width="0.9" />
<text x="221.2" y="575" font-size="8.6" text-anchor="middle" fill="#333">15</text>
<text x="114.6" y="588.7" font-size="11" fill="#111" textLength="42.9" lengthAdjust="spacingAndGlyphs" stroke="#111" stroke-width="0.32">Component 1</text>
<text x="19.1" y="522.4" font-size="11" fill="#111" textLength="43.7" lengthAdjust="spacingAndGlyphs" transform="rotate(-90 19.1 522.4)" stroke="#111" stroke-width="0.32">Component 2</text>
<text x="259.2" y="423.2" font-size="13.2" font-weight="bold" fill="#000" textLength="8.1" lengthAdjust="spacingAndGlyphs" stroke="#000" stroke-width="0.45">F</text>
<circle cx="334.8" cy="435" r="1.2" fill="#e0605a"/>
<text x="339" y="437.6" font-size="7.1" fill="#111" textLength="45" lengthAdjust="spacingAndGlyphs">R337X mutant</text>
<circle cx="400.5" cy="435" r="1.2" fill="#30aab8"/>
<text x="404.5" y="437.6" font-size="7.1" fill="#111" textLength="29.9" lengthAdjust="spacingAndGlyphs">corrected</text>
<path d="M304.53 456.86h.01M304.77 460.14h.01M308.78 460.48h.01M306.63 461.11h.01M307.25 463.12h.01M303.82 455.88h.01M308.18 467.07h.01M301.65 456.78h.01M307.87 463.46h.01M302.17 457.3h.01M301.73 451.91h.01M309.16 465.66h.01M307.74 465.18h.01M305.85 460.69h.01M302.61 452.34h.01M306.19 461.57h.01M306.91 457.2h.01M302.27 454.91h.01M307.84 463.78h.01M303.74 456.64h.01M304.35 453.76h.01M302.53 453.14h.01M309.12 464.73h.01M302 456.52h.01M306.43 464.17h.01M301.95 451.62h.01M302.88 452.91h.01M300.85 455.45h.01M308.72 464.66h.01M303.81 456.83h.01M306.2 460.73h.01M308.93 464.29h.01M302.4 452.82h.01M305.9 459.88h.01M306.38 458.58h.01M306.45 463.64h.01M301.36 452.59h.01M305.78 461.94h.01M302.55 457.11h.01M303.3 451.6h.01M308.18 464.79h.01M304.59 453.35h.01M308.28 463.07h.01M305.54 461.93h.01M308.7 460.56h.01M303.47 459.38h.01M305.3 458.59h.01M308.22 460.15h.01M310 465.97h.01M309.5 465.36h.01M307.66 458.89h.01M301.96 452.8h.01M307.88 461.72h.01M309.96 467.53h.01M301 452.51h.01M308.3 460.19h.01M304.53 459.08h.01M306.19 462.05h.01M304.48 452.53h.01M304.15 460.03h.01M308.9 466.78h.01M301.93 456.29h.01M303.4 456.04h.01M304.97 461.24h.01M303.96 454.27h.01M305.97 456.82h.01M303.82 451.65h.01M303.56 458.87h.01M301.76 455.16h.01M305.26 456.72h.01M304.54 458.97h.01M303.71 457.62h.01M308.97 466.55h.01M307.31 462.87h.01M304.21 457.01h.01" stroke="#e0605a" stroke-width="1" stroke-linecap="round" fill="none" stroke-opacity="0.85"/>
<path d="M306.5 447.3h.01M311 455h.01M302 450h.01" stroke="#e0605a" stroke-width="1" stroke-linecap="round" fill="none" stroke-opacity="0.85"/>
<path d="M363.8 540.87h.01M363.96 540.06h.01M364.4 539.36h.01M364.97 538.68h.01M365.05 539.56h.01M364.7 539.75h.01M366.11 540.75h.01M367.02 540.02h.01M367.2 540.59h.01M367.45 540.61h.01M365.81 542.24h.01M367 540.73h.01M313.81 478.2h.01M313.53 478.09h.01M313 478.78h.01M315.74 477.92h.01M314.39 478.66h.01M313.43 478.21h.01M327.31 504.12h.01M328.4 503.07h.01M328.74 503.97h.01M328.2 502.51h.01M327.36 504.61h.01M329.44 503.01h.01M364.01 538.06h.01M362.75 539.93h.01M363.1 539.55h.01M362.82 540.18h.01M363.62 539.42h.01M363.03 539.98h.01M330.25 503.95h.01M328.77 504.88h.01M329.6 504.19h.01M329.49 505.03h.01M329.03 504.99h.01M330.66 504.26h.01M315.76 477.67h.01M315.98 477.18h.01M315.04 478.32h.01M314.5 478.06h.01M313.69 477.95h.01M313.6 478.32h.01M307.25 466.86h.01M309.21 466.59h.01M307.15 467.34h.01M307.21 467.28h.01M308.47 466.57h.01M308.62 467.14h.01M354.5 535.3h.01M354.34 535.96h.01M354.57 534.87h.01M355.15 534h.01M355.73 534.24h.01M354.97 534.43h.01M370.27 541.51h.01M370.03 544.83h.01M370.35 543.15h.01M371.06 541.22h.01M370.11 543.89h.01M370 543.93h.01M345.87 527.16h.01M347.26 524.86h.01M347.99 525.36h.01M347.06 526.59h.01M346.18 525.87h.01M346.66 525.62h.01M358.46 536.19h.01M359.05 534.79h.01M358.23 535.53h.01M359.11 535.12h.01M358.72 535.16h.01M357.26 537.01h.01M331.29 507.96h.01M331.9 506.16h.01M330.37 507.86h.01M330.94 507.54h.01M331.65 506.41h.01M331.94 506.38h.01M306.19 460.95h.01M306.98 461.17h.01M306.34 460.36h.01M306.12 460.57h.01M306.22 461.63h.01M305.08 461.52h.01M333.68 510.55h.01M333.65 511.21h.01M334.25 510.5h.01M334.03 511.42h.01M333.82 510.74h.01M333.48 511.82h.01M327.41 504.64h.01M328.27 503.29h.01M329 502.73h.01M329.48 503.42h.01M328.74 503.74h.01M327.28 504.19h.01M347.65 526.19h.01M348.4 525.77h.01M348.16 526.04h.01M347.41 526.88h.01M346.83 526.47h.01M347.56 526.85h.01M328.73 501.56h.01M327.65 501.41h.01M328.1 502.37h.01M327.57 501.81h.01M327.18 501.57h.01M326.61 502.03h.01M361.37 539.18h.01M361.19 538.41h.01M361.62 536.99h.01M360.99 537.9h.01M361.16 537.83h.01M360.95 537.8h.01M379.15 546.66h.01M379.54 544.34h.01M378.76 545.79h.01M379.65 546.33h.01M379.45 545.87h.01M379.51 546.96h.01M308.92 469.94h.01M310.43 469.05h.01M310.8 469.4h.01M310.03 469.81h.01M309.06 470.17h.01M310.37 469.12h.01M334.49 514.62h.01M336.6 512.88h.01M335.04 513.98h.01M334.93 514.58h.01M336.38 513.08h.01M335.26 514.65h.01M329.24 506.48h.01M331.25 505.15h.01M330.46 505.35h.01M330.2 505.91h.01M330.35 505.4h.01M329.19 506.67h.01M320.66 487.67h.01M318.05 489.39h.01M318 488.81h.01M318.69 488.02h.01M319.83 488.37h.01M319.84 487.74h.01M335.96 514.87h.01M336.91 513.54h.01M336.88 513.1h.01M337.56 513.61h.01M336.15 513.55h.01M335.69 514.67h.01M348.75 526.07h.01M346.7 528.59h.01M348.84 526.01h.01M348.58 526.72h.01M347.43 527.75h.01M348.93 526.25h.01M383.2 544.51h.01M383.59 543.94h.01M383.47 546.82h.01M383.93 546.26h.01M383.44 544.22h.01M383.05 545.27h.01M326.84 498.53h.01M326.78 499.18h.01M325.92 499.7h.01M326.62 498.68h.01M325.78 498.55h.01M326.7 498.63h.01M308.08 463.09h.01M308.47 462.91h.01M306.85 463.5h.01M308.5 462.93h.01M307.2 463.58h.01M305.36 463.92h.01M325.5 497.98h.01M325.66 497.23h.01M324.96 498.16h.01M324.62 498.44h.01M325.87 498.21h.01M326.94 496.71h.01" stroke="#e0605a" stroke-width="1" stroke-linecap="round" fill="none" stroke-opacity="0.85"/>
<path d="M311.19 472.13h.01M314.47 478.01h.01M386.28 545.21h.01M331.06 502.01h.01M313.73 477.44h.01M332.14 506.37h.01M358.51 535.09h.01M361.44 539.07h.01M385.75 547.44h.01M321.91 491.86h.01M374.63 544.53h.01M350.95 530.88h.01M310.28 469.89h.01M328.32 502.7h.01M338.8 519.07h.01M306.75 462.33h.01M328.93 502.37h.01M335.94 510.82h.01M347.61 528.44h.01M348.43 529.36h.01M342.56 524.6h.01M310.31 470.39h.01M352.14 531.56h.01M376.57 544.88h.01M380.62 545.54h.01M329.42 504.21h.01M374.22 543.12h.01M376.58 546.77h.01M371.26 545.23h.01M380.75 544.24h.01M370.85 542.12h.01M375.39 544.42h.01M313.68 479.59h.01M323.65 494.47h.01M378.03 542.15h.01M313.12 475.96h.01M308.62 462.64h.01M339.44 523.03h.01M369.07 541.39h.01M333.51 510.49h.01M317.16 483.11h.01M321.81 489.43h.01M348.73 532.25h.01M362.17 538.61h.01M328.09 502.76h.01M351.08 530.88h.01M310.42 472.09h.01M322.95 494.97h.01M311.5 477.98h.01M342.07 521.16h.01M348.07 523.84h.01M370.27 541.44h.01M349.02 529.81h.01M346.5 528.22h.01M314.19 478.02h.01M388.08 543.55h.01M356 535.45h.01M338.01 515.71h.01M326.6 498.58h.01M328.26 504.18h.01M323.37 494.37h.01M330.66 507.04h.01M382.13 545.61h.01M311 473.22h.01M339.83 519.16h.01M310.93 472.27h.01M321.85 493.25h.01M369.46 543.39h.01M308.92 471.09h.01M352.45 530.6h.01M367.61 542.21h.01M352.93 530.85h.01M341.53 523.26h.01M335.61 511.53h.01M375.35 543.49h.01M333.44 509.78h.01M319.07 485.74h.01M365.34 541.85h.01M345.07 522.3h.01M322.96 492.04h.01M310.29 466.3h.01M320.99 491.21h.01M335.16 514.82h.01M363.3 538.92h.01M338.32 517.73h.01M345.07 524.72h.01M361.54 537.07h.01M307.95 464.56h.01M323.86 497.01h.01M338.22 516.61h.01" stroke="#e0605a" stroke-width="1" stroke-linecap="round" fill="none" stroke-opacity="0.85"/>
<path d="M363.95 541.19h.01M330.06 506.47h.01M314.17 478.61h.01M318.96 491.83h.01M335.4 511.6h.01M368.5 541.27h.01M314.96 482.59h.01M362.87 540.51h.01M324.26 493.41h.01M324.56 494.46h.01M345.74 524.8h.01M380.88 547.45h.01M330.42 506.86h.01M331.78 513.34h.01" stroke="#30aab8" stroke-width="1" stroke-linecap="round" fill="none" stroke-opacity="0.85"/>
<path d="M388.18 550.07h.01M387.6 547.85h.01M388.1 548.35h.01M388.21 549.41h.01M387.74 550.73h.01M388.87 549.48h.01M388.76 549.58h.01M387.92 549.55h.01M387.92 548.53h.01M388.4 547.9h.01M387.88 550.89h.01M388.54 549.44h.01M371.2 545.49h.01M370.27 548.34h.01M370.46 546.64h.01M370.37 547h.01M370.59 547.01h.01M370.76 547.1h.01M385.77 548.59h.01M385.42 549.07h.01M386.18 549.13h.01M385.76 550.89h.01M386.28 549.63h.01M385.64 548.54h.01M385.58 548.22h.01M384.62 549.19h.01M384.1 549.95h.01M384.33 549.21h.01M384.42 548.44h.01M384.36 551.26h.01M383.63 548.86h.01M383.85 549.83h.01M384.19 550.58h.01M383.18 548.91h.01M383.27 548.79h.01M383.35 549.38h.01M387.47 548.5h.01M388.11 547.79h.01M388.09 547.99h.01M388.02 549.61h.01M388.1 550.86h.01M387.86 548h.01M370.86 548.29h.01M370.57 547.67h.01M371.64 545.57h.01M370.56 548.31h.01M371.81 546.22h.01M371.33 547.11h.01" stroke="#e0605a" stroke-width="1" stroke-linecap="round" fill="none" stroke-opacity="0.85"/>
<path d="M398.35 545.49h.01M398.66 544.47h.01M398.56 543.91h.01M397.85 544.53h.01M397.88 543.41h.01M398.11 544.33h.01M408.53 535.62h.01M407.87 535.15h.01M408.45 535.28h.01M408.04 534.1h.01M408.36 534.94h.01M409.23 535.67h.01M391.87 547.55h.01M391.77 549.22h.01M391 546.61h.01M391.95 548.71h.01M392.22 549.65h.01M391.99 548.96h.01M411.45 534.27h.01M411.38 533.58h.01M411.18 532.91h.01M410.89 533.4h.01M411.59 534.25h.01M409.77 531.63h.01M407.85 533.77h.01M408.05 533.64h.01M410.2 535.42h.01M409.01 534.23h.01M409.74 535.09h.01M410.14 534.95h.01M393.62 545.95h.01M393.13 545.68h.01M393.25 545.68h.01M394.08 547.32h.01M393.97 548.57h.01M393.83 547.99h.01M399.15 541.81h.01M399.25 542.06h.01M399.9 542.68h.01M400.58 542.84h.01M401.26 543.89h.01M399.79 543.23h.01M402.09 539.52h.01M402.62 539.22h.01M403.23 539.28h.01M403.68 540.57h.01M403.39 539.78h.01M402.81 538.94h.01M392.41 547.51h.01M392.67 549.42h.01M391.61 547.53h.01M391.36 546.7h.01M391.91 546.52h.01M392.65 549.34h.01" stroke="#e0605a" stroke-width="1" stroke-linecap="round" fill="none" stroke-opacity="0.85"/>
<path d="M408.41 535.67h.01M390.63 546.88h.01M405.16 538.92h.01M396.21 545.19h.01M406.24 539.89h.01M404.49 538.42h.01" stroke="#30aab8" stroke-width="1" stroke-linecap="round" fill="none" stroke-opacity="0.85"/>
<path d="M422.49 521.75h.01M430.27 497.41h.01M412.9 521.09h.01M443.71 486.47h.01M422.33 513.88h.01M416.83 513.16h.01M445.42 494.19h.01M433.99 505.55h.01M439.44 495.24h.01M433.27 502.67h.01M425.54 502.96h.01M429.76 501.4h.01M419.79 519.86h.01M430.94 501.76h.01M444.24 488.58h.01M447.34 482.87h.01M442.76 487.29h.01M434.28 501.24h.01M434.95 492.84h.01M408.27 520.99h.01M424.43 509.57h.01M426.89 509.35h.01M413.47 515.39h.01M435.86 494.6h.01M429.8 500.83h.01M438.41 492.97h.01M437.79 493.02h.01M413.89 524.2h.01M435.4 490.56h.01M417.16 519.41h.01M412.01 526.16h.01M410.94 523.3h.01M417.34 524.31h.01M416.67 518.45h.01M432.64 502.73h.01M429.6 508.83h.01M436.66 492.44h.01M443.7 485.1h.01M438.12 493.33h.01M431.76 503.27h.01M440.51 493.17h.01M441.56 488.77h.01M419.8 511.77h.01M433.3 495.78h.01M414.53 521.91h.01" stroke="#e0605a" stroke-width="1" stroke-linecap="round" fill="none" stroke-opacity="0.85"/>
<path d="M466.32 451.29h.01M452.47 480.37h.01M465.59 452.03h.01M463.19 464.9h.01M456.22 467.02h.01M454.95 475.84h.01M455.47 480.91h.01M455.82 478.89h.01M466.87 455.33h.01M463.33 462.57h.01M455.43 480.29h.01M458.95 468.17h.01M463.78 457.3h.01M452.79 479.9h.01M463.33 453.77h.01M460.28 461.73h.01M463.47 455.73h.01M456.55 478.19h.01M455.69 476.58h.01M459.12 460.25h.01M459.38 468.79h.01M458.75 468.26h.01M456.85 465.24h.01M460.53 474.23h.01M463.33 452.19h.01M459.5 469.18h.01M457.98 468.97h.01M460.08 466.3h.01M464.36 464.81h.01M466.91 458.27h.01M457.31 472.49h.01M458.91 458.77h.01M460.07 464.42h.01M465.83 455.31h.01M461.24 470.86h.01M454.64 467.76h.01M464.89 453.97h.01M462.06 453.32h.01M466.92 456.15h.01M466.89 452.01h.01M462.85 458.22h.01M456.99 476.08h.01M462.65 467.47h.01M461.7 469.6h.01M455.62 469.62h.01M455.73 468.43h.01M455.78 476.38h.01M460.23 462.13h.01M459.04 461.09h.01M457.36 468.08h.01M457.32 467.2h.01M453.77 481.5h.01M455.85 467.44h.01M457.32 476.81h.01M463.85 464.93h.01M465.84 459.42h.01M459.75 463.61h.01M458.85 459.68h.01M451.52 479.23h.01M457.07 470.26h.01M459.57 472.26h.01M460.98 461.82h.01M465.37 459.04h.01M453.8 477.72h.01M464.75 461.79h.01M462.07 468.41h.01M466.56 457.43h.01M453.12 471.99h.01M457.46 466.61h.01M460.57 465.43h.01M459.29 463.63h.01M453.25 479.82h.01M458.44 466.41h.01M453.6 477.76h.01M461.22 467.22h.01M454.83 477.64h.01M466.45 452.84h.01M460.15 458.28h.01M455.27 476.93h.01M463.94 455.24h.01M462.73 455.03h.01M458.07 472.02h.01M454.39 474.34h.01M461.99 460.28h.01M454.95 475.85h.01M459.79 458.5h.01M466.18 451.66h.01M458.62 462.79h.01M452.28 475.01h.01M466.17 454.01h.01M462.32 455.2h.01M455.76 479.63h.01M462.99 466.66h.01M451.73 479.4h.01M461.81 453.53h.01" stroke="#e0605a" stroke-width="1" stroke-linecap="round" fill="none" stroke-opacity="0.85"/>
<path d="M461.99 456.08h.01M454.43 475.86h.01M467.76 448.89h.01M459.9 472.62h.01M459.49 464.26h.01M469.55 447.69h.01M465.61 450.53h.01M459.02 470.4h.01M456.72 474.99h.01M463.53 453.72h.01M460.2 471.25h.01M463.93 453.84h.01M461.85 466.76h.01M458.22 475.69h.01M463.54 458.32h.01M460.35 472.33h.01M464.78 457.65h.01M460.58 467.59h.01M464.7 458.7h.01M457.04 472.6h.01M460.96 465.11h.01M462.45 465.04h.01M459.35 475h.01M457.73 475.38h.01M458.25 464.42h.01M466.16 455.61h.01M460.1 464.35h.01M465.08 454.61h.01M465.47 458.32h.01M463.06 463.96h.01M458.15 471.04h.01M463.55 458.11h.01M463.75 459.05h.01M460.26 460.82h.01M460.42 458.78h.01M460.05 468.48h.01M458.76 475.94h.01M460.01 461.32h.01M465.57 453.96h.01M464.82 451.72h.01" stroke="#30aab8" stroke-width="1" stroke-linecap="round" fill="none" stroke-opacity="0.85"/>
<path d="M469.5 443.8h.01M471 443.6h.01M468 446h.01" stroke="#30aab8" stroke-width="1" stroke-linecap="round" fill="none" stroke-opacity="0.85"/>
<path d="M305.5 461 L305.66 461.33 L305.84 461.69 L306.08 462.16 L306.41 462.81 L306.87 463.74 L307.5 465 L308.31 466.66 L309.28 468.66 L310.38 470.92 L311.58 473.37 L312.86 475.92 L314.2 478.5 L315.63 481.19 L317.18 484.06 L318.81 487.03 L320.49 490.03 L322.16 492.98 L323.8 495.8 L325.41 498.52 L327.03 501.22 L328.65 503.86 L330.27 506.43 L331.89 508.88 L333.5 511.2 L335.11 513.36 L336.71 515.39 L338.31 517.31 L339.9 519.15 L341.5 520.94 L343.1 522.7 L344.7 524.44 L346.3 526.15 L347.9 527.8 L349.5 529.39 L351.1 530.89 L352.7 532.3 L354.3 533.61 L355.9 534.83 L357.5 535.96 L359.1 537.03 L360.7 538.04 L362.3 539 L363.9 539.91 L365.5 540.77 L367.1 541.57 L368.7 542.31 L370.3 542.98 L371.9 543.6 L373.53 544.15 L375.19 544.64 L376.85 545.07 L378.48 545.44 L380.04 545.75 L381.5 546 L382.92 546.18 L384.34 546.27 L385.7 546.3 L386.92 546.3 L387.94 546.29 L388.7 546.3 L389.85 545.65 L391.46 544.79 L393.35 543.75 L395.38 542.58 L397.38 541.31 L399.2 540 L400.85 538.61 L402.46 537.12 L404.05 535.53 L405.63 533.87 L407.2 532.15 L408.8 530.4 L410.41 528.59 L412.03 526.71 L413.65 524.78 L415.27 522.81 L416.89 520.81 L418.5 518.8 L420.11 516.77 L421.71 514.7 L423.31 512.61 L424.9 510.5 L426.5 508.39 L428.1 506.3 L429.69 504.22 L431.26 502.13 L432.84 500.05 L434.43 497.97 L436.04 495.88 L437.7 493.8 L439.53 491.57 L441.55 489.17 L443.6 486.77 L445.51 484.54 L447.14 482.66 L448.3 481.3" fill="none" stroke="#3a3a3a" stroke-width="0.9" stroke-linejoin="round" stroke-linecap="round" />
<line x1="293.4" y1="439.2" x2="293.4" y2="561" stroke="#000" stroke-width="1.4" />
<line x1="290" y1="444.5" x2="293.4" y2="444.5" stroke="#111" stroke-width="0.9" />
<text x="286.4" y="447.6" font-size="8.6" text-anchor="end" fill="#333">6</text>
<line x1="290" y1="467.9" x2="293.4" y2="467.9" stroke="#111" stroke-width="0.9" />
<text x="286.4" y="471" font-size="8.6" text-anchor="end" fill="#333">4</text>
<line x1="290" y1="491" x2="293.4" y2="491" stroke="#111" stroke-width="0.9" />
<text x="286.4" y="494.1" font-size="8.6" text-anchor="end" fill="#333">2</text>
<line x1="290" y1="514.2" x2="293.4" y2="514.2" stroke="#111" stroke-width="0.9" />
<text x="286.4" y="517.3" font-size="8.6" text-anchor="end" fill="#333">0</text>
<line x1="290" y1="537.4" x2="293.4" y2="537.4" stroke="#111" stroke-width="0.9" />
<text x="286.4" y="540.5" font-size="8.6" text-anchor="end" fill="#333">−2</text>
<line x1="292.8" y1="560.3" x2="478.5" y2="560.3" stroke="#000" stroke-width="1.4" />
<line x1="325.7" y1="560.3" x2="325.7" y2="563.7" stroke="#111" stroke-width="0.9" />
<text x="325.7" y="575" font-size="8.6" text-anchor="middle" fill="#333">−5</text>
<line x1="362.1" y1="560.3" x2="362.1" y2="563.7" stroke="#111" stroke-width="0.9" />
<text x="362.1" y="575" font-size="8.6" text-anchor="middle" fill="#333">0</text>
<line x1="397.9" y1="560.3" x2="397.9" y2="563.7" stroke="#111" stroke-width="0.9" />
<text x="397.9" y="575" font-size="8.6" text-anchor="middle" fill="#333">5</text>
<line x1="434.2" y1="560.3" x2="434.2" y2="563.7" stroke="#111" stroke-width="0.9" />
<text x="434.2" y="575" font-size="8.6" text-anchor="middle" fill="#333">10</text>
<line x1="470.6" y1="560.3" x2="470.6" y2="563.7" stroke="#111" stroke-width="0.9" />
<text x="470.6" y="575" font-size="8.6" text-anchor="middle" fill="#333">15</text>
<text x="364.8" y="588.7" font-size="11" fill="#111" textLength="42.5" lengthAdjust="spacingAndGlyphs" stroke="#111" stroke-width="0.32">Component 1</text>
<text x="268.4" y="518" font-size="11" fill="#111" textLength="44.1" lengthAdjust="spacingAndGlyphs" transform="rotate(-90 268.4 518)" stroke="#111" stroke-width="0.32">Component 2</text>
<text x="8.7" y="613.1" font-size="12.8" font-weight="bold" fill="#000" textLength="10.3" lengthAdjust="spacingAndGlyphs" stroke="#000" stroke-width="0.45">G</text>
<text x="26.2" y="626" font-size="10.3" fill="#111" textLength="101.9" lengthAdjust="spacingAndGlyphs">Healthy Volunteer Pair</text>
<line x1="51" y1="632" x2="51" y2="753.7" stroke="#000" stroke-width="1.4" />
<line x1="50.4" y1="753.2" x2="103.1" y2="753.2" stroke="#000" stroke-width="1.4" />
<line x1="65.6" y1="753.1" x2="65.6" y2="756.6" stroke="#111" stroke-width="0.9" />
<line x1="89.3" y1="753.1" x2="89.3" y2="756.6" stroke="#111" stroke-width="0.9" />
<rect x="55" y="637.1" width="21.5" height="110.4" fill="#d96b6c" />
<rect x="55" y="646.25" width="21.5" height="101.25" fill="#cf8f22" />
<rect x="55" y="649" width="21.5" height="98.5" fill="#a6a232" />
<rect x="55" y="652.9" width="21.5" height="94.6" fill="#67a83e" />
<rect x="55" y="679.4" width="21.5" height="68.1" fill="#62aa72" />
<rect x="55" y="686.6" width="21.5" height="60.9" fill="#62b0b8" />
<rect x="55" y="696.1" width="21.5" height="51.4" fill="#66a3de" />
<rect x="55" y="710" width="21.5" height="37.5" fill="#8f8bc3" />
<rect x="55" y="726.25" width="21.5" height="21.25" fill="#ad70a8" />
<rect x="55" y="733.75" width="21.5" height="13.75" fill="#d15a98" />
<rect x="79" y="637.1" width="21.3" height="110.4" fill="#d96b6c" />
<rect x="79" y="647.5" width="21.3" height="100" fill="#cf8f22" />
<rect x="79" y="649.4" width="21.3" height="98.1" fill="#a6a232" />
<rect x="79" y="660" width="21.3" height="87.5" fill="#67a83e" />
<rect x="79" y="688.75" width="21.3" height="58.75" fill="#62aa72" />
<rect x="79" y="692.8" width="21.3" height="54.7" fill="#62b0b8" />
<rect x="79" y="697.75" width="21.3" height="49.75" fill="#66a3de" />
<rect x="79" y="710.9" width="21.3" height="36.6" fill="#8f8bc3" />
<rect x="79" y="724.75" width="21.3" height="22.75" fill="#ad70a8" />
<rect x="79" y="737.9" width="21.3" height="9.6" fill="#d15a98" />
<text x="45.7" y="719.2" font-size="9.8" fill="#111" textLength="60.7" lengthAdjust="spacingAndGlyphs" transform="rotate(-90 45.7 719.2)">Fraction of total</text>
<text x="64.9" y="774" font-size="8.7" text-anchor="end" fill="#111" textLength="28.4" lengthAdjust="spacingAndGlyphs" transform="rotate(-45 64.9 774)">GATA2</text>
<text x="62.6" y="771.2" font-size="5.4" fill="#111" textLength="6.2" lengthAdjust="spacingAndGlyphs" transform="rotate(-45 62.6 771.2)">+/-</text>
<text x="96" y="765.6" font-size="8.9" text-anchor="end" fill="#111" textLength="14.2" lengthAdjust="spacingAndGlyphs" transform="rotate(-45 96 765.6)">WT</text>
<text x="114.6" y="648.5" font-size="7.1" fill="#111" textLength="26.9" lengthAdjust="spacingAndGlyphs">Cell type</text>
<rect x="112" y="653.4" width="8" height="7.6" fill="#d96b6c" />
<text x="123" y="659.7" font-size="7.1">DC−Prog</text>
<rect x="112" y="662.27" width="8" height="7.6" fill="#cf8f22" />
<text x="123" y="668.57" font-size="7.1">Eo−Prog</text>
<rect x="112" y="671.14" width="8" height="7.6" fill="#a6a232" />
<text x="123" y="677.44" font-size="7.1">HSPC</text>
<rect x="112" y="680.01" width="8" height="7.6" fill="#67a83e" />
<text x="123" y="686.31" font-size="7.1">Lymph−Prog</text>
<rect x="112" y="688.88" width="8" height="7.6" fill="#62aa72" />
<text x="123" y="695.18" font-size="7.1">Mk−Prog</text>
<rect x="112" y="697.75" width="8" height="7.6" fill="#62b0b8" />
<text x="123" y="704.05" font-size="7.1">MPP</text>
<rect x="112" y="706.62" width="8" height="7.6" fill="#66a3de" />
<text x="123" y="712.92" font-size="7.1">Neu−Prog</text>
<rect x="112" y="715.49" width="8" height="7.6" fill="#8f8bc3" />
<text x="123" y="721.79" font-size="7.1">Ba−Prog</text>
<rect x="112" y="724.36" width="8" height="7.6" fill="#ad70a8" />
<text x="123" y="730.66" font-size="7.1">Er−Prog</text>
<rect x="112" y="733.23" width="8" height="7.6" fill="#d15a98" />
<text x="123" y="739.53" font-size="7.1">Mo−Prog</text>
<text x="180.1" y="626.2" font-size="10.4" fill="#111" textLength="89.4" lengthAdjust="spacingAndGlyphs">GATA2 R337X Pair</text>
<line x1="198.4" y1="632" x2="198.4" y2="753.8" stroke="#000" stroke-width="1.4" />
<line x1="197.8" y1="753.2" x2="251" y2="753.2" stroke="#000" stroke-width="1.4" />
<line x1="212.8" y1="753.2" x2="212.8" y2="756.7" stroke="#111" stroke-width="0.9" />
<line x1="236.8" y1="753.2" x2="236.8" y2="756.7" stroke="#111" stroke-width="0.9" />
<rect x="202.2" y="637.2" width="21.6" height="110.1" fill="#d96b6c" />
<rect x="202.2" y="652.5" width="21.6" height="94.8" fill="#cf8f22" />
<rect x="202.2" y="655.6" width="21.6" height="91.7" fill="#a6a232" />
<rect x="202.2" y="669.2" width="21.6" height="78.1" fill="#67a83e" />
<rect x="202.2" y="707.9" width="21.6" height="39.4" fill="#62aa72" />
<rect x="202.2" y="715.6" width="21.6" height="31.7" fill="#62b0b8" />
<rect x="202.2" y="738.5" width="21.6" height="8.8" fill="#66a3de" />
<rect x="226.2" y="637.2" width="21.6" height="110.1" fill="#d96b6c" />
<rect x="226.2" y="641" width="21.6" height="106.3" fill="#cf8f22" />
<rect x="226.2" y="645" width="21.6" height="102.3" fill="#a6a232" />
<rect x="226.2" y="662" width="21.6" height="85.3" fill="#67a83e" />
<rect x="226.2" y="671.8" width="21.6" height="75.5" fill="#62aa72" />
<rect x="226.2" y="717.5" width="21.6" height="29.8" fill="#62b0b8" />
<rect x="226.2" y="746" width="21.6" height="1.3" fill="#66a3de" />
<text x="193.1" y="719.2" font-size="9.8" fill="#111" textLength="60.7" lengthAdjust="spacingAndGlyphs" transform="rotate(-90 193.1 719.2)">Fraction of total</text>
<text x="217.2" y="766.3" font-size="8.5" text-anchor="end" fill="#111" textLength="25.8" lengthAdjust="spacingAndGlyphs" transform="rotate(-45 217.2 766.3)">mutant</text>
<text x="240.8" y="766.3" font-size="8.5" text-anchor="end" fill="#111" textLength="35.6" lengthAdjust="spacingAndGlyphs" transform="rotate(-45 240.8 766.3)">corrected</text>
<text x="260.7" y="663.5" font-size="7.1" fill="#111" textLength="27.3" lengthAdjust="spacingAndGlyphs">Cell type</text>
<rect x="259" y="668.8" width="17.1" height="7.8" fill="#d96b6c" />
<text x="279" y="675.1" font-size="7.1">DC−Prog</text>
<rect x="259" y="677.65" width="17.1" height="7.8" fill="#cf8f22" />
<text x="279" y="683.95" font-size="7.1">Eo−Prog</text>
<rect x="259" y="686.5" width="17.1" height="7.8" fill="#a6a232" />
<text x="279" y="692.8" font-size="7.1">HSPC</text>
<rect x="259" y="695.35" width="17.1" height="7.8" fill="#67a83e" />
<text x="279" y="701.65" font-size="7.1">Lymph−Prog</text>
<rect x="259" y="704.2" width="17.1" height="7.8" fill="#62aa72" />
<text x="279" y="710.5" font-size="7.1">Mk−Er−Prog</text>
<rect x="259" y="713.05" width="17.1" height="7.8" fill="#62b0b8" />
<text x="279" y="719.35" font-size="7.1">MPP</text>
<rect x="259" y="721.9" width="17.1" height="7.8" fill="#66a3de" />
<text x="279" y="728.2" font-size="7.1">Neu−Prog</text>
<text x="336.9" y="613.2" font-size="12.8" font-weight="bold" fill="#000" textLength="9.6" lengthAdjust="spacingAndGlyphs" stroke="#000" stroke-width="0.45">H</text>
<line x1="375" y1="751.5" x2="511.5" y2="751.5" stroke="#7b7bd0" stroke-width="0.9" stroke-dasharray="0.9 1.6"/>
<line x1="430.4" y1="619" x2="430.4" y2="757.5" stroke="#7b7bd0" stroke-width="0.9" stroke-dasharray="0.9 1.6"/>
<line x1="455.4" y1="619" x2="455.4" y2="757.5" stroke="#7b7bd0" stroke-width="0.9" stroke-dasharray="0.9 1.6"/>
<path d="M434.1 741.7h.01M434.8 744.09h.01M432.4 743.82h.01M431.2 738.09h.01M430.77 742.05h.01M433.65 748.21h.01M436.54 751.16h.01M433.69 748.18h.01M436.61 743.55h.01M432.45 747.89h.01M433.48 740.85h.01M434.37 745.33h.01M436.8 748.16h.01M435.47 743.4h.01M439.71 748.44h.01M435.62 745.81h.01M433.52 746.21h.01M431.45 750.46h.01M430.96 743.61h.01M434.12 748.64h.01M433.75 750.1h.01M432.87 748.97h.01M433.77 751.26h.01M433.21 749.84h.01M433.48 751.01h.01M440.59 748.76h.01M432.25 745.27h.01M432.26 745.18h.01M438.15 747.09h.01M434.24 744.24h.01M434.08 747.57h.01M430.76 738.26h.01M432.47 751.93h.01M435.85 748.99h.01M440.07 750.48h.01M432.06 742.63h.01M433.77 742.7h.01M434.82 750.68h.01M438.12 749.25h.01M435.06 741.65h.01M436.48 743.12h.01M433.26 739.97h.01M438.44 745.43h.01M431.44 750.64h.01M431.24 741.65h.01M432.84 745.6h.01M431.2 744.8h.01M431.34 745.78h.01M437.95 746.86h.01M430.91 747.37h.01M431.28 741.99h.01M436.02 749.22h.01M437.85 748.91h.01M434.05 749.97h.01M435.07 749.26h.01M433.65 741.73h.01M431.73 749.39h.01M438.74 746.82h.01M434.92 744.1h.01M431.24 741.73h.01M431.89 744.72h.01M435.78 744.73h.01M434.65 746.31h.01M436.83 748.68h.01M432.55 742.03h.01M434.96 746.68h.01M433.67 751.62h.01M430.86 745.93h.01M436.25 745.83h.01M434.49 750.56h.01M432.94 743.07h.01M431.82 740.29h.01M435.65 749.58h.01M433.44 746.72h.01M435.57 746.46h.01M437.59 746.9h.01M436.66 745.63h.01M430.9 744.55h.01M437.26 744.87h.01M433.08 742.47h.01M434.37 751.68h.01M438.18 749.34h.01M435.03 748.68h.01M438.92 747.34h.01M440.61 749.5h.01M434.26 742.15h.01M437.29 748.65h.01M432.48 747.39h.01M432.82 746.48h.01M432.57 739.48h.01M430.6 745.21h.01M432.19 746.28h.01M433.72 739.8h.01M434.06 744.39h.01M434.71 748.43h.01M430.62 741.69h.01M440.23 749.08h.01M434.57 751.45h.01M436.9 746.58h.01M438.98 750.01h.01M432.48 742.27h.01M434.94 751.87h.01M433.12 740.61h.01M433.68 749.54h.01M431.75 750.03h.01M435.18 748.19h.01M431.94 742.76h.01M433.23 751.31h.01M435.7 749.9h.01M431.48 746.92h.01M435.05 743.21h.01M433.86 744.29h.01M431.23 740.19h.01M439.98 748.12h.01M436.99 748.35h.01M438.51 745.64h.01M434.43 749.65h.01M433.6 745.19h.01M430.62 739.77h.01M433.13 750.76h.01M432.32 748.88h.01M432.87 745.56h.01M437.65 748.24h.01M434.36 745.9h.01M437.39 750.49h.01M439.5 750.89h.01M440.06 747.94h.01M441.7 750.82h.01M433.04 747.52h.01M437.9 746.13h.01M433.7 751.72h.01M431.3 745.73h.01M431.27 747.77h.01M438.01 749.32h.01M431.21 745.05h.01M441.5 750.34h.01M438.38 749.36h.01M434.03 744.72h.01M439.34 747.18h.01M434.69 748.84h.01M439.69 749.98h.01M432.96 741.2h.01M433.11 744.59h.01M440.73 751.98h.01M440.19 749.1h.01M431.78 747.23h.01M437.8 745.48h.01M431.88 750.52h.01M436.82 744.7h.01M433.21 741.14h.01M438.5 748.33h.01M436.47 748.3h.01M434.97 751.29h.01M432.43 741.75h.01M431.02 750.86h.01M436.37 749.6h.01M432.61 741.03h.01M436.5 743.26h.01M433.26 750.24h.01M439.56 751.44h.01M434.41 741.41h.01M436.55 744.57h.01M435.15 747.13h.01M435.44 744.59h.01M431.69 742.73h.01M431.38 741.98h.01M430.93 741.88h.01M435.35 746.83h.01M432.62 749.38h.01M440.86 749.76h.01M450.11 750.55h.01M448.82 737.16h.01M452.5 737.95h.01M448.1 749.73h.01M446.33 745.37h.01M453.42 726.23h.01M454.49 747.62h.01M451.19 748.59h.01M454.39 736.7h.01M451.24 721.97h.01M448.14 747h.01M449.79 750.08h.01M452.52 741.63h.01M449.29 734.09h.01M449.78 746.74h.01M452.77 729.44h.01M448.91 751.67h.01M450.43 727.29h.01M451.99 731.97h.01M446.93 741.61h.01M452.77 721.75h.01M452.93 733.14h.01M453.78 725.33h.01M450.03 745.33h.01M454.1 736.44h.01M454.03 743.77h.01M453.49 731.02h.01M453.23 737.03h.01M452.94 735.23h.01M451.15 731.59h.01M448.3 735.43h.01M454.83 726.21h.01M453.09 748.08h.01M450.98 748.48h.01M450.88 747.63h.01M452.13 749.46h.01M449.51 735.53h.01M450.36 740.67h.01M449.94 751.76h.01M450.43 725.8h.01M446.02 749.42h.01M450.43 741h.01M451.04 728.89h.01M453.88 743.16h.01M454.77 750.73h.01M450.02 731.84h.01M453.06 737.39h.01M447.79 751.03h.01M454.14 726.92h.01M454.76 746.9h.01M454.87 750.51h.01M447.38 745.22h.01M447.61 746.68h.01M453.04 723.56h.01M452.62 726.5h.01M454.53 739.77h.01M450.78 727.43h.01M453.36 720.62h.01M453.1 737.05h.01M448.49 731.71h.01M449.24 730.63h.01M446.39 742.58h.01M447.57 737.09h.01M444.94 750.31h.01M449.03 745.29h.01M446.43 749.97h.01M446.56 741.3h.01M453.87 739.49h.01M445.2 747.55h.01M452.62 741.12h.01M446.57 745.29h.01M453.62 719.29h.01M454.52 719.6h.01M448.83 742h.01M450.25 750.97h.01M448.71 748.05h.01M454.95 732.45h.01M450.62 746.81h.01M453.64 749.21h.01M454.32 730.46h.01M453.27 737.22h.01M449.9 738.31h.01M452.24 736.57h.01M452.37 723.76h.01M453.14 725.24h.01M447.8 738.52h.01M452.93 742.38h.01M450.94 726.06h.01M450.21 744.15h.01M453.73 743.4h.01M447.61 742.7h.01M454.45 740.21h.01M447.2 747.05h.01M449.19 749.34h.01M453.39 734.09h.01M451.18 722.96h.01M449.9 734.3h.01M451.66 742.06h.01M454.15 748.36h.01M453.24 722.98h.01M448.89 741.92h.01M448.46 743.38h.01M450.66 731.6h.01M448.16 733.62h.01M447.8 748.15h.01M448.37 743.39h.01M450.1 732.92h.01M450.5 744.56h.01M449.22 740.54h.01M447.13 740.96h.01M454.27 741.58h.01M451.04 728.19h.01M450.31 728.12h.01M451.29 730.13h.01M447.75 739.48h.01M453.66 740.27h.01M450 749.62h.01M449.07 733.19h.01M447.82 743.14h.01M454.25 737.59h.01M449.06 745.23h.01M450.75 738.86h.01M451.63 722.24h.01M450.47 738.5h.01M450.28 741.75h.01M454.21 750.2h.01M454.3 746.27h.01M451.9 735.9h.01M448.96 730.88h.01M446.22 745.53h.01M450.43 751.01h.01M449.64 750.73h.01M454.51 721.37h.01M449.83 739.38h.01M454.04 732.25h.01M452.39 726.57h.01M450.57 726.98h.01M445.85 747.57h.01M453.38 728.48h.01M448.99 731.71h.01M450.18 726.12h.01M454.59 746.2h.01M450.76 722.06h.01M448.59 734.8h.01M454.86 739.08h.01M451.85 734.05h.01M452.19 724.06h.01M454.79 750.21h.01M451.4 731.9h.01M453.07 727.45h.01M451.65 748.89h.01M452.75 735.37h.01M452.79 747.75h.01M450.85 724.13h.01M448.7 743.9h.01M446.89 741.38h.01M449.78 729.85h.01M452.53 730.9h.01M451.51 741.81h.01M452.99 746.13h.01M451.52 735.42h.01M447.7 750.32h.01M453.76 749.82h.01M451.52 749.75h.01M447.71 736.73h.01M453.73 723.47h.01M453.18 718.39h.01M452.48 728.04h.01M447.96 745.63h.01M452.06 725.1h.01M452.78 723.17h.01M448.56 749.73h.01M449.89 746.97h.01M445.59 750h.01M452.2 735.05h.01M447.92 737.95h.01M451.56 720.21h.01M454.98 723.38h.01M448.67 732.01h.01M449.18 741.37h.01M452.03 746.68h.01M446.28 751.05h.01M451.11 741.77h.01M447.63 737.19h.01M448.15 740.25h.01M450.15 737.83h.01M446.94 742.17h.01M446.27 748.28h.01M449.21 749.1h.01M450.89 748.97h.01M451.71 719.99h.01M449.91 749.85h.01M446.24 749.44h.01M453.26 744.42h.01M450.6 729.94h.01M452.11 732.07h.01M453.53 736.08h.01M451.53 719.7h.01M454.36 727.31h.01M449.13 740.59h.01M452.94 722.32h.01M450.38 726.93h.01M452.49 726.9h.01M451.18 732.43h.01M450.63 736.54h.01M448.91 742.92h.01M452.85 719.28h.01M452.37 743.08h.01M451.77 729.55h.01M449.79 737.15h.01M448.89 734.54h.01M453.32 742.24h.01M450.6 734.22h.01M451.46 740.09h.01M445.81 749.86h.01M448.82 737.33h.01M453.72 732.64h.01M449.19 730.43h.01M450.09 741.51h.01M449.94 727.04h.01M453.63 743.15h.01M446.25 747.53h.01M450.35 736.64h.01M450.61 741.1h.01M447.47 748.8h.01M452.26 722.43h.01M450.42 723.96h.01M451.02 739.18h.01M446.83 751.69h.01M454.54 732.2h.01M450.28 744.17h.01M453.1 742.07h.01M454.1 749.72h.01M454.78 737.03h.01M451.13 742.49h.01M452.29 738.2h.01M451.85 750.22h.01M451.43 743.75h.01M447.1 742.69h.01M453.58 741.43h.01M447.19 749.57h.01M448.25 737.8h.01M448.05 733.85h.01M453.23 738.29h.01M453.84 747.03h.01M444.81 748.7h.01M454.38 725.53h.01M452.8 741.02h.01M451.06 723.85h.01M453.75 730.54h.01M446.11 750.26h.01M447.23 749.92h.01M446.2 742.64h.01M448.87 740.73h.01M449.28 727.96h.01M451.1 723.25h.01M451.13 721.86h.01M453.88 751.28h.01M446.43 748.95h.01M452.32 745.09h.01M450.77 724.48h.01M453.02 744.06h.01M447.45 742.32h.01M449.43 733h.01M448.82 731.13h.01M447.92 734.13h.01M450.05 733.35h.01M449.06 729.16h.01M453.71 725.3h.01M448.8 737.68h.01M448.84 744.36h.01M451.3 747.99h.01M454.84 747.99h.01M451.95 750.04h.01M453.36 743.93h.01M450.52 740.99h.01M450.61 740.79h.01M449.03 733.39h.01M454.28 748.04h.01M450.11 738.9h.01M452.72 751.25h.01M450.71 734.11h.01M446.13 747.31h.01M450.93 737.56h.01M454.28 722.53h.01M452.28 733.83h.01M447.12 745.2h.01M448.98 740.01h.01M453.52 731.94h.01M446.86 744.9h.01M450.81 745.6h.01M446.26 750.03h.01M452.8 718.5h.01M446.82 749.14h.01M450.3 732.27h.01M449.62 732.73h.01M450.95 732.16h.01M448.35 735.96h.01M452.37 724.25h.01M451.25 737.59h.01M450.45 734.85h.01M447.35 742.67h.01M453.21 741.54h.01M450.45 733.24h.01M454.51 747.65h.01M450.12 745.06h.01M450.1 742.67h.01M454.26 742.07h.01M453.11 738.07h.01M448.37 737.89h.01M450.95 734.85h.01M447.93 738.59h.01M450.63 741.63h.01M451.65 750.84h.01M452.72 747.47h.01M446.91 747.65h.01M451.54 748.98h.01M450.83 744.9h.01M447.18 740.24h.01M446.75 741.45h.01M451.81 750.83h.01M445.79 747.27h.01M453.21 744.9h.01M448.63 730.72h.01M451.69 731.11h.01M454.4 750.21h.01M450.56 746.22h.01M447.55 746.12h.01M450.67 725.74h.01M448.32 747.66h.01M449.24 736.18h.01M453.33 726.61h.01M452.11 736.78h.01M453.16 746.65h.01M452.13 730.43h.01M448.68 733.03h.01M447.2 743.37h.01M447.92 751.71h.01M449.1 749.65h.01M454.73 719.05h.01M446.41 748.21h.01M448.12 743.98h.01M450.42 733.9h.01M451.82 732.26h.01M445.59 745.2h.01M448.83 739.52h.01M450.26 737.74h.01M453.4 729.35h.01M450.73 741.58h.01M453.12 736.42h.01M453.2 727.52h.01M448.79 739.79h.01M453.77 746.02h.01M454.14 735.39h.01M453.62 718.9h.01M451.95 737.75h.01M453.85 729.32h.01M451.71 719.95h.01M450.76 739.13h.01M451.17 737.69h.01M451.53 733.9h.01M450.44 736.54h.01M454.5 741.87h.01M451.01 737.2h.01M450.89 729.14h.01M454.13 751.44h.01M450.59 751.06h.01M451.68 743.29h.01M447.2 746.38h.01M452.65 727.26h.01M449.56 736.52h.01M450.62 749.65h.01M454.02 737.17h.01M452.66 749.49h.01M454.07 727.42h.01M454.95 731.16h.01M451.83 733.83h.01M445.42 749.71h.01M450.14 734.46h.01M451.94 749.74h.01M453.04 715.53h.01M453.95 711.25h.01M451.18 708.32h.01M450.1 714.3h.01M450.92 715h.01M452.73 717.75h.01M451.09 715.45h.01M453.16 708.22h.01M450.37 710.01h.01M451.85 712.48h.01M451.49 706.54h.01M452.43 709.71h.01M450.35 703.56h.01M453.26 703.98h.01M451.43 698.21h.01M449.79 710.25h.01M454.26 706.81h.01" stroke="#bdbdbd" stroke-width="1.1" stroke-linecap="round" fill="none" stroke-opacity="0.75"/>
<path d="M461.15 736.99h.01M468.69 751.68h.01M456.28 716.38h.01M456.01 718.96h.01M464.1 748.14h.01M459.72 728.54h.01M465.66 747.39h.01M465.64 742.63h.01M461.29 723.29h.01M457.78 741.54h.01M457.1 743.94h.01M466.86 747.2h.01M457.36 721.84h.01M456.04 737.59h.01M457.43 715.93h.01M458.06 748.37h.01M460.63 735.61h.01M461.41 727.47h.01M456.58 742.51h.01M457.57 731.55h.01M461.4 729.62h.01M460.35 733.95h.01M456.51 736.35h.01M458.21 743.91h.01M458.13 734.6h.01M460.37 738.88h.01M461.43 733.58h.01M463.86 733.27h.01M457.93 740.56h.01M458.51 738.77h.01M462.31 732.21h.01M464.25 736.29h.01M460.45 720.59h.01M461.44 749.01h.01M463.06 733.25h.01M462.04 735.79h.01M456.37 725.02h.01M458.54 735.79h.01M465.66 743.4h.01M460.15 722.95h.01M457.91 724.33h.01M460.91 729.85h.01M458.47 739.23h.01M459.08 726.49h.01M458.81 716.63h.01M469.93 750.38h.01M464.26 745.58h.01M459.19 716.24h.01M459.91 746.78h.01M458.86 735.6h.01M461.95 727.15h.01M463.81 746.03h.01M457.17 719.23h.01M456.67 742.15h.01M460.74 737.77h.01M457.79 743.76h.01M455.79 751.32h.01M457.21 743.89h.01M459.09 745.36h.01M457.51 740.5h.01M459.36 743.76h.01M456.98 748.52h.01M459.31 748.57h.01M457.22 743.16h.01M456.71 747.41h.01M456.16 748.02h.01M458.08 739.46h.01M458.21 750.29h.01M459.69 748.27h.01M457.78 750.11h.01M456.88 744.96h.01M456.62 750.22h.01M458.45 750.3h.01M456 743.2h.01M455.86 751.39h.01M455.94 744.46h.01M456.36 748.23h.01M457.21 741.52h.01M456.42 741.74h.01M457.67 739.37h.01M458.68 744.06h.01M458.68 745.56h.01M459.42 748.83h.01M457.52 739.89h.01M456.01 749.5h.01M459.69 747.78h.01M455.81 738.12h.01M455.87 741.59h.01M459.77 747.75h.01M457.4 741.9h.01M457.14 748.21h.01M458.18 747.34h.01M456.78 743.68h.01M457.52 743h.01M456.73 748.66h.01M427.93 749.84h.01M427.94 740.19h.01M425.05 747.5h.01M427.97 734.97h.01M427.98 742.95h.01M425.62 749.98h.01M426.34 744.39h.01M427.3 742h.01M426.71 744.47h.01M427.65 737.45h.01M426.99 737.69h.01M425.53 742.8h.01M425.42 743.2h.01M430.03 733.11h.01M428.07 739.48h.01M428.63 744.8h.01M428.31 740.41h.01M428.04 735.09h.01M427.08 741.23h.01M429.29 734.63h.01M429.85 744.49h.01M430.1 744.17h.01M424.35 750.52h.01M429.82 742.38h.01M430.14 745.03h.01M428.36 740.39h.01M424.97 749.69h.01M425.24 748.78h.01M463.87 719.15h.01M460.03 715.27h.01M461.58 740.28h.01M464.55 702.16h.01M475.8 730.29h.01M468.55 722.04h.01M456.3 703.16h.01M460.48 736.59h.01M471.52 723.64h.01M459.47 743.6h.01M461.46 735.36h.01M464.69 700.29h.01M458 692h.01M461 694h.01M468 702h.01M472 707h.01M456 712h.01M474 716h.01M428 720h.01M430 705h.01M459 663h.01M456 688h.01" stroke="#1a1a1a" stroke-width="1" stroke-linecap="round" fill="none" stroke-opacity="0.85"/>
<path d="M455.4 618.8h.01M489 618.8h.01" stroke="#999" stroke-width="1" stroke-linecap="round" fill="none"/>
<text x="455.4" y="661.9" font-size="4.6" fill="#d35fa6" textLength="16.6" lengthAdjust="spacingAndGlyphs">PLSCR1</text>
<text x="456" y="689.6" font-size="4.6" fill="#d35fa6" textLength="13" lengthAdjust="spacingAndGlyphs">STAT1</text>
<text x="448" y="711.6" font-size="4.6" fill="#d35fa6" textLength="9.7" lengthAdjust="spacingAndGlyphs">IRF7</text>
<text x="425.4" y="722.4" font-size="4.6" fill="#d35fa6" textLength="11.6" lengthAdjust="spacingAndGlyphs">CD36</text>
<text x="417" y="729" font-size="4.6" fill="#d35fa6" textLength="13" lengthAdjust="spacingAndGlyphs">MNDA</text>
<text x="412" y="737" font-size="4.6" fill="#d35fa6" textLength="11" lengthAdjust="spacingAndGlyphs">FCN1</text>
<text x="427" y="739" font-size="4.6" fill="#d35fa6" textLength="10" lengthAdjust="spacingAndGlyphs">CD14</text>
<text x="415.4" y="743.9" font-size="4.6" fill="#d35fa6" textLength="14.6" lengthAdjust="spacingAndGlyphs">MS4A7</text>
<text x="419" y="749.6" font-size="4.6" fill="#d35fa6" textLength="9.5" lengthAdjust="spacingAndGlyphs">LYZ</text>
<text x="420.8" y="755.4" font-size="4.6" fill="#d35fa6" textLength="16.2" lengthAdjust="spacingAndGlyphs">S100A8</text>
<text x="456.7" y="720.2" font-size="4.6" fill="#d35fa6" textLength="15.5" lengthAdjust="spacingAndGlyphs">TRIM22</text>
<text x="468.8" y="722.9" font-size="4.6" fill="#d35fa6" textLength="12.8" lengthAdjust="spacingAndGlyphs">PBX1</text>
<text x="457" y="727.4" font-size="4.6" fill="#d35fa6" textLength="13" lengthAdjust="spacingAndGlyphs">ANKRD</text>
<text x="471" y="727.4" font-size="4.6" fill="#d35fa6" textLength="18" lengthAdjust="spacingAndGlyphs">TSC22D1</text>
<text x="476" y="732.8" font-size="4.6" fill="#d35fa6" textLength="15.7" lengthAdjust="spacingAndGlyphs">ZBTB16</text>
<text x="462" y="732.8" font-size="4.6" fill="#d35fa6" textLength="12" lengthAdjust="spacingAndGlyphs">HBB</text>
<text x="463" y="737.6" font-size="4.6" fill="#d35fa6" textLength="11" lengthAdjust="spacingAndGlyphs">PLEK</text>
<text x="478" y="737.6" font-size="4.6" fill="#d35fa6" textLength="14.8" lengthAdjust="spacingAndGlyphs">GF11B</text>
<text x="483.6" y="742" font-size="4.6" fill="#d35fa6" textLength="13.8" lengthAdjust="spacingAndGlyphs">GATA1</text>
<text x="462.8" y="745.7" font-size="4.6" fill="#d35fa6" textLength="23.5" lengthAdjust="spacingAndGlyphs">HIST1H2AC</text>
<text x="458" y="750.7" font-size="4.6" fill="#d35fa6" textLength="10.8" lengthAdjust="spacingAndGlyphs">PPBP</text>
<text x="477" y="751.6" font-size="4.6" fill="#d35fa6" textLength="10" lengthAdjust="spacingAndGlyphs">HBD</text>
<text x="468.8" y="755.7" font-size="4.6" fill="#d35fa6" textLength="7.4" lengthAdjust="spacingAndGlyphs">PF4</text>
<line x1="466" y1="749" x2="477" y2="751" stroke="#d35fa6" stroke-width="0.4" />
<line x1="470" y1="740" x2="483" y2="740.4" stroke="#d35fa6" stroke-width="0.4" />
<line x1="462" y1="722" x2="468.8" y2="721.3" stroke="#d35fa6" stroke-width="0.4" />
<line x1="458" y1="733" x2="462" y2="731" stroke="#d35fa6" stroke-width="0.4" />
<line x1="374.4" y1="618.2" x2="374.4" y2="758.6" stroke="#000" stroke-width="1.4" />
<line x1="373.8" y1="758" x2="511.9" y2="758" stroke="#000" stroke-width="1.4" />
<line x1="370.9" y1="624.83" x2="374.4" y2="624.83" stroke="#111" stroke-width="0.9" />
<text x="367.6" y="627.93" font-size="8.6" text-anchor="end" fill="#333">250</text>
<line x1="370.9" y1="650.3" x2="374.4" y2="650.3" stroke="#111" stroke-width="0.9" />
<text x="367.6" y="653.4" font-size="8.6" text-anchor="end" fill="#333">200</text>
<line x1="370.9" y1="675.78" x2="374.4" y2="675.78" stroke="#111" stroke-width="0.9" />
<text x="367.6" y="678.88" font-size="8.6" text-anchor="end" fill="#333">150</text>
<line x1="370.9" y1="701.25" x2="374.4" y2="701.25" stroke="#111" stroke-width="0.9" />
<text x="367.6" y="704.35" font-size="8.6" text-anchor="end" fill="#333">100</text>
<line x1="370.9" y1="726.73" x2="374.4" y2="726.73" stroke="#111" stroke-width="0.9" />
<text x="367.6" y="729.83" font-size="8.6" text-anchor="end" fill="#333">50</text>
<line x1="370.9" y1="752.2" x2="374.4" y2="752.2" stroke="#111" stroke-width="0.9" />
<text x="367.6" y="755.3" font-size="8.6" text-anchor="end" fill="#333">0</text>
<line x1="380.8" y1="758" x2="380.8" y2="761.5" stroke="#111" stroke-width="0.9" />
<text x="380.8" y="773" font-size="8.6" text-anchor="middle" fill="#333">−5.0</text>
<line x1="412" y1="758" x2="412" y2="761.5" stroke="#111" stroke-width="0.9" />
<text x="412" y="773" font-size="8.6" text-anchor="middle" fill="#333">−2.5</text>
<line x1="443.2" y1="758" x2="443.2" y2="761.5" stroke="#111" stroke-width="0.9" />
<text x="443.2" y="773" font-size="8.6" text-anchor="middle" fill="#333">0.0</text>
<line x1="474.4" y1="758" x2="474.4" y2="761.5" stroke="#111" stroke-width="0.9" />
<text x="474.4" y="773" font-size="8.6" text-anchor="middle" fill="#333">2.5</text>
<line x1="505.6" y1="758" x2="505.6" y2="761.5" stroke="#111" stroke-width="0.9" />
<text x="505.6" y="773" font-size="8.6" text-anchor="middle" fill="#333">5.0</text>
<text x="416" y="788.5" font-size="10.8" fill="#111" textLength="55.2" lengthAdjust="spacingAndGlyphs" stroke="#111" stroke-width="0.32">log2 fold change</text>
<text x="345.2" y="728.1" font-size="10.8" fill="#111" textLength="86" lengthAdjust="spacingAndGlyphs" transform="rotate(-90 345.2 728.1)" stroke="#111" stroke-width="0.32">-log10 (adjusted p-value)</text>
</g>
<rect x="0.65" y="0.65" width="518.7" height="800.7" fill="none" stroke="#000" stroke-width="1.3"/>
</svg>
</body></html>
